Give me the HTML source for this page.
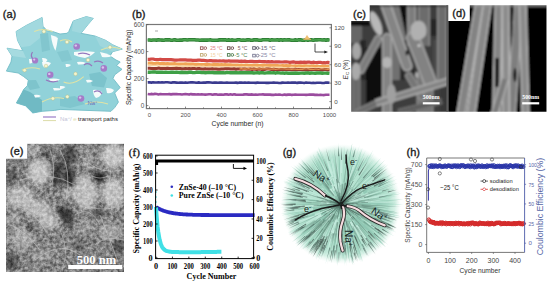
<!DOCTYPE html>
<html><head><meta charset="utf-8"><style>
html,body{margin:0;padding:0;background:#fff;width:550px;height:285px;overflow:hidden}
svg{display:block}
</style></head><body>
<svg width="550" height="285" viewBox="0 0 550 285">
<rect width="550" height="285" fill="#fff"/>
<text x="9.5" y="18.31" font-size="11" text-anchor="middle" font-weight="normal" fill="#1a1a1a" style="font-family:'Liberation Sans',sans-serif" stroke="#1a1a1a" stroke-width="0.35">(a)</text>
<filter id="ab" x="-10%" y="-10%" width="120%" height="120%"><feGaussianBlur stdDeviation="0.5"/></filter>
<g filter="url(#ab)">
<polygon points="16.1,31.5 26.3,25.4 42.1,17.5 43,26.3 47.4,31 52.6,31.5 60,34 67,33.3 68.8,31.5 73.2,21 86.3,16.6 93.3,18.4 88,24.5 81,33.3 95,36 105.6,40.3 112.6,44.7 122.3,49.1 112.6,51.7 110,56 116,60 120.2,62 116.6,65.6 122,69.3 114.7,74.8 113,78.4 120.2,87.5 114.7,93 118.4,102.1 114.7,107.6 111,111.3 90,110.5 60,109.4 54.7,110.4 42,111.3 32.8,113 25.5,105.8 16.4,103 21.9,93 23.7,89.4 27.4,85.7 28.3,80.2 23.7,76.6 18.2,73 6.4,71.1 11,62 12,56 7,48.2 22.8,50.8 21,47.3 17.5,40.3" fill="#91d2d9" stroke="#72bcc6" stroke-width="0.9" stroke-linejoin="round"/>
<polygon points="16.1,31.5 26.3,25.4 42.1,17.5 43,26.3 40,38 30,46 21,47.3 17.5,40.3" fill="#a2d9df" />
<polygon points="73.2,21 86.3,16.6 93.3,18.4 88,24.5 81,33.3 72,31" fill="#a0d8de" />
<polygon points="7,48.2 22.8,50.8 26,58 12,56" fill="#a6dbe0" />
<polygon points="95,36 105.6,40.3 112.6,44.7 122.3,49.1 112.6,51.7 100,46" fill="#9fd7dd" />
<polygon points="21.9,93 23.7,89.4 30,92 42,100 42,111.3 32.8,113 25.5,105.8 16.4,103" fill="#70bac4" />
<polygon points="89,74 100,72 107,78 104,87.5 92,86" fill="#7cc3cc" />
<polygon points="28.3,80.2 36,80 40,88 30,90 27.4,85.7" fill="#7ec4cc" />
<polygon points="60,98 75,96 85,104 70,108 60,106" fill="#80c6ce" />
<polygon points="40,34 48,33 50,50 42,52" fill="#82c6ce" />
<polygon points="57,52 68,50 72,60 62,62" fill="#84c8d0" />
<path d="M50.9,35 Q55,36 57.9,38 Q57,45 55.5,50.8 Q52,45 50.9,35 Z" fill="#f6fbfb"/>
<path d="M74,52 Q85,50.5 95,52 Q92,56 85,57.9 Q78,57 74,55 Z" fill="#f6fbfb"/>
<path d="M42,62 Q47,61 51,63 Q49,67 44,67.5 Q42,65 42,62 Z" fill="#f6fbfb"/>
<path d="M49,79 Q55,78 60,79.5 Q57,82 51,82 Z" fill="#f6fbfb"/>
<path d="M53,88 Q58,87.5 62,89 Q59,91 54,90.5 Z" fill="#f6fbfb"/>
<path d="M65.5,64 Q69,63.5 71,65 Q69,67.5 66,67 Z" fill="#f6fbfb"/>
<path d="M93,90 Q98,89 102,92 Q101,97 96,98 Q93,95 93,90 Z" fill="#f6fbfb"/>
<path d="M106,88 Q111,87.5 114,90 Q112,94 107,93 Z" fill="#f6fbfb"/>
<path d="M60,86 Q63,85.5 65.5,87 Q63,89.5 60,89 Z" fill="#f6fbfb"/>
<path d="M29,59 Q32,58.5 33.5,61 Q32,64 29.5,63.5 Z" fill="#f6fbfb"/>
<path d="M42,58 Q46,57.5 47.5,60 Q46,63 43,62.5 Z" fill="#f6fbfb"/>
<path d="M100,52 Q106,53 112,56 Q108,58 102,57 Z" fill="#f6fbfb"/>
<path d="M77,62 Q82,61 86,63 Q83,65 78,64.5 Z" fill="#f6fbfb"/>
<path d="M34,95 Q38,94 41,96 Q38,98 35,97.5 Z" fill="#f6fbfb"/>
<path d="M86,80 Q90,79 93,81 Q90,83 87,82.5 Z" fill="#f6fbfb"/>
</g>
<path d="M34.2,31.5 Q43,27.5 52.6,31.5" fill="none" stroke="#dfe3a6" stroke-width="1.1"/>
<path d="M63.6,82 Q73,86 83.7,76.6" fill="none" stroke="#dfe3a6" stroke-width="1.1"/>
<path d="M42,102 Q53,96 64,98.5" fill="none" stroke="#dfe3a6" stroke-width="1.1"/>
<path d="M101,50 Q111,45 121,49" fill="none" stroke="#dfe3a6" stroke-width="1.1"/>
<path d="M60,41 Q66,38 72,42" fill="none" stroke="#dfe3a6" stroke-width="1.1"/>
<path d="M22,70 Q30,66 40,69" fill="none" stroke="#dfe3a6" stroke-width="1.1"/>
<path d="M85,104 Q96,100 108,104" fill="none" stroke="#dfe3a6" stroke-width="1.1"/>
<path d="M32.5,52 Q30,56 33,59" fill="none" stroke="#9577bd" stroke-width="1.2"/>
<path d="M94,92 Q99,89 102,94" fill="none" stroke="#9577bd" stroke-width="1.2"/>
<path d="M78,54 Q84,52 90,55" fill="none" stroke="#9577bd" stroke-width="1.2"/>
<path d="M94,62 Q99,60 103,63" fill="none" stroke="#9577bd" stroke-width="1.2"/>
<path d="M46,80 Q52,83 58,81" fill="none" stroke="#9577bd" stroke-width="1.2"/>
<path d="M84,65 Q88,62 92,66" fill="none" stroke="#9577bd" stroke-width="1.2"/>
<circle cx="35.1" cy="60.5" r="3.1" fill="#a47cc8"/>
<circle cx="34.2" cy="59.6" r="1.1" fill="#d8c4ec"/>
<circle cx="76.7" cy="46.5" r="3.3" fill="#a47cc8"/>
<circle cx="75.8" cy="45.6" r="1.2" fill="#d8c4ec"/>
<circle cx="50.2" cy="74.8" r="3.3" fill="#a47cc8"/>
<circle cx="49.300000000000004" cy="73.89999999999999" r="1.2" fill="#d8c4ec"/>
<circle cx="103.8" cy="68.4" r="3.3" fill="#a47cc8"/>
<circle cx="102.89999999999999" cy="67.5" r="1.2" fill="#d8c4ec"/>
<circle cx="81" cy="98.5" r="3.3" fill="#a47cc8"/>
<circle cx="80.1" cy="97.6" r="1.2" fill="#d8c4ec"/>
<circle cx="43.9" cy="31.5" r="1.8" fill="#f3f5cf" stroke="#b9b97a" stroke-width="0.4"/>
<circle cx="67" cy="42" r="1.8" fill="#f3f5cf" stroke="#b9b97a" stroke-width="0.4"/>
<circle cx="110" cy="47.3" r="1.8" fill="#f3f5cf" stroke="#b9b97a" stroke-width="0.4"/>
<circle cx="24.6" cy="70.2" r="1.8" fill="#f3f5cf" stroke="#b9b97a" stroke-width="0.4"/>
<circle cx="52.9" cy="98.5" r="1.8" fill="#f3f5cf" stroke="#b9b97a" stroke-width="0.4"/>
<circle cx="75.5" cy="73.9" r="1.8" fill="#f3f5cf" stroke="#b9b97a" stroke-width="0.4"/>
<circle cx="67.3" cy="96.7" r="1.8" fill="#f3f5cf" stroke="#b9b97a" stroke-width="0.4"/>
<circle cx="46" cy="66" r="1.8" fill="#f3f5cf" stroke="#b9b97a" stroke-width="0.4"/>
<circle cx="88" cy="60" r="1.8" fill="#f3f5cf" stroke="#b9b97a" stroke-width="0.4"/>
<text x="87.4" y="104.5" font-size="6" text-anchor="start" font-weight="normal" fill="#7070b8" style="font-family:'Liberation Sans',sans-serif" >Na<tspan font-size="4" dy="-2">+</tspan></text>
<line x1="43" y1="117" x2="56" y2="117" stroke="#9a7cc8" stroke-width="1.2"/>
<line x1="43" y1="120.6" x2="56" y2="120.6" stroke="#dcdca8" stroke-width="1"/>
<text x="60" y="121.3" font-size="6" text-anchor="start" font-weight="normal" fill="#c4c4d8" style="font-family:'Liberation Sans',sans-serif" >Na<tspan font-size="4" dy="-2">+</tspan><tspan dy="2">/ </tspan><tspan fill="#e0e0b0">e</tspan></text>
<text x="78.1" y="121.4" font-size="6.0" text-anchor="start" font-weight="normal" fill="#222" style="font-family:'Liberation Sans',sans-serif" textLength="39.8" lengthAdjust="spacingAndGlyphs" >transport paths</text>
<text x="138.7" y="17.96" font-size="11" text-anchor="middle" font-weight="normal" fill="#1a1a1a" style="font-family:'Liberation Sans',sans-serif" stroke="#1a1a1a" stroke-width="0.35">(b)</text>
<polyline points="147.7,59.3 149.5,59.3 151.3,59.0 153.1,59.0 154.9,59.5 156.7,59.5 158.5,59.5 160.3,59.4 162.1,59.6 163.9,59.6 165.7,59.7 167.5,59.5 169.3,59.7 171.1,59.7 172.9,59.9 174.7,60.1 176.5,60.1 178.3,60.0 180.1,59.9 181.9,59.9 183.7,59.8 185.5,59.9 187.3,60.1 189.1,60.1 190.9,60.2 192.7,60.4 194.5,60.3 196.3,60.4 198.1,60.2 199.9,60.2 201.7,60.3 203.5,60.3 205.3,60.5 207.1,60.8 208.9,60.7 210.7,60.5 212.5,60.9 214.3,60.8 216.1,60.8 217.9,61.0 219.7,60.9 221.5,61.0 223.3,60.8 225.1,61.1 226.9,61.2 228.7,60.8 230.5,61.1 232.3,61.1 234.1,61.0 235.9,61.1 237.7,61.1 239.5,61.4 241.3,61.2 243.1,61.4 244.9,61.2 246.7,61.5 248.5,61.5 250.3,61.3 252.1,61.4 253.9,61.6 255.7,61.6 257.5,61.5 259.3,61.4 261.1,61.5 262.9,61.7 264.7,61.5 266.5,61.9 268.3,61.6 270.1,61.9 271.9,61.6 273.7,62.0 275.5,61.9 277.3,61.8 279.1,61.9 280.9,62.0 282.7,62.0 284.5,61.9 286.3,61.8 288.1,62.0 289.9,62.3 291.7,62.1 293.5,61.9 295.3,62.3 297.1,62.3 298.9,62.4 300.7,62.1 302.5,62.4 304.3,62.1 306.1,62.4 307.9,62.2 309.7,62.2 311.5,62.6 313.3,62.2 315.1,62.5 316.9,62.7 318.7,62.4 320.5,62.4 322.3,62.8 324.1,62.6 325.9,62.8 327.7,62.4 329.5,62.6" fill="none" stroke="#d24a46" stroke-width="3.2" stroke-linejoin="round" stroke-linecap="butt" />
<polyline points="147.7,63.1 149.5,63.2 151.3,63.2 153.1,63.4 154.9,63.5 156.7,63.2 158.5,63.2 160.3,63.7 162.1,63.5 163.9,63.5 165.7,63.9 167.5,63.7 169.3,63.9 171.1,63.8 172.9,63.9 174.7,63.7 176.5,64.0 178.3,64.1 180.1,64.0 181.9,64.1 183.7,64.1 185.5,63.9 187.3,64.2 189.1,64.2 190.9,64.1 192.7,64.0 194.5,64.4 196.3,64.3 198.1,64.4 199.9,64.5 201.7,64.5 203.5,64.6 205.3,64.4 207.1,64.6 208.9,64.5 210.7,64.8 212.5,64.8 214.3,64.4 216.1,64.5 217.9,64.5 219.7,64.9 221.5,64.7 223.3,64.8 225.1,64.7 226.9,64.8 228.7,64.8 230.5,64.8 232.3,65.0 234.1,65.0 235.9,65.2 237.7,65.1 239.5,65.3 241.3,65.2 243.1,65.3 244.9,65.2 246.7,65.0 248.5,65.4 250.3,65.4 252.1,65.4 253.9,65.3 255.7,65.4 257.5,65.2 259.3,65.5 261.1,65.4 262.9,65.3 264.7,65.2 266.5,65.6 268.3,65.7 270.1,65.3 271.9,65.7 273.7,65.5 275.5,65.4 277.3,65.5 279.1,65.8 280.9,65.9 282.7,65.5 284.5,65.8 286.3,65.5 288.1,65.9 289.9,65.7 291.7,66.0 293.5,66.1 295.3,65.9 297.1,66.2 298.9,65.9 300.7,65.8 302.5,66.1 304.3,65.8 306.1,65.9 307.9,66.0 309.7,66.2 311.5,66.0 313.3,65.9 315.1,66.4 316.9,66.1 318.7,66.5 320.5,66.5 322.3,66.2 324.1,66.3 325.9,66.4 327.7,66.4 329.5,66.4" fill="none" stroke="#f0a556" stroke-width="3.2" stroke-linejoin="round" stroke-linecap="butt" />
<polyline points="147.7,65.5 149.5,65.4 151.3,65.6 153.1,65.5 154.9,65.5 156.7,65.7 158.5,66.0 160.3,66.0 162.1,66.0 163.9,65.8 165.7,66.0 167.5,65.9 169.3,65.8 171.1,65.8 172.9,65.9 174.7,66.3 176.5,66.3 178.3,66.3 180.1,66.3 181.9,66.1 183.7,66.1 185.5,66.3 187.3,66.4 189.1,66.5 190.9,66.5 192.7,66.2 194.5,66.4 196.3,66.5 198.1,66.4 199.9,66.3 201.7,66.5 203.5,66.3 205.3,66.8 207.1,66.7 208.9,66.6 210.7,66.5 212.5,66.8 214.3,66.7 216.1,66.9 217.9,66.9 219.7,66.7 221.5,66.7 223.3,66.8 225.1,66.8 226.9,66.7 228.7,66.7 230.5,67.0 232.3,66.7 234.1,66.7 235.9,67.0 237.7,66.8 239.5,67.0 241.3,67.0 243.1,66.9 244.9,67.3 246.7,66.9 248.5,67.0 250.3,67.0 252.1,67.2 253.9,67.0 255.7,67.1 257.5,67.3 259.3,67.1 261.1,67.3 262.9,67.5 264.7,67.1 266.5,67.1 268.3,67.2 270.1,67.5 271.9,67.4 273.7,67.3 275.5,67.3 277.3,67.3 279.1,67.4 280.9,67.2 282.7,67.6 284.5,67.7 286.3,67.8 288.1,67.7 289.9,67.8 291.7,67.3 293.5,67.5 295.3,67.9 297.1,67.8 298.9,67.6 300.7,67.9 302.5,67.8 304.3,67.9 306.1,67.6 307.9,67.6 309.7,67.8 311.5,67.6 313.3,67.8 315.1,68.1 316.9,67.8 318.7,67.6 320.5,67.7 322.3,67.8 324.1,68.1 325.9,67.9 327.7,67.9 329.5,67.8" fill="none" stroke="#f6d6a6" stroke-width="1.6" stroke-linejoin="round" stroke-linecap="butt" />
<polyline points="147.7,68.3 149.5,68.3 151.3,68.4 153.1,68.5 154.9,68.4 156.7,68.5 158.5,68.1 160.3,68.4 162.1,68.6 163.9,68.5 165.7,68.6 167.5,68.3 169.3,68.5 171.1,68.4 172.9,68.5 174.7,68.6 176.5,68.3 178.3,68.4 180.1,68.5 181.9,68.8 183.7,68.8 185.5,68.5 187.3,68.8 189.1,68.5 190.9,68.8 192.7,68.5 194.5,68.5 196.3,68.9 198.1,68.6 199.9,68.6 201.7,69.0 203.5,69.0 205.3,68.7 207.1,69.1 208.9,68.9 210.7,69.0 212.5,68.7 214.3,69.1 216.1,69.0 217.9,69.2 219.7,69.2 221.5,68.9 223.3,68.9 225.1,68.8 226.9,68.8 228.7,68.8 230.5,68.9 232.3,69.1 234.1,68.8 235.9,69.2 237.7,69.0 239.5,69.0 241.3,69.3 243.1,69.1 244.9,69.1 246.7,69.2 248.5,69.3 250.3,69.0 252.1,69.5 253.9,69.0 255.7,69.4 257.5,69.4 259.3,69.0 261.1,69.4 262.9,69.2 264.7,69.4 266.5,69.1 268.3,69.1 270.1,69.2 271.9,69.6 273.7,69.2 275.5,69.5 277.3,69.6 279.1,69.7 280.9,69.4 282.7,69.4 284.5,69.5 286.3,69.6 288.1,69.3 289.9,69.6 291.7,69.7 293.5,69.7 295.3,69.3 297.1,69.8 298.9,69.4 300.7,69.5 302.5,69.7 304.3,69.8 306.1,69.6 307.9,69.9 309.7,69.7 311.5,69.6 313.3,69.6 315.1,69.5 316.9,69.5 318.7,69.5 320.5,69.8 322.3,70.0 324.1,69.6 325.9,69.5 327.7,70.0 329.5,69.8" fill="none" stroke="#963a30" stroke-width="3.0" stroke-linejoin="round" stroke-linecap="butt" />
<polyline points="239.5,69.2 241.3,68.7 243.1,69.1 244.9,68.8 246.7,69.2 248.5,68.7 250.3,69.2 252.1,69.1 253.9,69.2 255.7,69.2 257.5,68.9 259.3,68.9 261.1,69.1 262.9,68.9 264.7,68.9 266.5,68.9 268.3,69.2 270.1,69.2 271.9,69.2 273.7,68.9 275.5,69.3 277.3,69.1 279.1,68.9 280.9,69.0 282.7,69.0 284.5,68.9 286.3,69.1 288.1,69.0 289.9,69.1 291.7,69.3 293.5,69.2 295.3,69.1 297.1,69.3 298.9,69.4 300.7,69.1 302.5,69.3 304.3,68.9 306.1,69.0 307.9,69.0 309.7,69.4 311.5,69.2 313.3,69.3 315.1,69.1 316.9,69.2 318.7,69.4 320.5,69.0 322.3,69.0 324.1,69.0 325.9,69.2 327.7,69.4 329.5,69.2" fill="none" stroke="#e3904a" stroke-width="1.2" stroke-linejoin="round" stroke-linecap="butt" />
<polyline points="147.7,72.2 149.5,72.3 151.3,72.1 153.1,72.0 154.9,71.9 156.7,72.3 158.5,72.2 160.3,72.3 162.1,72.2 163.9,72.4 165.7,72.1 167.5,72.4 169.3,72.4 171.1,72.3 172.9,72.3 174.7,72.4 176.5,72.2 178.3,72.4 180.1,72.5 181.9,72.3 183.7,72.5 185.5,72.5 187.3,72.6 189.1,72.3 190.9,72.2 192.7,72.6 194.5,72.6 196.3,72.4 198.1,72.3 199.9,72.3 201.7,72.6 203.5,72.4 205.3,72.8 207.1,72.6 208.9,72.4 210.7,72.6 212.5,72.5 214.3,72.8 216.1,72.8 217.9,72.6 219.7,72.7 221.5,72.7 223.3,72.8 225.1,72.9 226.9,72.4 228.7,72.6 230.5,72.7 232.3,72.6 234.1,72.7 235.9,72.5 237.7,72.9 239.5,72.7 241.3,72.6 243.1,72.8 244.9,72.7 246.7,72.6 248.5,72.8 250.3,72.6 252.1,72.7 253.9,73.0 255.7,72.9 257.5,72.6 259.3,73.0 261.1,72.6 262.9,72.8 264.7,73.1 266.5,72.9 268.3,72.8 270.1,72.8 271.9,72.9 273.7,72.7 275.5,73.2 277.3,72.7 279.1,72.9 280.9,73.1 282.7,72.9 284.5,73.2 286.3,72.9 288.1,73.2 289.9,73.2 291.7,73.1 293.5,73.2 295.3,73.0 297.1,73.2 298.9,73.2 300.7,73.1 302.5,73.1 304.3,73.2 306.1,73.0 307.9,72.9 309.7,73.2 311.5,73.0 313.3,73.1 315.1,73.3 316.9,73.0 318.7,72.9 320.5,73.0 322.3,73.2 324.1,73.1 325.9,73.1 327.7,73.2 329.5,73.4" fill="none" stroke="#3ea046" stroke-width="3.4" stroke-linejoin="round" stroke-linecap="butt" />
<polyline points="147.7,82.4 149.5,82.3 151.3,82.6 153.1,82.3 154.9,82.5 156.7,82.5 158.5,82.3 160.3,82.5 162.1,82.3 163.9,82.5 165.7,82.3 167.5,82.3 169.3,82.5 171.1,82.7 172.9,82.4 174.7,82.4 176.5,82.6 178.3,82.8 180.1,82.6 181.9,82.5 183.7,82.8 185.5,82.4 187.3,82.8 189.1,82.5 190.9,82.4 192.7,82.4 194.5,82.5 196.3,82.8 198.1,82.4 199.9,82.6 201.7,82.7 203.5,82.6 205.3,82.6 207.1,82.4 208.9,82.4 210.7,82.5 212.5,82.7 214.3,82.6 216.1,82.5 217.9,82.7 219.7,82.6 221.5,82.5 223.3,82.8 225.1,82.7 226.9,82.5 228.7,82.7 230.5,82.7 232.3,82.8 234.1,82.8 235.9,82.6 237.7,82.9 239.5,82.5 241.3,82.6 243.1,82.8 244.9,82.5 246.7,82.7 248.5,82.5 250.3,82.8 252.1,82.8 253.9,82.7 255.7,82.9 257.5,82.6 259.3,82.8 261.1,82.8 262.9,82.7 264.7,82.7 266.5,82.9 268.3,82.9 270.1,82.7 271.9,82.8 273.7,82.5 275.5,82.8 277.3,82.8 279.1,83.0 280.9,82.9 282.7,82.6 284.5,82.7 286.3,82.8 288.1,82.5 289.9,82.7 291.7,82.6 293.5,82.6 295.3,82.5 297.1,82.9 298.9,82.6 300.7,82.6 302.5,82.7 304.3,83.0 306.1,82.6 307.9,82.7 309.7,82.8 311.5,83.0 313.3,82.9 315.1,83.0 316.9,82.7 318.7,82.7 320.5,82.7 322.3,83.0 324.1,83.0 325.9,82.6 327.7,82.6 329.5,82.7" fill="none" stroke="#3a3a8e" stroke-width="2.6" stroke-linejoin="round" stroke-linecap="butt" />
<polyline points="147.7,94.0 149.5,94.3 151.3,93.9 153.1,94.2 154.9,93.9 156.7,94.0 158.5,94.4 160.3,94.0 162.1,94.3 163.9,94.2 165.7,94.2 167.5,94.2 169.3,94.1 171.1,94.4 172.9,94.1 174.7,94.1 176.5,94.0 178.3,94.2 180.1,94.2 181.9,94.5 183.7,94.3 185.5,94.1 187.3,94.2 189.1,94.6 190.9,94.1 192.7,94.4 194.5,94.3 196.3,94.5 198.1,94.3 199.9,94.5 201.7,94.4 203.5,94.5 205.3,94.6 207.1,94.5 208.9,94.3 210.7,94.2 212.5,94.7 214.3,94.4 216.1,94.3 217.9,94.7 219.7,94.5 221.5,94.6 223.3,94.7 225.1,94.4 226.9,94.4 228.7,94.7 230.5,94.3 232.3,94.7 234.1,94.3 235.9,94.6 237.7,94.7 239.5,94.8 241.3,94.7 243.1,94.6 244.9,94.4 246.7,94.4 248.5,94.6 250.3,94.6 252.1,94.4 253.9,94.8 255.7,94.6 257.5,94.7 259.3,94.5 261.1,94.5 262.9,94.4 264.7,94.6 266.5,94.6 268.3,94.6 270.1,94.6 271.9,94.9 273.7,94.9 275.5,94.5 277.3,94.7 279.1,94.5 280.9,94.8 282.7,95.0 284.5,94.6 286.3,94.9 288.1,94.6 289.9,94.5 291.7,94.9 293.5,94.7 295.3,94.6 297.1,94.8 298.9,94.7 300.7,94.8 302.5,94.8 304.3,94.8 306.1,94.9 307.9,94.7 309.7,94.6 311.5,94.6 313.3,94.6 315.1,94.9 316.9,94.8 318.7,95.0 320.5,94.9 322.3,95.0 324.1,95.1 325.9,94.7 327.7,94.7 329.5,94.7" fill="none" stroke="#9a4c9e" stroke-width="2.6" stroke-linejoin="round" stroke-linecap="butt" />
<polyline points="147.7,40.0 149.5,40.0 151.3,40.3 153.1,40.0 154.9,40.0 156.7,40.1 158.5,39.8 160.3,40.0 162.1,40.1 163.9,40.2 165.7,39.8 167.5,39.9 169.3,39.8 171.1,40.2 172.9,40.1 174.7,39.7 176.5,40.3 178.3,40.3 180.1,40.1 181.9,40.1 183.7,39.8 185.5,39.7 187.3,40.0 189.1,39.7 190.9,39.8 192.7,39.8 194.5,39.7 196.3,40.0 198.1,40.0 199.9,40.2 201.7,40.0 203.5,40.1 205.3,40.0 207.1,40.1 208.9,40.0 210.7,39.9 212.5,40.3 214.3,40.3 216.1,40.2 217.9,40.1 219.7,39.9 221.5,39.8 223.3,39.9 225.1,39.7 226.9,40.2 228.7,39.9 230.5,40.2 232.3,39.9 234.1,40.3 235.9,40.2 237.7,39.7 239.5,39.8 241.3,40.2 243.1,40.0 244.9,40.3 246.7,39.9 248.5,39.7 250.3,40.1 252.1,40.2 253.9,39.9 255.7,39.8 257.5,39.9 259.3,40.3 261.1,40.2 262.9,39.8 264.7,39.8 266.5,39.8 268.3,39.7 270.1,40.2 271.9,39.8 273.7,40.0 275.5,40.0 277.3,39.8 279.1,40.1 280.9,39.8 282.7,40.1 284.5,39.8 286.3,40.0 288.1,39.8 289.9,39.9 291.7,40.3 293.5,40.2 295.3,39.9 297.1,40.2 298.9,39.8 300.7,39.9 302.5,40.2 304.3,40.1 306.1,39.8 307.9,40.3 309.7,39.8 311.5,39.9 313.3,40.2 315.1,39.9 316.9,39.9 318.7,39.7 320.5,39.8 322.3,40.0 324.1,39.8 325.9,40.1 327.7,39.9 329.5,40.0" fill="none" stroke="#2e7f34" stroke-width="3.6" stroke-linejoin="round" stroke-linecap="butt" />
<polyline points="147.7,40.0 149.5,40.0 151.3,40.3 153.1,40.0 154.9,40.0 156.7,40.1 158.5,39.8 160.3,40.0 162.1,40.1 163.9,40.2 165.7,39.8 167.5,39.9 169.3,39.8 171.1,40.2 172.9,40.1 174.7,39.7 176.5,40.3 178.3,40.3 180.1,40.1 181.9,40.1 183.7,39.8 185.5,39.7 187.3,40.0 189.1,39.7 190.9,39.8 192.7,39.8 194.5,39.7 196.3,40.0 198.1,40.0 199.9,40.2 201.7,40.0 203.5,40.1 205.3,40.0 207.1,40.1 208.9,40.0 210.7,39.9 212.5,40.3 214.3,40.3 216.1,40.2 217.9,40.1 219.7,39.9 221.5,39.8 223.3,39.9 225.1,39.7 226.9,40.2 228.7,39.9 230.5,40.2 232.3,39.9 234.1,40.3 235.9,40.2 237.7,39.7 239.5,39.8 241.3,40.2 243.1,40.0 244.9,40.3 246.7,39.9 248.5,39.7 250.3,40.1 252.1,40.2 253.9,39.9 255.7,39.8 257.5,39.9 259.3,40.3 261.1,40.2 262.9,39.8 264.7,39.8 266.5,39.8 268.3,39.7 270.1,40.2 271.9,39.8 273.7,40.0 275.5,40.0 277.3,39.8 279.1,40.1 280.9,39.8 282.7,40.1 284.5,39.8 286.3,40.0 288.1,39.8 289.9,39.9 291.7,40.3 293.5,40.2 295.3,39.9 297.1,40.2 298.9,39.8 300.7,39.9 302.5,40.2 304.3,40.1 306.1,39.8 307.9,40.3 309.7,39.8 311.5,39.9 313.3,40.2 315.1,39.9 316.9,39.9 318.7,39.7 320.5,39.8 322.3,40.0 324.1,39.8 325.9,40.1 327.7,39.9 329.5,40.0" fill="none" stroke="#4aa64e" stroke-width="1.4" stroke-linejoin="round" stroke-linecap="butt" />
<path d="M303.5,39.5 Q306,38 307,35.5 Q308,38 311,39.5 Z" fill="#f0c070" stroke="#eab060" stroke-width="0.6"/>
<rect x="155" y="30.5" width="3" height="1" fill="#aaa"/>
<rect x="146.4" y="24.5" width="184.99999999999997" height="84.1" fill="none" stroke="#777" stroke-width="1.2"/>
<line x1="146.4" y1="105.6" x2="148.4" y2="105.6" stroke="#555" stroke-width="0.7"/>
<text x="144.3" y="107.89999999999999" font-size="6.4" text-anchor="end" font-weight="normal" fill="#505050" style="font-family:'Liberation Sans',sans-serif" >0</text>
<line x1="146.4" y1="78.6" x2="148.4" y2="78.6" stroke="#555" stroke-width="0.7"/>
<text x="144.3" y="80.89999999999999" font-size="6.4" text-anchor="end" font-weight="normal" fill="#505050" style="font-family:'Liberation Sans',sans-serif" >200</text>
<line x1="146.4" y1="51.599999999999994" x2="148.4" y2="51.599999999999994" stroke="#555" stroke-width="0.7"/>
<text x="144.3" y="53.89999999999999" font-size="6.4" text-anchor="end" font-weight="normal" fill="#505050" style="font-family:'Liberation Sans',sans-serif" >400</text>
<line x1="146.4" y1="24.599999999999994" x2="148.4" y2="24.599999999999994" stroke="#555" stroke-width="0.7"/>
<text x="144.3" y="26.899999999999995" font-size="6.4" text-anchor="end" font-weight="normal" fill="#505050" style="font-family:'Liberation Sans',sans-serif" >600</text>
<line x1="329.4" y1="101.6" x2="331.4" y2="101.6" stroke="#555" stroke-width="0.7"/>
<text x="334.2" y="103.8" font-size="6.2" text-anchor="start" font-weight="normal" fill="#505050" style="font-family:'Liberation Sans',sans-serif" >0</text>
<line x1="329.4" y1="83.14999999999999" x2="331.4" y2="83.14999999999999" stroke="#555" stroke-width="0.7"/>
<text x="334.2" y="85.35" font-size="6.2" text-anchor="start" font-weight="normal" fill="#505050" style="font-family:'Liberation Sans',sans-serif" >30</text>
<line x1="329.4" y1="64.69999999999999" x2="331.4" y2="64.69999999999999" stroke="#555" stroke-width="0.7"/>
<text x="334.2" y="66.89999999999999" font-size="6.2" text-anchor="start" font-weight="normal" fill="#505050" style="font-family:'Liberation Sans',sans-serif" >60</text>
<line x1="329.4" y1="46.24999999999999" x2="331.4" y2="46.24999999999999" stroke="#555" stroke-width="0.7"/>
<text x="334.2" y="48.449999999999996" font-size="6.2" text-anchor="start" font-weight="normal" fill="#505050" style="font-family:'Liberation Sans',sans-serif" >90</text>
<line x1="329.4" y1="27.799999999999997" x2="331.4" y2="27.799999999999997" stroke="#555" stroke-width="0.7"/>
<text x="334.2" y="29.999999999999996" font-size="6.2" text-anchor="start" font-weight="normal" fill="#505050" style="font-family:'Liberation Sans',sans-serif" >120</text>
<line x1="149.5" y1="108.6" x2="149.5" y2="106.6" stroke="#555" stroke-width="0.7"/>
<text x="149.5" y="117.0" font-size="6.0" text-anchor="middle" font-weight="normal" fill="#505050" style="font-family:'Liberation Sans',sans-serif" >0</text>
<line x1="167.5" y1="108.6" x2="167.5" y2="107.39999999999999" stroke="#555" stroke-width="0.7"/>
<line x1="185.5" y1="108.6" x2="185.5" y2="106.6" stroke="#555" stroke-width="0.7"/>
<text x="185.5" y="117.0" font-size="6.0" text-anchor="middle" font-weight="normal" fill="#505050" style="font-family:'Liberation Sans',sans-serif" >200</text>
<line x1="203.5" y1="108.6" x2="203.5" y2="107.39999999999999" stroke="#555" stroke-width="0.7"/>
<line x1="221.5" y1="108.6" x2="221.5" y2="106.6" stroke="#555" stroke-width="0.7"/>
<text x="221.5" y="117.0" font-size="6.0" text-anchor="middle" font-weight="normal" fill="#505050" style="font-family:'Liberation Sans',sans-serif" >400</text>
<line x1="239.5" y1="108.6" x2="239.5" y2="107.39999999999999" stroke="#555" stroke-width="0.7"/>
<line x1="257.5" y1="108.6" x2="257.5" y2="106.6" stroke="#555" stroke-width="0.7"/>
<text x="257.5" y="117.0" font-size="6.0" text-anchor="middle" font-weight="normal" fill="#505050" style="font-family:'Liberation Sans',sans-serif" >600</text>
<line x1="275.5" y1="108.6" x2="275.5" y2="107.39999999999999" stroke="#555" stroke-width="0.7"/>
<line x1="293.5" y1="108.6" x2="293.5" y2="106.6" stroke="#555" stroke-width="0.7"/>
<text x="293.5" y="117.0" font-size="6.0" text-anchor="middle" font-weight="normal" fill="#505050" style="font-family:'Liberation Sans',sans-serif" >800</text>
<line x1="311.5" y1="108.6" x2="311.5" y2="107.39999999999999" stroke="#555" stroke-width="0.7"/>
<line x1="329.5" y1="108.6" x2="329.5" y2="106.6" stroke="#555" stroke-width="0.7"/>
<text x="329.5" y="117.0" font-size="6.0" text-anchor="middle" font-weight="normal" fill="#505050" style="font-family:'Liberation Sans',sans-serif" >1000</text>
<text x="237.6" y="125.7" font-size="6.8" text-anchor="middle" font-weight="normal" fill="#2a2a2a" style="font-family:'Liberation Sans',sans-serif" textLength="52" lengthAdjust="spacingAndGlyphs" >Cycle number (n)</text>
<text transform="translate(131.4,67.3) rotate(-90)" x="0" y="0" font-size="6.5" text-anchor="middle" font-weight="normal" fill="#222" style="font-family:'Liberation Sans',sans-serif" textLength="75.5" lengthAdjust="spacingAndGlyphs">Specific Capacity (mAh/g)</text>
<text transform="translate(348,69.6) rotate(-90)" font-size="6.6" text-anchor="middle" fill="#333" style="font-family:'Liberation Sans',sans-serif"><tspan font-style="italic">E</tspan><tspan font-size="4.3" dy="1.2">C</tspan><tspan dy="-1.2"> (%)</tspan></text>
<path d="M315,43.5 L315,52 L325.5,52" fill="none" stroke="#222" stroke-width="0.8"/>
<path d="M328,52 L324.3,50.4 L324.3,53.6 Z" fill="#222"/>
<rect x="200.4" y="46.800000000000004" width="2.6" height="2.6" fill="none" stroke="#9a5a5a" stroke-width="0.9"/>
<circle cx="205.3" cy="48.1" r="1.35" fill="none" stroke="#9a5a5a" stroke-width="0.9"/>
<text x="210.2" y="49.9" font-size="5.0" text-anchor="start" font-weight="normal" fill="#e07a7a" style="font-family:'Liberation Sans',sans-serif" textLength="12.3" lengthAdjust="spacingAndGlyphs" >25 °C</text>
<rect x="227.4" y="46.800000000000004" width="2.6" height="2.6" fill="none" stroke="#6a4a4a" stroke-width="0.9"/>
<circle cx="232.3" cy="48.1" r="1.35" fill="none" stroke="#6a4a4a" stroke-width="0.9"/>
<text x="237.7" y="49.9" font-size="5.0" text-anchor="start" font-weight="normal" fill="#7a5a5a" style="font-family:'Liberation Sans',sans-serif" textLength="9.8" lengthAdjust="spacingAndGlyphs" >5 °C</text>
<rect x="252.7" y="46.7" width="2.6" height="2.6" fill="none" stroke="#5a5a6a" stroke-width="0.9"/>
<circle cx="257.59999999999997" cy="48.0" r="1.35" fill="none" stroke="#5a5a6a" stroke-width="0.9"/>
<text x="258.8" y="49.8" font-size="5.0" text-anchor="start" font-weight="normal" fill="#6a6a7a" style="font-family:'Liberation Sans',sans-serif" textLength="16.8" lengthAdjust="spacingAndGlyphs" >-15 °C</text>
<rect x="200.4" y="53.6" width="2.6" height="2.6" fill="none" stroke="#c0a870" stroke-width="0.9"/>
<circle cx="205.3" cy="54.9" r="1.35" fill="none" stroke="#c0a870" stroke-width="0.9"/>
<text x="210.2" y="56.699999999999996" font-size="5.0" text-anchor="start" font-weight="normal" fill="#f0d09a" style="font-family:'Liberation Sans',sans-serif" textLength="12.3" lengthAdjust="spacingAndGlyphs" >15 °C</text>
<rect x="227.4" y="53.6" width="2.6" height="2.6" fill="none" stroke="#4a7a4a" stroke-width="0.9"/>
<circle cx="232.3" cy="54.9" r="1.35" fill="none" stroke="#4a7a4a" stroke-width="0.9"/>
<text x="234.3" y="56.699999999999996" font-size="5.0" text-anchor="start" font-weight="normal" fill="#5a8a5a" style="font-family:'Liberation Sans',sans-serif" textLength="13.2" lengthAdjust="spacingAndGlyphs" >-5 °C</text>
<rect x="252.7" y="54.300000000000004" width="2.6" height="2.6" fill="none" stroke="#7a7a94" stroke-width="0.9"/>
<circle cx="257.59999999999997" cy="55.6" r="1.35" fill="none" stroke="#7a7a94" stroke-width="0.9"/>
<text x="258.8" y="57.4" font-size="5.0" text-anchor="start" font-weight="normal" fill="#8a8aa8" style="font-family:'Liberation Sans',sans-serif" textLength="16.8" lengthAdjust="spacingAndGlyphs" >-25 °C</text>
<clipPath id="cc"><path d="M369.7,5.2 H447.8 V111.8 H351.2 V20.9 H369.7 Z"/></clipPath>
<filter id="sb" x="-20%" y="-20%" width="140%" height="140%"><feGaussianBlur stdDeviation="0.8"/></filter>
<g clip-path="url(#cc)"><g filter="url(#sb)">
<rect x="349.2" y="3.2" width="100.60000000000002" height="110.6" fill="#3c3c3c"/>
<polygon points="350,26 362,26 362,43 350,43" fill="#666"/>
<polygon points="360,40 366,40 366,80 360,80" fill="#262626"/>
<polygon points="366,48 384,48 384,104 366,104" fill="#0d0d0d"/>
<polygon points="433,40 447.8,40 447.8,80 433,80" fill="#4a4a4a"/>
<polygon points="398,68 415,68 415,80 398,80" fill="#2c2c2c"/>
<polygon points="440,86 448,86 448,112 440,112" fill="#383838"/>
<polygon points="392,40 400,40 400,80 392,80" fill="#707070"/>
<line x1="424" y1="0" x2="424" y2="46" stroke="#8a8a8a" stroke-width="12" stroke-linecap="butt"/>
<line x1="424" y1="0" x2="424" y2="46" stroke="#6c6c6c" stroke-width="9.0" stroke-linecap="butt"/>
<line x1="442" y1="0" x2="442" y2="82" stroke="#8c8c8c" stroke-width="10" stroke-linecap="butt"/>
<line x1="442" y1="0" x2="442" y2="82" stroke="#6c6c6c" stroke-width="7.0" stroke-linecap="butt"/>
<polygon points="430,19 437,19 437,36 430,36" fill="#282828"/>
<line x1="411.5" y1="0" x2="412" y2="46" stroke="#a0a0a0" stroke-width="9" stroke-linecap="butt"/>
<line x1="411.5" y1="0" x2="412" y2="46" stroke="#7c7c7c" stroke-width="6.0" stroke-linecap="butt"/>
<line x1="425" y1="76" x2="425" y2="115" stroke="#8a8a8a" stroke-width="17" stroke-linecap="butt"/>
<line x1="425" y1="76" x2="425" y2="115" stroke="#767676" stroke-width="14.0" stroke-linecap="butt"/>
<line x1="394" y1="0" x2="404" y2="40" stroke="#888" stroke-width="8" stroke-linecap="butt"/>
<line x1="394" y1="0" x2="404" y2="40" stroke="#747474" stroke-width="5.0" stroke-linecap="butt"/>
<polygon points="399,5 406,5 406.8,40.5" fill="#0a0a0a"/>
<polygon points="380.8,5 387.8,5 384,12.4" fill="#0a0a0a"/>
<line x1="384" y1="0" x2="407" y2="66" stroke="#a6a6a6" stroke-width="11" stroke-linecap="round"/>
<line x1="384" y1="0" x2="407" y2="66" stroke="#848484" stroke-width="7.4" stroke-linecap="round"/>
<ellipse cx="407" cy="52.7" rx="1.4" ry="2.8" fill="#111"/>
<line x1="413" y1="38" x2="430" y2="82" stroke="#a0a0a0" stroke-width="14" stroke-linecap="round"/>
<line x1="413" y1="38" x2="430" y2="82" stroke="#828282" stroke-width="10.4" stroke-linecap="round"/>
<line x1="409" y1="76" x2="422" y2="97" stroke="#8e8e8e" stroke-width="8" stroke-linecap="round"/>
<line x1="409" y1="76" x2="422" y2="97" stroke="#767676" stroke-width="5.0" stroke-linecap="round"/>
<line x1="356" y1="76" x2="356" y2="113" stroke="#7a7a7a" stroke-width="9" stroke-linecap="butt"/>
<line x1="356" y1="76" x2="356" y2="113" stroke="#6a6a6a" stroke-width="6.0" stroke-linecap="butt"/>
<line x1="361" y1="70" x2="378" y2="39" stroke="#9a9a9a" stroke-width="8" stroke-linecap="round"/>
<line x1="361" y1="70" x2="378" y2="39" stroke="#7c7c7c" stroke-width="5.0" stroke-linecap="round"/>
<line x1="387" y1="38" x2="387" y2="113" stroke="#a4a4a4" stroke-width="10" stroke-linecap="round"/>
<line x1="387" y1="38" x2="387" y2="113" stroke="#838383" stroke-width="7.0" stroke-linecap="round"/>
<line x1="356" y1="113" x2="383" y2="100" stroke="#808080" stroke-width="7" stroke-linecap="butt"/>
<line x1="356" y1="113" x2="383" y2="100" stroke="#6a6a6a" stroke-width="4.0" stroke-linecap="butt"/>
<line x1="398" y1="112" x2="442" y2="101" stroke="#707070" stroke-width="6" stroke-linecap="butt"/>
<line x1="398" y1="112" x2="442" y2="101" stroke="#5c5c5c" stroke-width="3.0" stroke-linecap="butt"/>
<line x1="376" y1="103" x2="452" y2="80" stroke="#a8a8a8" stroke-width="8" stroke-linecap="butt"/>
<line x1="376" y1="103" x2="452" y2="80" stroke="#848484" stroke-width="4.4" stroke-linecap="butt"/>
<ellipse cx="376" cy="23.3" rx="4.6" ry="12.8" transform="rotate(-22 376 23.3)" fill="#b8b8b8"/>
<path d="M411,26 Q416,18 423,22 Q428,27 426,35 Q421,42 414,40 Q409,34 411,26 Z" fill="#b0b0b0"/>
<ellipse cx="356.6" cy="51.2" rx="4.6" ry="8.5" fill="#a6a6a6"/>
<ellipse cx="356" cy="71.2" rx="4.6" ry="8.8" fill="#aaaaaa"/>
<ellipse cx="387" cy="62.5" rx="4.8" ry="5.5" fill="#b4b4b4"/>
<ellipse cx="391.4" cy="94" rx="4.6" ry="10" fill="#a0a0a0"/>
<ellipse cx="417" cy="75" rx="2" ry="3" fill="#aaa"/>
<ellipse cx="419" cy="45.6" rx="1.5" ry="1.5" fill="#ccc"/>
<rect x="369.7" y="5.2" width="80" height="1.3" fill="#222"/>
<rect x="350" y="21" width="20" height="5" fill="#0e0e0e"/>
</g></g>
<text x="359.4" y="17.86" font-size="11" text-anchor="middle" font-weight="normal" fill="#1a1a1a" style="font-family:'Liberation Sans',sans-serif" stroke="#1a1a1a" stroke-width="0.35">(c)</text>
<rect x="422.8" y="102.2" width="16.80000000000001" height="2.2" fill="#fff"/>
<text x="431.20000000000005" y="99.3" font-size="6.6" text-anchor="middle" fill="#fff" font-weight="bold" style="font-family:'Liberation Serif',serif" textLength="16.80000000000001" lengthAdjust="spacingAndGlyphs">500nm</text>
<clipPath id="cd"><path d="M469.8,5.2 H546.5 V111.8 H448.2 V20.9 H469.8 Z"/></clipPath>
<g clip-path="url(#cd)"><g filter="url(#sb)">
<rect x="446.2" y="3.2" width="102.30000000000001" height="110.6" fill="#060606"/>
<line x1="519" y1="0" x2="511" y2="114" stroke="#a8a8a8" stroke-width="10" stroke-linecap="butt"/>
<line x1="519" y1="0" x2="511" y2="114" stroke="#7e7e7e" stroke-width="6.8" stroke-linecap="butt"/>
<line x1="522.5" y1="0" x2="525.5" y2="114" stroke="#b4b4b4" stroke-width="8.5" stroke-linecap="butt"/>
<line x1="522.5" y1="0" x2="525.5" y2="114" stroke="#8a8a8a" stroke-width="5.3" stroke-linecap="butt"/>
<line x1="499" y1="0" x2="496.5" y2="114" stroke="#b0b0b0" stroke-width="9" stroke-linecap="butt"/>
<line x1="499" y1="0" x2="496.5" y2="114" stroke="#848484" stroke-width="5.8" stroke-linecap="butt"/>
<line x1="505.5" y1="0" x2="506" y2="114" stroke="#b8b8b8" stroke-width="8.5" stroke-linecap="butt"/>
<line x1="505.5" y1="0" x2="506" y2="114" stroke="#8c8c8c" stroke-width="5.3" stroke-linecap="butt"/>
<polygon points="509.8,0 514.2,0 511.6,48" fill="#070707"/>
<line x1="505" y1="79" x2="494" y2="116" stroke="#aaaaaa" stroke-width="8" stroke-linecap="butt"/>
<line x1="505" y1="79" x2="494" y2="116" stroke="#7a7a7a" stroke-width="4.8" stroke-linecap="butt"/>
<line x1="488" y1="0" x2="471" y2="114" stroke="#b4b4b4" stroke-width="9.5" stroke-linecap="butt"/>
<line x1="488" y1="0" x2="471" y2="114" stroke="#888888" stroke-width="6.3" stroke-linecap="butt"/>
<line x1="480" y1="0" x2="461" y2="114" stroke="#b0b0b0" stroke-width="9.5" stroke-linecap="butt"/>
<line x1="480" y1="0" x2="461" y2="114" stroke="#838383" stroke-width="6.3" stroke-linecap="butt"/>
<ellipse cx="515" cy="75" rx="1.6" ry="7" fill="#0a0a0a"/>
<polygon points="495,58 499,58 498.5,87 495,87" fill="#080808"/>
<rect x="469.8" y="5.2" width="77" height="1.4" fill="#9a9a9a"/>
</g></g>
<rect x="446.4" y="5.2" width="1.9" height="106.6" fill="#5a5a5a"/>
<text x="459" y="17.36" font-size="11" text-anchor="middle" font-weight="normal" fill="#1a1a1a" style="font-family:'Liberation Sans',sans-serif" stroke="#1a1a1a" stroke-width="0.35">(d)</text>
<rect x="522.2" y="102.2" width="17.0" height="2.2" fill="#fff"/>
<text x="530.7" y="99.3" font-size="6.6" text-anchor="middle" fill="#fff" font-weight="bold" style="font-family:'Liberation Serif',serif" textLength="17.0" lengthAdjust="spacingAndGlyphs">500nm</text>
<filter id="nf" x="0" y="0" width="1" height="1" color-interpolation-filters="sRGB"><feTurbulence type="fractalNoise" baseFrequency="0.3" numOctaves="3" seed="8"/><feColorMatrix type="matrix" values="1 0 0 0 0  1 0 0 0 0  1 0 0 0 0  0 0 0 0 1"/><feComponentTransfer><feFuncR type="linear" slope="1.8" intercept="-0.4"/><feFuncG type="linear" slope="1.8" intercept="-0.4"/><feFuncB type="linear" slope="1.8" intercept="-0.4"/></feComponentTransfer></filter>
<filter id="bl" x="-50%" y="-50%" width="200%" height="200%"><feGaussianBlur stdDeviation="2.6"/></filter>
<clipPath id="ce"><path d="M27.1,143.7 H124 V272 H6 V158.8 H27.1 Z"/></clipPath>
<g clip-path="url(#ce)">
<rect x="6" y="143.7" width="118" height="128.3" fill="#828282"/>
<g filter="url(#bl)">
<ellipse cx="39" cy="172" rx="11" ry="13" fill="#c4c4c4"/>
<ellipse cx="113" cy="156" rx="12" ry="12" fill="#c6c6c6"/>
<ellipse cx="86" cy="192" rx="12" ry="17" fill="#c0c0c0"/>
<ellipse cx="113" cy="193" rx="11" ry="15" fill="#c2c2c2"/>
<ellipse cx="20" cy="197" rx="14" ry="11" fill="#bcbcbc"/>
<ellipse cx="49" cy="221" rx="10" ry="8" fill="#bebebe"/>
<ellipse cx="22" cy="238" rx="11" ry="12" fill="#aaaaaa"/>
<ellipse cx="88" cy="150" rx="9" ry="5" fill="#8e8e8e"/>
<ellipse cx="88" cy="161" rx="5" ry="6" fill="#a4a4a4"/>
<ellipse cx="32" cy="150" rx="8" ry="6" fill="#a8a8a8"/>
<ellipse cx="86" cy="226" rx="9" ry="7" fill="#9a9a9a"/>
<ellipse cx="110" cy="232" rx="11" ry="9" fill="#a4a4a4"/>
<ellipse cx="42" cy="255" rx="12" ry="7" fill="#989898"/>
<ellipse cx="65" cy="160" rx="6" ry="12" fill="#585858"/>
<ellipse cx="14" cy="218" rx="6" ry="5" fill="#a6a6a6"/>
<ellipse cx="46" cy="155" rx="4" ry="4" fill="#3a3a3a"/>
<ellipse cx="57" cy="174" rx="4.5" ry="13" fill="#333"/>
<ellipse cx="69" cy="178" rx="5" ry="11" fill="#262626"/>
<ellipse cx="99" cy="178" rx="8" ry="6" fill="#1e1e1e"/>
<ellipse cx="38" cy="209" rx="13" ry="9" fill="#bcbcbc"/>
<ellipse cx="68" cy="193" rx="6" ry="5" fill="#b0b0b0"/>
<ellipse cx="62" cy="213" rx="4" ry="7" fill="#222"/>
<ellipse cx="69" cy="218" rx="4.5" ry="10" fill="#3a3a3a"/>
<ellipse cx="71" cy="154" rx="5" ry="10" fill="#454545"/>
<ellipse cx="12" cy="262" rx="6" ry="9" fill="#505050"/>
<ellipse cx="12" cy="176" rx="5" ry="8" fill="#555"/>
<ellipse cx="98" cy="212" rx="6" ry="5" fill="#4a4a4a"/>
<ellipse cx="30" cy="228" rx="5" ry="4" fill="#505050"/>
<ellipse cx="118" cy="246" rx="5" ry="8" fill="#4a4a4a"/>
<ellipse cx="80" cy="246" rx="5" ry="4" fill="#555"/>
</g>
<rect x="6" y="143.7" width="118" height="128.3" filter="url(#nf)" opacity="0.38" style="mix-blend-mode:overlay"/>
<path d="M60,150 Q72,170 66,200" fill="none" stroke="#c4c4c4" stroke-width="0.8" opacity="0.75"/>
<path d="M85,160 Q100,175 122,170" fill="none" stroke="#c4c4c4" stroke-width="0.8" opacity="0.75"/>
<path d="M92,176 Q100,180 108,176" fill="none" stroke="#c4c4c4" stroke-width="0.8" opacity="0.75"/>
<path d="M20,180 Q50,170 75,185" fill="none" stroke="#c4c4c4" stroke-width="0.8" opacity="0.75"/>
<path d="M100,215 Q110,240 118,262" fill="none" stroke="#c4c4c4" stroke-width="0.8" opacity="0.75"/>
<path d="M35,260 Q60,240 80,255" fill="none" stroke="#c4c4c4" stroke-width="0.8" opacity="0.75"/>
<path d="M115,150 Q105,185 112,210" fill="none" stroke="#c4c4c4" stroke-width="0.8" opacity="0.75"/>
<path d="M75,215 Q90,205 100,225" fill="none" stroke="#c4c4c4" stroke-width="0.8" opacity="0.75"/>
<path d="M10,225 Q25,230 40,250" fill="none" stroke="#c4c4c4" stroke-width="0.8" opacity="0.75"/>
<path d="M50,150 Q56,165 52,185" fill="none" stroke="#c4c4c4" stroke-width="0.8" opacity="0.75"/>
<path d="M78,200 Q95,215 124,205" fill="none" stroke="#c4c4c4" stroke-width="0.8" opacity="0.75"/>
<path d="M15,205 Q35,212 45,230" fill="none" stroke="#c4c4c4" stroke-width="0.8" opacity="0.75"/>
<path d="M60,230 Q70,250 62,270" fill="none" stroke="#c4c4c4" stroke-width="0.8" opacity="0.75"/>
<path d="M95,245 Q105,235 124,240" fill="none" stroke="#c4c4c4" stroke-width="0.8" opacity="0.75"/>
</g>
<text x="16.8" y="155.21" font-size="11" text-anchor="middle" font-weight="normal" fill="#1a1a1a" style="font-family:'Liberation Sans',sans-serif" stroke="#1a1a1a" stroke-width="0.35">(e)</text>
<rect x="68.2" y="265.0" width="54" height="4" fill="#fff"/>
<text x="96.5" y="263.8" font-size="11.5" text-anchor="middle" font-weight="bold" fill="#fff" style="font-family:'Liberation Serif',serif" textLength="39.3" lengthAdjust="spacingAndGlyphs">500 nm</text>
<text x="134.35" y="155.61" font-size="11" text-anchor="middle" font-weight="normal" fill="#1a1a1a" style="font-family:'Liberation Serif',serif" stroke="#1a1a1a" stroke-width="0.35">(f)</text>
<path d="M156.6,165 L156.6,161 L253.6,161" fill="none" stroke="#000" stroke-width="3"/>
<polyline points="156.0,207.0 156.8,207.5 157.6,208.0 158.5,208.5 159.3,208.9 160.1,209.3 160.9,209.7 161.8,210.0 162.6,210.4 163.4,210.7 164.2,211.0 165.0,211.2 165.9,211.5 166.7,211.7 167.5,212.0 168.3,212.2 169.1,212.4 170.0,212.5 170.8,212.7 171.6,212.9 172.4,213.0 173.3,213.1 174.1,213.3 174.9,213.4 175.7,213.5 176.5,213.6 177.4,213.7 178.2,213.8 179.0,213.9 179.8,214.0 180.6,214.1 181.5,214.1 182.3,214.2 183.1,214.3 183.9,214.3 184.8,214.4 185.6,214.4 186.4,214.5 187.2,214.5 188.0,214.6 188.9,214.6 189.7,214.6 190.5,214.7 191.3,214.7 192.1,214.7 193.0,214.8 193.8,214.8 194.6,214.8 195.4,214.8 196.3,214.8 197.1,214.9 197.9,214.9 198.7,214.9 199.5,214.9 200.4,214.9 201.2,215.0 202.0,215.0 202.8,215.0 203.6,215.0 204.5,215.0 205.3,215.0 206.1,215.0 206.9,215.0 207.8,215.0 208.6,215.0 209.4,215.1 210.2,215.1 211.0,215.1 211.9,215.1 212.7,215.1 213.5,215.1 214.3,215.1 215.1,215.1 216.0,215.1 216.8,215.1 217.6,215.1 218.4,215.1 219.3,215.1 220.1,215.1 220.9,215.1 221.7,215.1 222.5,215.1 223.4,215.1 224.2,215.1 225.0,215.1 225.8,215.1 226.6,215.1 227.5,215.1 228.3,215.1 229.1,215.1 229.9,215.1 230.8,215.1 231.6,215.1 232.4,215.1 233.2,215.1 234.0,215.1 234.9,215.1 235.7,215.1 236.5,215.1 237.3,215.1 238.2,215.1 239.0,215.2 239.8,215.2 240.6,215.2 241.4,215.2 242.3,215.2 243.1,215.2 243.9,215.2 244.7,215.2 245.5,215.2 246.4,215.2 247.2,215.2 248.0,215.2 248.8,215.2 249.7,215.2 250.5,215.2 251.3,215.2 252.1,215.2 252.9,215.2 253.8,215.2 254.6,215.2" fill="none" stroke="#2a2ac2" stroke-width="3.8" stroke-linejoin="round" stroke-linecap="butt" />
<polyline points="156.0,207.0 156.3,212.0 157.0,220.3 157.6,226.9 158.3,232.1 159.0,236.3 159.6,239.5 160.3,242.1 160.9,244.2 161.6,245.8 162.2,247.1 162.9,248.1 163.6,248.9 164.2,249.5 164.9,250.0 165.5,250.5 166.2,250.8 166.8,251.0 167.5,251.2 168.2,251.4 168.8,251.5 169.5,251.7 170.1,251.7 170.8,251.8 171.4,251.9 172.1,251.9 172.8,252.0 173.4,252.0 174.1,252.0 174.7,252.0 175.4,252.1 176.0,252.1 176.7,252.1 177.4,252.1 178.0,252.1 178.7,252.1 179.3,252.2 180.0,252.2 180.6,252.2 181.3,252.2 182.0,252.2 182.6,252.2 183.3,252.2 183.9,252.2 184.6,252.2 185.2,252.2 185.9,252.2 186.6,252.2 187.2,252.2 187.9,252.2 188.5,252.2 189.2,252.2 189.8,252.2 190.5,252.2 191.2,252.2 191.8,252.2 192.5,252.2 193.1,252.2 193.8,252.2 194.4,252.2 195.1,252.2 195.8,252.2 196.4,252.2 197.1,252.2 197.7,252.2 198.4,252.2 199.0,252.2 199.7,252.2 200.4,252.2 201.0,252.1 201.7,252.1 202.3,252.1 203.0,252.1 203.6,252.1 204.3,252.1 205.0,252.1 205.6,252.1 206.3,252.1 206.9,252.1 207.6,252.0 208.2,252.0 208.9,252.0 209.6,252.0 210.2,252.0 210.9,252.0 211.5,252.0 212.2,252.0 212.8,251.9 213.5,251.9 214.2,251.9 214.8,251.9 215.5,251.9 216.1,251.9 216.8,251.9 217.4,251.8 218.1,251.8 218.8,251.8 219.4,251.8 220.1,251.8 220.7,251.8 221.4,251.8" fill="none" stroke="#40e0e6" stroke-width="4.0" stroke-linejoin="round" stroke-linecap="butt" />
<circle cx="156.0" cy="192" r="0.9" fill="#7fe8ea"/>
<circle cx="156.0" cy="197" r="0.9" fill="#7fe8ea"/>
<circle cx="156.0" cy="202" r="0.9" fill="#7fe8ea"/>
<rect x="155.6" y="155.2" width="98.0" height="103.40000000000003" fill="none" stroke="#000" stroke-width="1"/>
<line x1="155.6" y1="258.0" x2="157.6" y2="258.0" stroke="#000" stroke-width="0.8"/>
<text x="152.6" y="260.8" font-size="8.2" text-anchor="end" font-weight="bold" fill="#000" style="font-family:'Liberation Serif',serif" >0</text>
<line x1="155.6" y1="241.0" x2="157.6" y2="241.0" stroke="#000" stroke-width="0.8"/>
<text x="152.6" y="243.8" font-size="8.2" text-anchor="end" font-weight="bold" fill="#000" style="font-family:'Liberation Serif',serif" textLength="9.6" lengthAdjust="spacingAndGlyphs" >100</text>
<line x1="155.6" y1="224.0" x2="157.6" y2="224.0" stroke="#000" stroke-width="0.8"/>
<text x="152.6" y="226.8" font-size="8.2" text-anchor="end" font-weight="bold" fill="#000" style="font-family:'Liberation Serif',serif" textLength="9.6" lengthAdjust="spacingAndGlyphs" >200</text>
<line x1="155.6" y1="207.0" x2="157.6" y2="207.0" stroke="#000" stroke-width="0.8"/>
<text x="152.6" y="209.8" font-size="8.2" text-anchor="end" font-weight="bold" fill="#000" style="font-family:'Liberation Serif',serif" textLength="9.6" lengthAdjust="spacingAndGlyphs" >300</text>
<line x1="155.6" y1="190.0" x2="157.6" y2="190.0" stroke="#000" stroke-width="0.8"/>
<text x="152.6" y="192.8" font-size="8.2" text-anchor="end" font-weight="bold" fill="#000" style="font-family:'Liberation Serif',serif" textLength="9.6" lengthAdjust="spacingAndGlyphs" >400</text>
<line x1="155.6" y1="173.0" x2="157.6" y2="173.0" stroke="#000" stroke-width="0.8"/>
<text x="152.6" y="175.8" font-size="8.2" text-anchor="end" font-weight="bold" fill="#000" style="font-family:'Liberation Serif',serif" textLength="9.6" lengthAdjust="spacingAndGlyphs" >500</text>
<line x1="155.6" y1="156.0" x2="157.6" y2="156.0" stroke="#000" stroke-width="0.8"/>
<text x="152.6" y="158.8" font-size="8.2" text-anchor="end" font-weight="bold" fill="#000" style="font-family:'Liberation Serif',serif" textLength="9.6" lengthAdjust="spacingAndGlyphs" >600</text>
<line x1="251.6" y1="257.7" x2="253.6" y2="257.7" stroke="#000" stroke-width="0.8"/>
<text x="256.3" y="260.5" font-size="8.2" text-anchor="start" font-weight="bold" fill="#000" style="font-family:'Liberation Serif',serif" >0</text>
<line x1="251.6" y1="238.33999999999997" x2="253.6" y2="238.33999999999997" stroke="#000" stroke-width="0.8"/>
<text x="256.3" y="241.14" font-size="8.2" text-anchor="start" font-weight="bold" fill="#000" style="font-family:'Liberation Serif',serif" textLength="6.4" lengthAdjust="spacingAndGlyphs" >20</text>
<line x1="251.6" y1="218.98" x2="253.6" y2="218.98" stroke="#000" stroke-width="0.8"/>
<text x="256.3" y="221.78" font-size="8.2" text-anchor="start" font-weight="bold" fill="#000" style="font-family:'Liberation Serif',serif" textLength="6.4" lengthAdjust="spacingAndGlyphs" >40</text>
<line x1="251.6" y1="199.62" x2="253.6" y2="199.62" stroke="#000" stroke-width="0.8"/>
<text x="256.3" y="202.42000000000002" font-size="8.2" text-anchor="start" font-weight="bold" fill="#000" style="font-family:'Liberation Serif',serif" textLength="6.4" lengthAdjust="spacingAndGlyphs" >60</text>
<line x1="251.6" y1="180.26" x2="253.6" y2="180.26" stroke="#000" stroke-width="0.8"/>
<text x="256.3" y="183.06" font-size="8.2" text-anchor="start" font-weight="bold" fill="#000" style="font-family:'Liberation Serif',serif" textLength="6.4" lengthAdjust="spacingAndGlyphs" >80</text>
<line x1="251.6" y1="160.89999999999998" x2="253.6" y2="160.89999999999998" stroke="#000" stroke-width="0.8"/>
<text x="256.3" y="163.7" font-size="8.2" text-anchor="start" font-weight="bold" fill="#000" style="font-family:'Liberation Serif',serif" textLength="9.6" lengthAdjust="spacingAndGlyphs" >100</text>
<line x1="156.0" y1="258.6" x2="156.0" y2="256.6" stroke="#000" stroke-width="0.8"/>
<text x="156.0" y="268.8" font-size="8.2" text-anchor="middle" font-weight="bold" fill="#000" style="font-family:'Liberation Serif',serif" >0</text>
<line x1="172.43" y1="258.6" x2="172.43" y2="256.6" stroke="#000" stroke-width="0.8"/>
<text x="172.43" y="268.8" font-size="8.2" text-anchor="middle" font-weight="bold" fill="#000" style="font-family:'Liberation Serif',serif" textLength="10" lengthAdjust="spacingAndGlyphs" >100</text>
<line x1="188.86" y1="258.6" x2="188.86" y2="256.6" stroke="#000" stroke-width="0.8"/>
<text x="188.86" y="268.8" font-size="8.2" text-anchor="middle" font-weight="bold" fill="#000" style="font-family:'Liberation Serif',serif" textLength="10" lengthAdjust="spacingAndGlyphs" >200</text>
<line x1="205.29" y1="258.6" x2="205.29" y2="256.6" stroke="#000" stroke-width="0.8"/>
<text x="205.29" y="268.8" font-size="8.2" text-anchor="middle" font-weight="bold" fill="#000" style="font-family:'Liberation Serif',serif" textLength="10" lengthAdjust="spacingAndGlyphs" >300</text>
<line x1="221.72" y1="258.6" x2="221.72" y2="256.6" stroke="#000" stroke-width="0.8"/>
<text x="221.72" y="268.8" font-size="8.2" text-anchor="middle" font-weight="bold" fill="#000" style="font-family:'Liberation Serif',serif" textLength="10" lengthAdjust="spacingAndGlyphs" >400</text>
<line x1="238.15" y1="258.6" x2="238.15" y2="256.6" stroke="#000" stroke-width="0.8"/>
<text x="238.15" y="268.8" font-size="8.2" text-anchor="middle" font-weight="bold" fill="#000" style="font-family:'Liberation Serif',serif" textLength="10" lengthAdjust="spacingAndGlyphs" >500</text>
<line x1="254.57999999999998" y1="258.6" x2="254.57999999999998" y2="256.6" stroke="#000" stroke-width="0.8"/>
<text x="254.57999999999998" y="268.8" font-size="8.2" text-anchor="middle" font-weight="bold" fill="#000" style="font-family:'Liberation Serif',serif" textLength="10" lengthAdjust="spacingAndGlyphs" >600</text>
<text x="211.5" y="279.2" font-size="8.6" text-anchor="middle" font-weight="bold" fill="#000" style="font-family:'Liberation Serif',serif" textLength="49.8" lengthAdjust="spacingAndGlyphs" >Cycle Number</text>
<text transform="translate(139.3,208.6) rotate(-90)" x="0" y="0" font-size="8.0" text-anchor="middle" font-weight="bold" fill="#000" style="font-family:'Liberation Serif',serif" textLength="90" lengthAdjust="spacingAndGlyphs">Specific Capacity (mAh/g)</text>
<text transform="translate(273.2,206.5) rotate(-90)" x="0" y="0" font-size="8.0" text-anchor="middle" font-weight="bold" fill="#000" style="font-family:'Liberation Serif',serif" textLength="88.4" lengthAdjust="spacingAndGlyphs">Coulombic Efficiency (%)</text>
<path d="M233.4,164 L233.4,168.4 L244.5,168.4" fill="none" stroke="#000" stroke-width="0.9"/>
<path d="M247,168.4 L243.5,166.7 L243.5,170.1 Z" fill="#000"/>
<circle cx="171.8" cy="186.8" r="1.3" fill="#2c2cc0"/>
<circle cx="171.8" cy="195.5" r="1.3" fill="#3fe0e4"/>
<text x="178.8" y="189.6" font-size="9.0" text-anchor="start" font-weight="bold" fill="#000" style="font-family:'Liberation Serif',serif" textLength="57.3" lengthAdjust="spacingAndGlyphs" >ZnSe-40 (–10 °C)</text>
<text x="178.8" y="198.3" font-size="9.0" text-anchor="start" font-weight="bold" fill="#000" style="font-family:'Liberation Serif',serif" textLength="64.7" lengthAdjust="spacingAndGlyphs" >Pure ZnSe (–10 °C)</text>
<text x="289.4" y="155.51" font-size="11" text-anchor="middle" font-weight="normal" fill="#1a1a1a" style="font-family:'Liberation Sans',sans-serif" stroke="#1a1a1a" stroke-width="0.35">(g)</text>
<radialGradient id="gg"><stop offset="0" stop-color="#4a6a60"/><stop offset="0.12" stop-color="#8cbfac"/><stop offset="0.5" stop-color="#aadcc8"/><stop offset="0.78" stop-color="#b3e1cf"/><stop offset="0.9" stop-color="#c6ebdc" stop-opacity="0.7"/><stop offset="1" stop-color="#e0f4ec" stop-opacity="0"/></radialGradient>
<circle cx="341" cy="204" r="60" fill="url(#gg)"/>
<polygon points="322.5,184.2 320.7,186.0 299.0,163.1" fill="#8fc7b2" opacity="0.9"/>
<polygon points="315.1,197.7 314.6,200.3 281.8,192.7" fill="#b6e3d2" opacity="0.9"/>
<polygon points="357.3,193.6 356.0,191.9 379.9,176.1" fill="#b6e3d2" opacity="0.9"/>
<polygon points="360.9,220.1 362.1,218.5 381.3,234.0" fill="#9dd2be" opacity="0.9"/>
<polygon points="351.7,198.8 350.8,197.3 392.1,174.4" fill="#a9dbc8" opacity="0.9"/>
<polygon points="335.7,197.9 334.4,199.3 305.4,171.6" fill="#a9dbc8" opacity="0.9"/>
<polygon points="346.2,232.5 348.2,232.0 354.5,265.2" fill="#c7ecdf" opacity="0.9"/>
<polygon points="346.8,226.3 349.7,225.4 360.2,261.8" fill="#b6e3d2" opacity="0.9"/>
<polygon points="331.0,176.3 329.6,176.9 318.3,145.9" fill="#c7ecdf" opacity="0.9"/>
<polygon points="328.2,210.4 329.2,212.2 287.7,235.5" fill="#c7ecdf" opacity="0.9"/>
<polygon points="322.1,188.7 321.2,190.0 304.3,176.2" fill="#c7ecdf" opacity="0.9"/>
<polygon points="324.9,222.8 326.7,224.2 309.5,244.4" fill="#b6e3d2" opacity="0.9"/>
<polygon points="333.7,173.4 330.7,174.3 327.8,158.9" fill="#a9dbc8" opacity="0.9"/>
<polygon points="326.9,219.9 328.6,221.2 307.9,245.2" fill="#9dd2be" opacity="0.9"/>
<polygon points="333.6,198.6 332.4,200.8 300.3,182.1" fill="#b6e3d2" opacity="0.9"/>
<polygon points="354.6,201.1 354.0,199.1 387.1,190.4" fill="#9dd2be" opacity="0.9"/>
<polygon points="323.7,224.3 325.7,225.8 307.4,247.4" fill="#a9dbc8" opacity="0.9"/>
<polygon points="345.4,189.5 342.4,188.9 351.1,152.7" fill="#9dd2be" opacity="0.9"/>
<polygon points="359.5,217.2 360.6,215.4 384.5,232.1" fill="#b6e3d2" opacity="0.9"/>
<polygon points="355.2,197.8 354.3,196.0 390.1,178.7" fill="#c7ecdf" opacity="0.9"/>
<polygon points="350.2,180.4 347.1,179.4 358.1,150.0" fill="#c7ecdf" opacity="0.9"/>
<polygon points="356.4,231.7 359.0,230.1 365.7,243.8" fill="#bfe8d9" opacity="0.9"/>
<polygon points="356.7,208.3 357.2,206.1 398.4,215.6" fill="#c7ecdf" opacity="0.9"/>
<polygon points="313.9,216.9 315.2,219.4 299.6,226.2" fill="#a9dbc8" opacity="0.9"/>
<polygon points="323.7,230.5 326.4,232.0 316.0,246.8" fill="#bfe8d9" opacity="0.9"/>
<polygon points="334.6,195.6 333.0,197.0 300.4,160.6" fill="#9dd2be" opacity="0.9"/>
<polygon points="351.1,209.5 352.2,206.7 390.6,223.2" fill="#bfe8d9" opacity="0.9"/>
<polygon points="360.6,202.0 360.3,200.0 394.1,195.9" fill="#8fc7b2" opacity="0.9"/>
<polygon points="335.5,233.1 337.6,233.5 332.9,257.4" fill="#a9dbc8" opacity="0.9"/>
<polygon points="364.1,203.8 363.9,200.8 403.2,199.5" fill="#9dd2be" opacity="0.9"/>
<polygon points="348.3,223.1 351.0,221.8 364.1,253.2" fill="#bfe8d9" opacity="0.9"/>
<polygon points="322.9,223.5 324.8,225.2 302.8,249.4" fill="#8fc7b2" opacity="0.9"/>
<polygon points="361.7,209.5 362.1,207.6 391.0,215.0" fill="#8fc7b2" opacity="0.9"/>
<polygon points="316.4,204.7 316.7,207.8 282.2,209.3" fill="#c7ecdf" opacity="0.9"/>
<polygon points="324.7,227.4 326.8,228.7 314.7,245.4" fill="#9dd2be" opacity="0.9"/>
<polygon points="339.6,223.1 342.2,223.1 340.8,261.4" fill="#bfe8d9" opacity="0.9"/>
<polygon points="349.4,182.0 346.4,181.1 356.3,154.4" fill="#8fc7b2" opacity="0.9"/>
<polygon points="330.2,209.7 331.4,211.6 289.2,237.5" fill="#8fc7b2" opacity="0.9"/>
<polygon points="332.8,212.0 334.2,213.2 307.0,242.9" fill="#b6e3d2" opacity="0.9"/>
<polygon points="330.4,214.4 332.5,216.2 301.8,250.1" fill="#a9dbc8" opacity="0.9"/>
<polygon points="338.9,177.3 336.5,177.6 335.0,155.5" fill="#bfe8d9" opacity="0.9"/>
<polygon points="361.0,196.6 360.2,194.8 388.1,184.1" fill="#8fc7b2" opacity="0.9"/>
<polygon points="363.1,204.7 363.0,202.1 390.3,202.8" fill="#bfe8d9" opacity="0.9"/>
<polygon points="343.9,227.0 347.0,226.4 352.1,260.6" fill="#a9dbc8" opacity="0.9"/>
<polygon points="370.3,201.3 370.0,199.3 389.4,197.8" fill="#a9dbc8" opacity="0.9"/>
<polygon points="343.7,212.5 345.6,211.6 361.6,248.8" fill="#9dd2be" opacity="0.9"/>
<polygon points="335.6,192.2 333.0,193.8 316.3,163.7" fill="#8fc7b2" opacity="0.9"/>
<polygon points="355.7,205.5 355.7,202.6 393.9,204.2" fill="#9dd2be" opacity="0.9"/>
<polygon points="330.5,174.6 328.1,175.6 320.3,152.7" fill="#bfe8d9" opacity="0.9"/>
<polygon points="353.8,213.9 354.9,212.2 386.7,235.0" fill="#bfe8d9" opacity="0.9"/>
<polygon points="329.3,217.5 331.4,219.1 312.3,242.7" fill="#bfe8d9" opacity="0.9"/>
<polygon points="324.9,219.5 326.6,221.1 308.0,239.4" fill="#bfe8d9" opacity="0.9"/>
<polygon points="343.5,213.9 344.9,213.4 356.2,249.8" fill="#8fc7b2" opacity="0.9"/>
<polygon points="358.1,219.1 359.4,217.5 384.3,238.9" fill="#b6e3d2" opacity="0.9"/>
<polygon points="354.9,192.0 353.2,190.3 380.7,165.1" fill="#b6e3d2" opacity="0.9"/>
<polygon points="323.8,205.0 324.1,207.4 283.4,211.4" fill="#b6e3d2" opacity="0.9"/>
<polygon points="339.0,223.8 340.5,223.9 337.1,266.6" fill="#9dd2be" opacity="0.9"/>
<polygon points="369.9,194.9 369.1,192.7 389.2,186.7" fill="#b6e3d2" opacity="0.9"/>
<polygon points="353.9,217.5 355.0,216.4 381.8,243.2" fill="#c7ecdf" opacity="0.9"/>
<polygon points="353.0,219.4 354.5,218.1 375.5,243.8" fill="#bfe8d9" opacity="0.9"/>
<polygon points="354.3,199.8 353.2,197.2 395.5,180.5" fill="#c7ecdf" opacity="0.9"/>
<polygon points="338.6,184.3 336.3,184.7 331.9,154.0" fill="#9dd2be" opacity="0.9"/>
<polygon points="361.3,182.6 359.2,180.8 380.9,157.9" fill="#a9dbc8" opacity="0.9"/>
<polygon points="334.7,218.8 337.3,219.7 323.8,256.3" fill="#c7ecdf" opacity="0.9"/>
<polygon points="364.9,208.9 365.2,207.2 392.2,212.6" fill="#bfe8d9" opacity="0.9"/>
<polygon points="365.4,205.9 365.5,202.9 396.4,205.0" fill="#a9dbc8" opacity="0.9"/>
<polygon points="315.8,195.3 315.1,197.7 296.6,190.9" fill="#9dd2be" opacity="0.9"/>
<polygon points="333.3,181.7 331.1,182.6 317.7,146.3" fill="#9dd2be" opacity="0.9"/>
<polygon points="330.1,176.5 327.5,177.7 317.0,151.0" fill="#9dd2be" opacity="0.9"/>
<polygon points="363.1,215.1 364.1,212.8 396.1,228.3" fill="#9dd2be" opacity="0.9"/>
<polygon points="332.7,190.9 330.9,192.3 308.8,160.6" fill="#b6e3d2" opacity="0.9"/>
<polygon points="326.2,198.1 325.5,200.2 289.1,187.5" fill="#b6e3d2" opacity="0.9"/>
<polygon points="316.6,196.0 315.9,198.8 295.8,192.0" fill="#c7ecdf" opacity="0.9"/>
<polygon points="344.3,196.0 342.2,195.4 355.9,148.7" fill="#8fc7b2" opacity="0.9"/>
<polygon points="358.3,213.6 359.5,210.9 389.0,226.1" fill="#a9dbc8" opacity="0.9"/>
<polygon points="345.4,234.6 348.4,234.0 351.9,259.9" fill="#8fc7b2" opacity="0.9"/>
<polygon points="359.5,204.6 359.5,202.0 399.0,201.8" fill="#b6e3d2" opacity="0.9"/>
<polygon points="320.7,214.8 322.0,216.9 299.2,229.1" fill="#a9dbc8" opacity="0.9"/>
<polygon points="334.2,190.9 332.1,192.2 309.6,154.4" fill="#bfe8d9" opacity="0.9"/>
<polygon points="341.3,192.7 339.6,192.8 338.1,143.1" fill="#9dd2be" opacity="0.9"/>
<polygon points="335.5,188.4 333.5,189.3 319.6,154.1" fill="#8fc7b2" opacity="0.9"/>
<polygon points="351.5,209.2 352.4,206.7 395.3,223.9" fill="#8fc7b2" opacity="0.9"/>
<polygon points="334.8,224.3 336.6,224.8 325.5,264.0" fill="#b6e3d2" opacity="0.9"/>
<polygon points="316.8,194.2 315.8,197.2 293.3,187.9" fill="#bfe8d9" opacity="0.9"/>
<polygon points="348.6,186.7 346.9,186.0 362.6,147.3" fill="#9dd2be" opacity="0.9"/>
<polygon points="339.5,194.0 337.9,194.4 327.9,148.4" fill="#8fc7b2" opacity="0.9"/>
<polygon points="354.5,190.7 352.2,188.7 376.7,162.7" fill="#9dd2be" opacity="0.9"/>
<polygon points="313.9,206.1 314.2,208.5 289.9,210.3" fill="#a9dbc8" opacity="0.9"/>
<polygon points="317.2,223.3 318.9,225.3 295.8,244.1" fill="#9dd2be" opacity="0.9"/>
<polygon points="345.1,235.1 347.4,234.7 349.1,251.3" fill="#8fc7b2" opacity="0.9"/>
<polygon points="344.1,220.8 346.0,220.3 354.9,260.2" fill="#b6e3d2" opacity="0.9"/>
<polygon points="365.9,193.3 365.2,191.8 393.6,179.5" fill="#9dd2be" opacity="0.9"/>
<polygon points="355.7,180.9 353.0,179.4 368.8,154.2" fill="#9dd2be" opacity="0.9"/>
<polygon points="319.3,227.3 321.4,229.1 310.8,239.5" fill="#b6e3d2" opacity="0.9"/>
<polygon points="333.5,208.6 334.6,210.1 303.3,233.1" fill="#b6e3d2" opacity="0.9"/>
<polygon points="317.1,204.7 317.2,206.2 279.2,207.9" fill="#c7ecdf" opacity="0.9"/>
<polygon points="318.3,207.3 318.7,209.3 280.9,215.4" fill="#9dd2be" opacity="0.9"/>
<polygon points="317.7,208.6 318.2,210.7 293.1,215.7" fill="#a9dbc8" opacity="0.9"/>
<polygon points="331.7,211.0 332.8,212.3 295.1,244.1" fill="#c7ecdf" opacity="0.9"/>
<polygon points="352.1,182.6 350.0,181.6 365.5,150.6" fill="#a9dbc8" opacity="0.9"/>
<polygon points="357.2,208.7 357.8,206.1 401.5,216.4" fill="#a9dbc8" opacity="0.9"/>
<polygon points="328.1,176.1 325.6,177.4 316.1,156.1" fill="#a9dbc8" opacity="0.9"/>
<polygon points="334.1,215.9 335.5,216.6 316.8,252.0" fill="#b6e3d2" opacity="0.9"/>
<polygon points="336.9,180.6 334.7,181.1 328.8,149.6" fill="#bfe8d9" opacity="0.9"/>
<polygon points="356.4,202.5 356.1,200.4 392.5,195.4" fill="#9dd2be" opacity="0.9"/>
<polygon points="358.2,212.7 358.9,211.0 398.4,229.7" fill="#b6e3d2" opacity="0.9"/>
<polygon points="345.3,226.3 348.3,225.4 353.0,249.2" fill="#8fc7b2" opacity="0.9"/>
<polygon points="367.6,205.9 367.7,204.2 388.0,205.9" fill="#9dd2be" opacity="0.9"/>
<polygon points="368.3,210.9 368.7,208.8 399.9,216.5" fill="#bfe8d9" opacity="0.9"/>
<polygon points="365.1,221.1 366.0,219.8 380.2,230.2" fill="#9dd2be" opacity="0.9"/>
<polygon points="317.7,207.1 318.1,209.3 284.3,214.3" fill="#9dd2be" opacity="0.9"/>
<polygon points="357.0,211.8 358.0,209.4 387.8,222.6" fill="#c7ecdf" opacity="0.9"/>
<polygon points="350.8,195.9 349.1,194.2 385.0,160.1" fill="#8fc7b2" opacity="0.9"/>
<polygon points="332.0,208.6 333.6,210.9 296.0,235.7" fill="#c7ecdf" opacity="0.9"/>
<polygon points="350.4,211.4 351.9,208.9 394.6,236.6" fill="#a9dbc8" opacity="0.9"/>
<polygon points="344.6,224.7 346.7,224.2 351.3,249.1" fill="#9dd2be" opacity="0.9"/>
<polygon points="343.8,193.1 340.8,192.7 347.2,149.5" fill="#a9dbc8" opacity="0.9"/>
<polygon points="330.0,229.6 332.3,230.5 322.0,254.2" fill="#b6e3d2" opacity="0.9"/>
<polygon points="357.1,225.4 359.3,223.5 375.9,245.5" fill="#c7ecdf" opacity="0.9"/>
<polygon points="335.9,212.7 338.4,213.7 322.4,248.5" fill="#b6e3d2" opacity="0.9"/>
<polygon points="349.0,181.4 347.5,180.9 359.9,144.5" fill="#c7ecdf" opacity="0.9"/>
<polygon points="338.5,191.4 335.7,192.3 326.7,159.4" fill="#c7ecdf" opacity="0.9"/>
<polygon points="361.8,187.6 360.0,185.5 376.5,172.9" fill="#9dd2be" opacity="0.9"/>
<polygon points="319.2,194.7 318.3,197.0 283.5,182.9" fill="#b6e3d2" opacity="0.9"/>
<polygon points="318.3,211.2 319.3,213.7 285.0,225.3" fill="#a9dbc8" opacity="0.9"/>
<polygon points="333.9,177.4 331.5,178.2 325.7,155.8" fill="#9dd2be" opacity="0.9"/>
<polygon points="334.9,213.6 337.3,214.8 318.8,250.2" fill="#9dd2be" opacity="0.9"/>
<polygon points="334.4,229.5 335.9,229.8 330.6,249.9" fill="#bfe8d9" opacity="0.9"/>
<polygon points="360.1,224.3 362.1,222.2 386.1,247.2" fill="#9dd2be" opacity="0.9"/>
<polygon points="354.1,200.6 353.6,198.9 394.6,186.3" fill="#9dd2be" opacity="0.9"/>
<polygon points="343.2,215.8 346.0,214.9 356.7,253.7" fill="#bfe8d9" opacity="0.9"/>
<polygon points="339.3,183.3 336.7,183.7 334.1,156.9" fill="#b6e3d2" opacity="0.9"/>
<polygon points="351.7,219.0 353.1,218.0 377.4,250.4" fill="#9dd2be" opacity="0.9"/>
<polygon points="332.4,221.0 334.0,221.8 315.8,260.2" fill="#9dd2be" opacity="0.9"/>
<polygon points="351.8,209.1 352.8,206.0 395.7,221.2" fill="#9dd2be" opacity="0.9"/>
<polygon points="319.1,187.3 317.6,189.5 301.7,176.9" fill="#9dd2be" opacity="0.9"/>
<polygon points="347.7,233.1 350.0,232.5 353.1,248.4" fill="#b6e3d2" opacity="0.9"/>
<polygon points="351.7,196.2 349.7,194.0 379.8,168.4" fill="#c7ecdf" opacity="0.9"/>
<polygon points="331.3,228.5 333.4,229.2 323.0,255.7" fill="#b6e3d2" opacity="0.9"/>
<polygon points="350.8,182.2 348.5,181.2 362.6,148.2" fill="#a9dbc8" opacity="0.9"/>
<polygon points="317.7,219.4 318.9,221.2 301.7,232.3" fill="#9dd2be" opacity="0.9"/>
<polygon points="361.8,219.8 363.5,217.2 384.9,233.3" fill="#c7ecdf" opacity="0.9"/>
<polygon points="344.8,219.3 347.0,218.6 359.6,260.6" fill="#8fc7b2" opacity="0.9"/>
<polygon points="328.7,200.6 328.4,202.1 294.5,194.0" fill="#8fc7b2" opacity="0.9"/>
<polygon points="328.7,202.3 328.5,203.9 285.2,199.9" fill="#9dd2be" opacity="0.9"/>
<polygon points="333.1,185.2 331.1,186.2 316.3,153.3" fill="#bfe8d9" opacity="0.9"/>
<polygon points="333.3,173.3 330.4,174.2 325.7,153.5" fill="#bfe8d9" opacity="0.9"/>
<polygon points="334.6,184.1 332.7,184.8 320.8,150.3" fill="#9dd2be" opacity="0.9"/>
<polygon points="324.5,191.8 323.4,193.4 293.1,172.1" fill="#c7ecdf" opacity="0.9"/>
<polygon points="363.1,209.0 363.5,206.8 399.3,214.1" fill="#8fc7b2" opacity="0.9"/>
<polygon points="370.9,198.9 370.6,197.3 386.4,194.9" fill="#b6e3d2" opacity="0.9"/>
<polygon points="343.0,173.1 340.3,173.0 342.2,146.6" fill="#c7ecdf" opacity="0.9"/>
<polygon points="353.9,185.3 351.9,184.1 371.8,154.2" fill="#b6e3d2" opacity="0.9"/>
<polygon points="354.0,213.8 355.2,211.9 381.3,230.2" fill="#bfe8d9" opacity="0.9"/>
<polygon points="358.0,201.9 357.5,199.5 397.3,192.9" fill="#8fc7b2" opacity="0.9"/>
<polygon points="344.4,219.4 346.0,218.9 356.3,259.4" fill="#c7ecdf" opacity="0.9"/>
<polygon points="332.4,180.3 330.7,181.0 320.2,152.6" fill="#c7ecdf" opacity="0.9"/>
<polygon points="362.5,220.6 363.4,219.3 382.2,234.0" fill="#bfe8d9" opacity="0.9"/>
<polygon points="358.3,199.4 357.8,197.6 386.0,189.5" fill="#b6e3d2" opacity="0.9"/>
<polygon points="366.3,216.0 367.3,213.5 392.4,225.3" fill="#bfe8d9" opacity="0.9"/>
<polygon points="322.6,213.5 323.6,215.2 294.9,230.6" fill="#b6e3d2" opacity="0.9"/>
<polygon points="333.9,234.4 336.1,234.8 330.2,259.2" fill="#b6e3d2" opacity="0.9"/>
<polygon points="352.9,221.7 354.4,220.6 371.2,245.1" fill="#bfe8d9" opacity="0.9"/>
<polygon points="348.7,226.3 350.6,225.5 361.6,256.2" fill="#8fc7b2" opacity="0.9"/>
<polygon points="350.3,210.6 351.8,207.8 396.2,232.7" fill="#bfe8d9" opacity="0.9"/>
<polygon points="329.8,224.7 332.6,226.0 315.8,259.0" fill="#b6e3d2" opacity="0.9"/>
<polygon points="320.5,184.7 319.3,186.0 296.4,164.5" fill="#a9dbc8" opacity="0.9"/>
<polygon points="346.3,214.5 348.6,212.9 367.3,243.6" fill="#bfe8d9" opacity="0.9"/>
<polygon points="327.6,195.6 326.4,198.1 293.3,179.7" fill="#b6e3d2" opacity="0.9"/>
<polygon points="361.9,194.4 360.9,192.5 396.3,175.4" fill="#a9dbc8" opacity="0.9"/>
<polygon points="348.2,189.9 346.1,189.0 360.4,158.6" fill="#b6e3d2" opacity="0.9"/>
<polygon points="338.2,194.3 335.4,195.6 316.2,150.9" fill="#9dd2be" opacity="0.9"/>
<polygon points="310.0,209.8 310.4,211.5 296.0,213.8" fill="#c7ecdf" opacity="0.9"/>
<polygon points="357.2,205.1 357.2,203.5 393.5,205.1" fill="#8fc7b2" opacity="0.9"/>
<polygon points="343.4,189.0 340.5,188.8 344.6,145.8" fill="#a9dbc8" opacity="0.9"/>
<polygon points="353.7,205.0 353.7,202.9 399.8,203.7" fill="#c7ecdf" opacity="0.9"/>
<polygon points="333.6,227.6 336.0,228.2 327.3,256.7" fill="#a9dbc8" opacity="0.9"/>
<polygon points="331.9,230.9 334.0,231.5 326.3,253.6" fill="#bfe8d9" opacity="0.9"/>
<polygon points="342.9,218.4 344.5,218.1 352.6,265.7" fill="#8fc7b2" opacity="0.9"/>
<polygon points="337.2,223.1 339.6,223.5 334.7,251.2" fill="#b6e3d2" opacity="0.9"/>
<polygon points="332.7,210.0 333.9,211.3 294.3,244.5" fill="#c7ecdf" opacity="0.9"/>
<polygon points="350.5,210.4 351.2,209.0 392.8,234.0" fill="#a9dbc8" opacity="0.9"/>
<polygon points="314.7,192.3 314.0,193.7 283.4,180.2" fill="#a9dbc8" opacity="0.9"/>
<polygon points="343.5,222.5 345.8,222.0 353.3,265.3" fill="#9dd2be" opacity="0.9"/>
<polygon points="368.4,197.5 367.8,195.2 395.0,188.7" fill="#9dd2be" opacity="0.9"/>
<polygon points="365.7,214.1 366.7,211.3 390.8,221.2" fill="#9dd2be" opacity="0.9"/>
<polygon points="362.5,196.3 361.9,194.8 394.2,182.9" fill="#bfe8d9" opacity="0.9"/>
<polygon points="358.5,208.2 358.9,205.2 399.4,212.8" fill="#9dd2be" opacity="0.9"/>
<polygon points="321.5,221.4 322.7,222.7 295.5,247.5" fill="#c7ecdf" opacity="0.9"/>
<polygon points="348.0,173.4 346.1,173.1 351.3,151.8" fill="#c7ecdf" opacity="0.9"/>
<polygon points="323.7,212.5 324.4,213.8 296.4,228.0" fill="#c7ecdf" opacity="0.9"/>
<polygon points="324.1,184.0 322.9,185.1 301.5,160.1" fill="#a9dbc8" opacity="0.9"/>
<polygon points="318.6,222.9 320.4,224.8 296.0,245.6" fill="#b6e3d2" opacity="0.9"/>
<polygon points="341.6,188.4 339.9,188.4 340.1,149.6" fill="#9dd2be" opacity="0.9"/>
<polygon points="342.8,234.5 344.3,234.3 346.2,265.4" fill="#a9dbc8" opacity="0.9"/>
<polygon points="346.2,194.1 344.3,193.3 359.1,160.1" fill="#8fc7b2" opacity="0.9"/>
<polygon points="345.4,184.0 343.0,183.6 348.7,156.0" fill="#8fc7b2" opacity="0.9"/>
<polygon points="336.3,221.0 338.3,221.4 331.0,250.7" fill="#c7ecdf" opacity="0.9"/>
<polygon points="309.9,206.8 310.3,209.9 285.7,211.8" fill="#b6e3d2" opacity="0.9"/>
<polygon points="345.6,211.0 346.9,209.9 370.4,239.8" fill="#9dd2be" opacity="0.9"/>
<polygon points="332.7,203.9 333.0,206.1 283.4,210.9" fill="#b6e3d2" opacity="0.9"/>
<polygon points="314.0,201.9 313.9,204.7 284.6,202.5" fill="#a9dbc8" opacity="0.9"/>
<polygon points="341.9,233.2 344.3,233.1 345.2,261.6" fill="#a9dbc8" opacity="0.9"/>
<polygon points="330.4,206.9 331.3,209.2 296.7,221.7" fill="#c7ecdf" opacity="0.9"/>
<polygon points="335.9,225.7 339.0,226.2 332.0,259.2" fill="#9dd2be" opacity="0.9"/>
<polygon points="330.1,232.4 332.5,233.2 325.4,250.3" fill="#a9dbc8" opacity="0.9"/>
<polygon points="362.0,213.2 363.0,210.3 387.7,220.9" fill="#a9dbc8" opacity="0.9"/>
<polygon points="331.4,230.2 333.6,230.9 324.1,256.8" fill="#b6e3d2" opacity="0.9"/>
<polygon points="360.4,213.4 361.3,211.3 383.5,221.8" fill="#bfe8d9" opacity="0.9"/>
<polygon points="355.7,210.9 356.5,209.0 385.2,221.4" fill="#b6e3d2" opacity="0.9"/>
<polygon points="329.2,219.8 331.6,221.3 308.7,254.4" fill="#b6e3d2" opacity="0.9"/>
<polygon points="338.4,226.9 340.1,227.0 336.4,263.9" fill="#9dd2be" opacity="0.9"/>
<polygon points="347.9,182.8 344.9,182.1 355.1,147.8" fill="#9dd2be" opacity="0.9"/>
<polygon points="353.0,186.1 351.2,185.0 370.0,156.0" fill="#8fc7b2" opacity="0.9"/>
<polygon points="357.8,222.1 359.4,220.4 379.4,241.6" fill="#bfe8d9" opacity="0.9"/>
<polygon points="357.1,188.8 355.5,187.2 373.2,170.2" fill="#a9dbc8" opacity="0.9"/>
<polygon points="319.9,198.2 319.3,201.3 288.5,193.6" fill="#bfe8d9" opacity="0.9"/>
<polygon points="359.2,220.3 360.2,219.1 377.1,234.2" fill="#a9dbc8" opacity="0.9"/>
<polygon points="337.9,183.6 335.3,184.2 330.1,154.0" fill="#bfe8d9" opacity="0.9"/>
<polygon points="366.1,216.9 367.1,214.9 392.6,228.0" fill="#a9dbc8" opacity="0.9"/>
<polygon points="334.7,217.9 336.9,218.7 322.7,254.5" fill="#c7ecdf" opacity="0.9"/>
<polygon points="351.5,198.5 349.7,196.0 385.0,172.9" fill="#b6e3d2" opacity="0.9"/>
<polygon points="332.5,221.0 334.5,221.9 318.7,255.8" fill="#b6e3d2" opacity="0.9"/>
<polygon points="360.6,215.9 361.7,214.0 387.8,229.4" fill="#8fc7b2" opacity="0.9"/>
<polygon points="343.9,215.8 346.0,215.0 361.2,262.1" fill="#bfe8d9" opacity="0.9"/>
<polygon points="331.3,197.8 330.2,200.0 285.9,176.7" fill="#c7ecdf" opacity="0.9"/>
<polygon points="327.8,202.5 327.8,205.1 278.8,203.0" fill="#b6e3d2" opacity="0.9"/>
<polygon points="315.8,216.5 317.1,218.7 289.1,232.7" fill="#c7ecdf" opacity="0.9"/>
<polygon points="349.5,231.0 351.3,230.4 358.7,254.2" fill="#bfe8d9" opacity="0.9"/>
<polygon points="320.7,180.6 318.8,182.4 301.9,162.7" fill="#a9dbc8" opacity="0.9"/>
<polygon points="362.3,223.6 364.1,221.4 377.6,234.5" fill="#c7ecdf" opacity="0.9"/>
<polygon points="314.2,187.7 313.3,189.3 300.3,180.8" fill="#9dd2be" opacity="0.9"/>
<polygon points="334.4,212.2 337.0,213.7 311.1,254.9" fill="#c7ecdf" opacity="0.9"/>
<polygon points="334.2,218.6 335.6,219.2 321.7,251.2" fill="#9dd2be" opacity="0.9"/>
<polygon points="329.8,232.6 332.7,233.5 325.4,250.5" fill="#8fc7b2" opacity="0.9"/>
<polygon points="323.1,202.2 323.0,204.4 293.3,202.1" fill="#b6e3d2" opacity="0.9"/>
<polygon points="363.4,196.3 362.5,194.1 392.2,183.4" fill="#8fc7b2" opacity="0.9"/>
<polygon points="358.9,197.0 358.2,195.4 397.7,178.7" fill="#a9dbc8" opacity="0.9"/>
<polygon points="339.7,214.3 342.8,214.2 342.4,260.4" fill="#8fc7b2" opacity="0.9"/>
<polygon points="327.3,199.1 326.7,201.2 289.5,189.8" fill="#bfe8d9" opacity="0.9"/>
<polygon points="354.5,178.1 352.6,177.2 361.1,161.9" fill="#b6e3d2" opacity="0.9"/>
<polygon points="331.3,191.4 329.6,193.0 299.9,158.1" fill="#8fc7b2" opacity="0.9"/>
<polygon points="359.8,228.1 361.3,226.8 371.0,240.0" fill="#9dd2be" opacity="0.9"/>
<polygon points="319.3,195.5 318.7,197.3 284.7,184.6" fill="#c7ecdf" opacity="0.9"/>
<polygon points="341.6,184.7 339.0,184.8 339.2,153.7" fill="#8fc7b2" opacity="0.9"/>
<polygon points="356.4,223.4 358.5,221.5 373.9,240.9" fill="#8fc7b2" opacity="0.9"/>
<polygon points="327.5,207.9 328.1,209.5 294.0,220.9" fill="#8fc7b2" opacity="0.9"/>
<polygon points="313.6,212.1 314.5,214.8 287.6,222.7" fill="#b6e3d2" opacity="0.9"/>
<polygon points="311.8,206.3 312.1,208.4 290.3,209.8" fill="#8fc7b2" opacity="0.9"/>
<polygon points="351.0,208.5 351.7,206.6 396.1,222.9" fill="#a9dbc8" opacity="0.9"/>
<polygon points="325.3,192.0 323.6,194.5 293.3,173.0" fill="#bfe8d9" opacity="0.9"/>
<polygon points="334.0,232.2 336.4,232.7 330.7,254.6" fill="#b6e3d2" opacity="0.9"/>
<polygon points="332.5,229.2 335.0,229.9 326.7,254.3" fill="#c7ecdf" opacity="0.9"/>
<polygon points="342.4,196.0 340.3,195.9 343.6,145.7" fill="#b6e3d2" opacity="0.9"/>
<polygon points="353.0,190.4 350.9,188.8 375.5,158.3" fill="#bfe8d9" opacity="0.9"/>
<polygon points="329.1,220.3 331.4,221.7 309.7,253.4" fill="#8fc7b2" opacity="0.9"/>
<polygon points="347.0,183.0 345.6,182.6 352.2,159.1" fill="#8fc7b2" opacity="0.9"/>
<polygon points="349.0,177.1 347.2,176.6 356.0,146.8" fill="#a9dbc8" opacity="0.9"/>
<polygon points="366.7,205.9 366.7,202.8 403.5,204.8" fill="#b6e3d2" opacity="0.9"/>
<polygon points="358.4,182.2 357.1,181.2 371.1,164.0" fill="#8fc7b2" opacity="0.9"/>
<polygon points="320.1,214.8 321.0,216.4 288.3,234.0" fill="#a9dbc8" opacity="0.9"/>
<polygon points="342.6,234.3 344.8,234.1 345.2,251.0" fill="#c7ecdf" opacity="0.9"/>
<polygon points="334.0,219.5 336.3,220.3 320.7,258.9" fill="#bfe8d9" opacity="0.9"/>
<polygon points="350.7,180.5 348.5,179.7 361.0,148.2" fill="#c7ecdf" opacity="0.9"/>
<polygon points="360.1,205.7 360.1,202.9 394.2,204.9" fill="#b6e3d2" opacity="0.9"/>
<polygon points="354.8,216.4 356.3,214.6 383.2,237.3" fill="#9dd2be" opacity="0.9"/>
<polygon points="314.3,199.0 314.0,201.6 295.0,197.7" fill="#bfe8d9" opacity="0.9"/>
<polygon points="354.6,182.8 353.0,181.8 369.7,155.4" fill="#bfe8d9" opacity="0.9"/>
<polygon points="330.4,186.9 328.3,188.4 309.9,160.4" fill="#a9dbc8" opacity="0.9"/>
<polygon points="349.0,232.2 350.8,231.6 357.7,256.5" fill="#b6e3d2" opacity="0.9"/>
<polygon points="356.2,205.8 356.2,202.8 394.3,205.1" fill="#8fc7b2" opacity="0.9"/>
<polygon points="331.8,209.7 333.5,211.8 295.1,241.3" fill="#9dd2be" opacity="0.9"/>
<polygon points="343.3,222.7 346.4,222.1 351.9,255.7" fill="#9dd2be" opacity="0.9"/>
<polygon points="337.6,216.5 340.5,216.9 332.8,258.3" fill="#8fc7b2" opacity="0.9"/>
<polygon points="330.5,177.0 327.9,178.2 316.9,150.2" fill="#9dd2be" opacity="0.9"/>
<polygon points="319.7,214.8 321.1,217.2 291.6,232.8" fill="#8fc7b2" opacity="0.9"/>
<polygon points="339.9,182.0 337.3,182.3 335.6,154.8" fill="#8fc7b2" opacity="0.9"/>
<polygon points="344.6,183.5 342.5,183.2 347.0,155.1" fill="#b6e3d2" opacity="0.9"/>
<polygon points="354.1,214.4 355.5,212.3 387.6,235.6" fill="#b6e3d2" opacity="0.9"/>
<polygon points="350.1,227.3 352.6,226.1 363.9,254.3" fill="#a9dbc8" opacity="0.9"/>
<polygon points="333.8,177.0 331.2,177.8 324.6,152.6" fill="#c7ecdf" opacity="0.9"/>
<polygon points="354.6,193.9 352.8,191.9 381.8,168.2" fill="#a9dbc8" opacity="0.9"/>
<polygon points="330.4,213.7 332.0,215.3 299.3,248.6" fill="#bfe8d9" opacity="0.9"/>
<polygon points="359.8,194.7 358.7,192.8 390.1,176.5" fill="#b6e3d2" opacity="0.9"/>
<polygon points="333.5,200.0 332.8,201.9 282.6,181.4" fill="#9dd2be" opacity="0.9"/>
<polygon points="350.2,185.2 348.7,184.6 360.2,160.9" fill="#b6e3d2" opacity="0.9"/>
<polygon points="336.3,195.2 334.5,196.4 312.1,161.6" fill="#c7ecdf" opacity="0.9"/>
<polygon points="328.4,227.5 330.7,228.7 315.0,258.7" fill="#c7ecdf" opacity="0.9"/>
<polygon points="347.8,175.4 344.9,174.9 352.3,143.3" fill="#8fc7b2" opacity="0.9"/>
<polygon points="333.6,185.7 331.9,186.5 321.2,160.9" fill="#9dd2be" opacity="0.9"/>
<polygon points="332.7,225.2 334.2,225.8 323.3,254.2" fill="#bfe8d9" opacity="0.9"/>
<polygon points="335.3,190.1 333.0,191.3 318.1,159.4" fill="#a9dbc8" opacity="0.9"/>
<polygon points="356.6,212.9 357.5,211.0 388.0,227.1" fill="#b6e3d2" opacity="0.9"/>
<polygon points="356.6,199.5 355.9,197.5 385.7,187.9" fill="#b6e3d2" opacity="0.9"/>
<polygon points="362.6,221.8 363.8,220.2 381.9,235.3" fill="#9dd2be" opacity="0.9"/>
<polygon points="330.8,176.9 328.5,177.9 320.0,154.6" fill="#a9dbc8" opacity="0.9"/>
<polygon points="356.4,192.7 354.9,190.9 380.4,171.2" fill="#bfe8d9" opacity="0.9"/>
<polygon points="320.9,201.2 320.7,203.4 293.6,200.0" fill="#9dd2be" opacity="0.9"/>
<polygon points="350.3,233.0 351.9,232.4 360.3,259.1" fill="#a9dbc8" opacity="0.9"/>
<polygon points="326.4,208.7 327.2,210.8 284.5,226.8" fill="#c7ecdf" opacity="0.9"/>
<polygon points="349.1,202.2 348.1,199.7 385.4,186.3" fill="#b6e3d2" opacity="0.9"/>
<polygon points="366.0,211.5 366.5,209.9 387.2,216.3" fill="#a9dbc8" opacity="0.9"/>
<polygon points="353.5,212.1 354.4,210.4 390.4,231.7" fill="#8fc7b2" opacity="0.9"/>
<polygon points="317.9,212.8 319.0,215.2 294.3,224.7" fill="#bfe8d9" opacity="0.9"/>
<polygon points="312.9,201.1 312.8,203.4 280.6,200.2" fill="#bfe8d9" opacity="0.9"/>
<polygon points="371.8,212.5 372.2,210.9 391.7,216.6" fill="#bfe8d9" opacity="0.9"/>
<polygon points="312.6,214.0 313.8,216.9 294.2,223.3" fill="#c7ecdf" opacity="0.9"/>
<polygon points="367.9,194.3 367.3,192.7 390.0,184.7" fill="#c7ecdf" opacity="0.9"/>
<polygon points="341.6,185.0 339.8,185.0 340.1,145.6" fill="#c7ecdf" opacity="0.9"/>
<polygon points="365.4,202.5 365.2,200.6 386.9,199.3" fill="#c7ecdf" opacity="0.9"/>
<polygon points="325.0,187.9 323.8,189.1 301.9,167.6" fill="#9dd2be" opacity="0.9"/>
<polygon points="331.2,212.1 332.5,213.5 305.5,238.2" fill="#9dd2be" opacity="0.9"/>
<polygon points="320.9,202.7 320.9,205.5 285.1,204.2" fill="#a9dbc8" opacity="0.9"/>
<polygon points="331.7,224.8 334.5,225.8 323.0,252.5" fill="#b6e3d2" opacity="0.9"/>
<polygon points="349.7,205.9 349.9,203.5 390.2,207.9" fill="#9dd2be" opacity="0.9"/>
<polygon points="371.2,213.9 371.7,212.1 388.8,218.1" fill="#c7ecdf" opacity="0.9"/>
<polygon points="330.3,206.2 330.7,207.8 296.2,216.7" fill="#b6e3d2" opacity="0.9"/>
<polygon points="331.5,176.0 329.9,176.6 324.3,159.0" fill="#8fc7b2" opacity="0.9"/>
<polygon points="371.1,204.5 371.0,201.7 399.6,202.3" fill="#c7ecdf" opacity="0.9"/>
<polygon points="339.5,218.4 341.6,218.5 339.5,252.9" fill="#a9dbc8" opacity="0.9"/>
<polygon points="341.4,232.1 343.7,232.0 344.5,266.3" fill="#c7ecdf" opacity="0.9"/>
<polygon points="343.0,229.9 344.8,229.7 346.2,250.6" fill="#bfe8d9" opacity="0.9"/>
<polygon points="331.9,186.6 330.2,187.6 316.8,163.0" fill="#8fc7b2" opacity="0.9"/>
<polygon points="331.1,205.6 331.7,207.6 294.7,216.6" fill="#b6e3d2" opacity="0.9"/>
<polygon points="340.1,212.2 342.8,212.1 344.1,260.4" fill="#8fc7b2" opacity="0.9"/>
<polygon points="327.0,193.6 325.9,195.3 298.0,175.8" fill="#c7ecdf" opacity="0.9"/>
<polygon points="344.9,225.7 346.6,225.3 353.9,262.9" fill="#9dd2be" opacity="0.9"/>
<polygon points="354.4,206.0 354.5,203.5 396.8,207.1" fill="#a9dbc8" opacity="0.9"/>
<polygon points="354.9,214.2 356.2,212.1 383.4,230.6" fill="#8fc7b2" opacity="0.9"/>
<polygon points="337.6,216.5 339.3,216.9 329.4,261.3" fill="#b6e3d2" opacity="0.9"/>
<polygon points="320.1,189.2 319.1,190.8 292.4,172.3" fill="#9dd2be" opacity="0.9"/>
<polygon points="327.6,208.4 328.3,210.1 293.5,223.1" fill="#bfe8d9" opacity="0.9"/>
<polygon points="330.7,204.9 331.2,207.5 287.0,215.8" fill="#8fc7b2" opacity="0.9"/>
<polygon points="312.4,190.0 311.6,191.8 284.5,178.4" fill="#a9dbc8" opacity="0.9"/>
<polygon points="319.3,194.3 318.5,196.3 288.6,183.4" fill="#c7ecdf" opacity="0.9"/>
<polygon points="353.6,185.3 352.1,184.4 372.8,152.6" fill="#c7ecdf" opacity="0.9"/>
<polygon points="328.6,207.0 329.5,209.4 288.6,222.4" fill="#a9dbc8" opacity="0.9"/>
<polygon points="348.4,194.1 347.1,193.3 374.7,152.5" fill="#bfe8d9" opacity="0.9"/>
<polygon points="338.0,221.4 339.6,221.6 334.9,252.4" fill="#c7ecdf" opacity="0.9"/>
<polygon points="326.3,221.7 328.3,223.2 306.5,250.4" fill="#a9dbc8" opacity="0.9"/>
<polygon points="357.3,198.8 356.7,197.3 397.0,183.2" fill="#c7ecdf" opacity="0.9"/>
<polygon points="326.0,213.6 328.0,216.1 291.5,242.4" fill="#8fc7b2" opacity="0.9"/>
<polygon points="370.9,193.3 369.9,190.9 384.6,186.3" fill="#9dd2be" opacity="0.9"/>
<polygon points="363.6,211.7 364.3,209.4 393.5,219.0" fill="#c7ecdf" opacity="0.9"/>
<polygon points="352.2,229.0 354.6,227.8 365.1,251.6" fill="#8fc7b2" opacity="0.9"/>
<polygon points="364.0,194.1 362.6,191.3 392.8,177.8" fill="#8fc7b2" opacity="0.9"/>
<polygon points="319.7,193.1 318.6,195.7 286.7,180.1" fill="#c7ecdf" opacity="0.9"/>
<polygon points="343.1,224.5 344.9,224.2 348.9,257.8" fill="#8fc7b2" opacity="0.9"/>
<polygon points="349.6,186.1 347.3,185.2 361.4,153.8" fill="#8fc7b2" opacity="0.9"/>
<polygon points="366.1,203.5 366.1,201.8 392.4,201.3" fill="#b6e3d2" opacity="0.9"/>
<polygon points="346.0,183.6 343.1,183.1 350.7,147.7" fill="#a9dbc8" opacity="0.9"/>
<polygon points="354.1,222.7 355.5,221.6 373.8,247.2" fill="#8fc7b2" opacity="0.9"/>
<polygon points="360.3,221.8 361.8,220.1 376.7,234.2" fill="#9dd2be" opacity="0.9"/>
<polygon points="343.3,212.3 345.5,211.3 360.4,247.9" fill="#9dd2be" opacity="0.9"/>
<polygon points="327.6,178.5 325.9,179.5 312.8,154.6" fill="#8fc7b2" opacity="0.9"/>
<polygon points="354.7,228.8 356.5,227.8 369.2,250.9" fill="#bfe8d9" opacity="0.9"/>
<polygon points="342.9,196.0 341.1,195.7 348.0,148.4" fill="#a9dbc8" opacity="0.9"/>
<polygon points="311.5,193.2 310.7,196.0 293.0,188.9" fill="#b6e3d2" opacity="0.9"/>
<polygon points="341.2,225.7 343.1,225.6 344.1,261.3" fill="#9dd2be" opacity="0.9"/>
<polygon points="324.7,212.7 325.6,214.2 298.3,229.5" fill="#c7ecdf" opacity="0.9"/>
<polygon points="355.6,226.1 357.8,224.4 371.5,245.3" fill="#c7ecdf" opacity="0.9"/>
<polygon points="362.4,203.9 362.4,202.2 388.7,201.9" fill="#c7ecdf" opacity="0.9"/>
<polygon points="329.8,201.5 329.5,203.1 291.0,196.5" fill="#a9dbc8" opacity="0.9"/>
<polygon points="330.6,232.5 332.5,233.1 325.8,250.0" fill="#b6e3d2" opacity="0.9"/>
<polygon points="369.2,195.3 368.5,193.2 385.1,188.5" fill="#9dd2be" opacity="0.9"/>
<polygon points="355.6,218.6 357.4,216.5 386.3,243.6" fill="#9dd2be" opacity="0.9"/>
<polygon points="347.6,190.1 345.9,189.4 358.3,161.2" fill="#9dd2be" opacity="0.9"/>
<polygon points="339.3,187.3 336.4,187.9 330.3,148.3" fill="#bfe8d9" opacity="0.9"/>
<polygon points="334.4,234.4 336.7,234.8 331.6,256.6" fill="#a9dbc8" opacity="0.9"/>
<polygon points="332.7,221.6 334.9,222.5 318.0,261.7" fill="#c7ecdf" opacity="0.9"/>
<polygon points="350.1,209.7 350.9,208.0 397.1,232.4" fill="#bfe8d9" opacity="0.9"/>
<polygon points="361.6,204.9 361.5,202.3 397.6,202.9" fill="#8fc7b2" opacity="0.9"/>
<polygon points="328.2,205.3 328.5,206.9 286.9,213.0" fill="#8fc7b2" opacity="0.9"/>
<polygon points="346.2,210.5 347.8,208.8 379.3,240.4" fill="#8fc7b2" opacity="0.9"/>
<polygon points="313.8,192.0 313.1,193.7 284.2,181.1" fill="#c7ecdf" opacity="0.9"/>
<polygon points="347.8,197.0 345.8,195.5 373.5,160.6" fill="#a9dbc8" opacity="0.9"/>
<polygon points="372.2,198.2 371.8,196.6 395.1,192.5" fill="#9dd2be" opacity="0.9"/>
<polygon points="360.0,189.3 358.7,187.9 388.4,164.2" fill="#a9dbc8" opacity="0.9"/>
<polygon points="329.6,201.8 329.4,203.7 280.6,197.3" fill="#c7ecdf" opacity="0.9"/>
<polygon points="351.8,210.2 353.0,207.4 391.5,225.4" fill="#9dd2be" opacity="0.9"/>
<polygon points="362.6,200.8 362.1,198.6 396.9,192.8" fill="#b6e3d2" opacity="0.9"/>
<polygon points="345.7,213.7 347.5,212.7 368.1,248.6" fill="#9dd2be" opacity="0.9"/>
<polygon points="371.1,201.8 370.8,198.8 392.1,197.7" fill="#bfe8d9" opacity="0.9"/>
<polygon points="339.9,189.3 337.8,189.6 334.2,157.2" fill="#8fc7b2" opacity="0.9"/>
<polygon points="331.0,227.9 333.0,228.6 321.9,255.4" fill="#c7ecdf" opacity="0.9"/>
<polygon points="349.6,222.5 351.8,221.3 364.7,247.8" fill="#c7ecdf" opacity="0.9"/>
<polygon points="328.7,209.1 330.0,211.5 288.1,232.7" fill="#b6e3d2" opacity="0.9"/>
<polygon points="368.1,193.3 367.0,190.8 383.4,184.9" fill="#a9dbc8" opacity="0.9"/>
<polygon points="359.1,194.0 357.7,191.8 385.9,175.3" fill="#9dd2be" opacity="0.9"/>
<polygon points="353.2,215.7 354.3,214.4 388.6,245.3" fill="#9dd2be" opacity="0.9"/>
<polygon points="370.8,211.9 371.2,210.2 401.5,218.2" fill="#c7ecdf" opacity="0.9"/>
<polygon points="332.6,217.0 334.1,217.9 311.1,256.3" fill="#c7ecdf" opacity="0.9"/>
<polygon points="348.5,198.7 347.1,197.2 387.1,162.9" fill="#9dd2be" opacity="0.9"/>
<polygon points="367.1,221.1 368.1,219.4 387.5,232.3" fill="#a9dbc8" opacity="0.9"/>
<polygon points="326.2,191.0 325.1,192.4 298.4,169.9" fill="#8fc7b2" opacity="0.9"/>
<polygon points="349.8,234.4 352.7,233.4 358.1,253.9" fill="#c7ecdf" opacity="0.9"/>
<polygon points="322.4,184.4 320.7,186.2 300.6,165.2" fill="#8fc7b2" opacity="0.9"/>
<polygon points="356.2,217.6 357.8,215.5 387.3,240.3" fill="#8fc7b2" opacity="0.9"/>
<polygon points="335.6,210.9 338.2,212.3 317.1,248.3" fill="#a9dbc8" opacity="0.9"/>
<polygon points="318.7,193.8 317.7,196.3 283.3,181.3" fill="#a9dbc8" opacity="0.9"/>
<polygon points="341.8,216.5 344.9,215.9 353.1,265.6" fill="#bfe8d9" opacity="0.9"/>
<polygon points="334.4,215.1 336.8,216.3 316.8,256.6" fill="#9dd2be" opacity="0.9"/>
<polygon points="349.8,216.1 351.4,214.7 379.8,250.0" fill="#bfe8d9" opacity="0.9"/>
<polygon points="325.6,206.9 326.5,209.9 285.2,220.5" fill="#a9dbc8" opacity="0.9"/>
<polygon points="330.0,185.5 328.4,186.6 311.4,158.8" fill="#8fc7b2" opacity="0.9"/>
<polygon points="344.4,194.5 341.9,194.0 353.9,145.9" fill="#a9dbc8" opacity="0.9"/>
<polygon points="369.4,201.2 369.0,198.9 397.0,196.2" fill="#b6e3d2" opacity="0.9"/>
<polygon points="325.5,210.9 326.7,213.1 293.4,229.5" fill="#8fc7b2" opacity="0.9"/>
<polygon points="354.9,219.3 356.7,217.4 385.7,247.3" fill="#8fc7b2" opacity="0.9"/>
<polygon points="348.7,227.9 350.3,227.3 362.0,262.4" fill="#9dd2be" opacity="0.9"/>
<polygon points="341.0,192.8 338.3,193.2 334.8,152.4" fill="#bfe8d9" opacity="0.9"/>
<polygon points="342.9,193.0 341.0,192.8 345.6,151.6" fill="#a9dbc8" opacity="0.9"/>
<polygon points="334.6,190.9 333.1,191.7 312.6,153.6" fill="#a9dbc8" opacity="0.9"/>
<polygon points="318.8,200.3 318.5,202.2 291.8,198.0" fill="#8fc7b2" opacity="0.9"/>
<polygon points="339.2,182.1 337.6,182.3 334.7,151.0" fill="#c7ecdf" opacity="0.9"/>
<polygon points="350.8,217.7 352.7,216.1 375.7,245.7" fill="#8fc7b2" opacity="0.9"/>
<polygon points="317.9,202.8 317.9,205.3 283.9,204.1" fill="#9dd2be" opacity="0.9"/>
<polygon points="357.7,224.0 359.0,222.9 372.0,238.7" fill="#9dd2be" opacity="0.9"/>
<polygon points="325.1,221.7 326.8,223.1 304.5,248.7" fill="#9dd2be" opacity="0.9"/>
<polygon points="342.3,223.4 345.4,223.0 349.7,263.3" fill="#8fc7b2" opacity="0.9"/>
<polygon points="362.3,226.1 364.3,223.9 383.5,243.9" fill="#8fc7b2" opacity="0.9"/>
<polygon points="361.6,186.0 360.1,184.3 376.7,170.1" fill="#bfe8d9" opacity="0.9"/>
<polygon points="358.8,227.6 361.2,225.6 374.2,243.5" fill="#9dd2be" opacity="0.9"/>
<polygon points="334.5,212.9 335.8,213.7 313.0,248.6" fill="#8fc7b2" opacity="0.9"/>
<polygon points="337.4,194.9 335.4,195.9 315.2,155.7" fill="#9dd2be" opacity="0.9"/>
<polygon points="353.9,185.6 351.1,184.0 368.0,159.0" fill="#b6e3d2" opacity="0.9"/>
<polygon points="350.5,231.6 352.4,230.9 362.9,261.3" fill="#8fc7b2" opacity="0.9"/>
<polygon points="367.5,210.9 367.9,209.1 392.7,215.6" fill="#9dd2be" opacity="0.9"/>
<polygon points="324.4,189.3 323.4,190.5 293.0,164.4" fill="#b6e3d2" opacity="0.9"/>
<polygon points="314.3,213.2 315.1,215.2 295.0,221.8" fill="#8fc7b2" opacity="0.9"/>
<polygon points="339.7,213.7 341.4,213.8 338.5,258.3" fill="#bfe8d9" opacity="0.9"/>
<polygon points="360.8,185.1 358.8,183.1 374.6,168.4" fill="#a9dbc8" opacity="0.9"/>
<polygon points="322.6,192.8 321.2,195.4 290.6,177.8" fill="#a9dbc8" opacity="0.9"/>
<polygon points="312.8,207.2 313.3,210.1 280.6,214.1" fill="#bfe8d9" opacity="0.9"/>
<polygon points="322.4,187.5 321.1,189.1 294.1,165.7" fill="#9dd2be" opacity="0.9"/>
<polygon points="353.0,208.1 353.5,206.2 387.4,216.0" fill="#c7ecdf" opacity="0.9"/>
<polygon points="327.7,217.8 329.1,219.0 300.3,250.7" fill="#b6e3d2" opacity="0.9"/>
<polygon points="350.0,231.8 352.5,230.8 362.7,261.9" fill="#a9dbc8" opacity="0.9"/>
<polygon points="321.5,218.8 323.5,221.1 300.0,239.3" fill="#c7ecdf" opacity="0.9"/>
<polygon points="332.5,203.9 332.7,206.2 295.1,209.7" fill="#8fc7b2" opacity="0.9"/>
<polygon points="365.2,186.3 364.1,184.8 379.2,174.2" fill="#c7ecdf" opacity="0.9"/>
<polygon points="327.3,199.7 326.8,201.7 284.8,190.8" fill="#b6e3d2" opacity="0.9"/>
<polygon points="354.9,183.5 352.5,182.1 373.2,150.3" fill="#b6e3d2" opacity="0.9"/>
<polygon points="337.5,176.9 335.8,177.1 332.3,150.4" fill="#a9dbc8" opacity="0.9"/>
<polygon points="335.9,189.8 333.3,191.1 317.6,154.4" fill="#c7ecdf" opacity="0.9"/>
<polygon points="372.0,199.9 371.6,197.5 401.6,193.6" fill="#a9dbc8" opacity="0.9"/>
<polygon points="339.0,218.3 342.1,218.4 339.0,263.1" fill="#9dd2be" opacity="0.9"/>
<polygon points="369.0,192.3 367.8,189.8 386.1,182.7" fill="#9dd2be" opacity="0.9"/>
<polygon points="341.1,215.9 343.3,215.7 346.0,252.7" fill="#8fc7b2" opacity="0.9"/>
<polygon points="355.2,192.4 354.1,191.2 384.2,165.3" fill="#a9dbc8" opacity="0.9"/>
<polygon points="334.1,212.3 336.4,213.7 314.2,246.1" fill="#a9dbc8" opacity="0.9"/>
<polygon points="340.7,188.2 338.1,188.5 335.3,148.5" fill="#bfe8d9" opacity="0.9"/>
<polygon points="320.3,186.7 318.7,188.8 290.7,166.1" fill="#9dd2be" opacity="0.9"/>
<polygon points="332.8,209.6 334.1,211.2 295.9,242.1" fill="#8fc7b2" opacity="0.9"/>
<polygon points="326.6,176.9 323.9,178.5 313.1,157.4" fill="#9dd2be" opacity="0.9"/>
<polygon points="350.6,202.1 349.9,200.0 385.5,189.8" fill="#c7ecdf" opacity="0.9"/>
<polygon points="331.3,212.4 333.4,214.3 298.2,250.2" fill="#c7ecdf" opacity="0.9"/>
<polygon points="339.5,213.8 341.3,213.9 337.4,266.4" fill="#a9dbc8" opacity="0.9"/>
<polygon points="321.4,183.9 319.7,185.8 305.8,171.0" fill="#8fc7b2" opacity="0.9"/>
<polygon points="338.1,231.7 340.3,231.9 337.4,259.7" fill="#8fc7b2" opacity="0.9"/>
<polygon points="318.6,223.8 319.9,225.2 302.6,240.1" fill="#9dd2be" opacity="0.9"/>
<polygon points="352.1,202.8 351.6,200.7 401.3,191.5" fill="#bfe8d9" opacity="0.9"/>
<polygon points="349.3,192.2 347.4,191.0 368.8,157.1" fill="#b6e3d2" opacity="0.9"/>
<polygon points="320.6,213.7 321.8,216.1 286.9,233.7" fill="#c7ecdf" opacity="0.9"/>
<polygon points="361.4,216.7 362.7,214.3 386.3,228.7" fill="#a9dbc8" opacity="0.9"/>
<polygon points="322.4,182.1 320.8,183.6 302.8,162.3" fill="#bfe8d9" opacity="0.9"/>
<polygon points="330.1,198.3 329.1,200.7 289.4,183.6" fill="#bfe8d9" opacity="0.9"/>
<polygon points="321.2,201.4 321.0,204.0 294.8,201.0" fill="#a9dbc8" opacity="0.9"/>
<polygon points="329.3,224.0 330.6,224.7 317.1,248.0" fill="#bfe8d9" opacity="0.9"/>
<polygon points="354.3,227.0 356.8,225.4 367.2,243.9" fill="#c7ecdf" opacity="0.9"/>
<polygon points="325.3,218.7 326.7,220.1 302.6,243.5" fill="#8fc7b2" opacity="0.9"/>
<polygon points="321.4,181.6 319.4,183.4 307.0,168.5" fill="#8fc7b2" opacity="0.9"/>
<polygon points="338.2,222.7 341.4,222.9 337.5,258.2" fill="#b6e3d2" opacity="0.9"/>
<polygon points="315.6,217.7 317.0,220.0 293.9,232.3" fill="#b6e3d2" opacity="0.9"/>
<polygon points="321.6,222.3 323.7,224.3 307.0,239.7" fill="#b6e3d2" opacity="0.9"/>
<polygon points="372.1,198.9 371.5,196.0 396.4,192.2" fill="#bfe8d9" opacity="0.9"/>
<polygon points="332.6,187.3 330.1,188.9 316.0,162.8" fill="#8fc7b2" opacity="0.9"/>
<polygon points="357.1,194.0 355.6,191.9 388.3,170.1" fill="#c7ecdf" opacity="0.9"/>
<polygon points="369.6,217.7 370.8,214.9 394.4,226.5" fill="#8fc7b2" opacity="0.9"/>
<polygon points="346.1,219.8 347.6,219.2 361.4,257.9" fill="#9dd2be" opacity="0.9"/>
<polygon points="359.4,228.4 360.0,227.9 374.7,247.5" fill="#6e9888" opacity="0.5"/>
<polygon points="322.8,228.5 323.6,229.1 315.6,239.2" fill="#4f7467" opacity="0.5"/>
<polygon points="351.7,221.3 352.3,220.9 365.9,242.5" fill="#6e9888" opacity="0.5"/>
<polygon points="324.3,219.7 325.2,220.6 303.7,241.1" fill="#4f7467" opacity="0.5"/>
<polygon points="348.2,226.8 349.1,226.5 359.8,259.5" fill="#4f7467" opacity="0.5"/>
<polygon points="363.3,208.0 363.6,206.6 397.7,212.4" fill="#6e9888" opacity="0.5"/>
<polygon points="349.8,233.5 350.9,233.2 353.1,241.9" fill="#4f7467" opacity="0.5"/>
<polygon points="334.9,228.6 335.9,228.8 327.5,263.7" fill="#7aa593" opacity="0.5"/>
<polygon points="352.1,203.2 351.9,201.9 383.2,198.3" fill="#6e9888" opacity="0.5"/>
<polygon points="330.2,212.6 330.8,213.3 306.6,233.2" fill="#7aa593" opacity="0.5"/>
<polygon points="357.8,225.2 358.9,224.3 370.5,239.4" fill="#7aa593" opacity="0.5"/>
<polygon points="351.9,210.9 352.5,209.8 384.4,228.7" fill="#6e9888" opacity="0.5"/>
<polygon points="332.1,184.8 330.8,185.4 316.1,154.9" fill="#4f7467" opacity="0.5"/>
<polygon points="367.0,198.0 366.8,197.2 384.3,193.3" fill="#7aa593" opacity="0.5"/>
<polygon points="330.2,221.2 331.4,221.9 321.6,237.2" fill="#7aa593" opacity="0.5"/>
<polygon points="322.2,228.4 322.8,228.8 315.8,237.7" fill="#4f7467" opacity="0.5"/>
<polygon points="351.7,206.2 351.9,205.1 380.5,210.1" fill="#4f7467" opacity="0.5"/>
<polygon points="330.0,188.5 328.9,189.4 312.6,167.0" fill="#5d8576" opacity="0.5"/>
<polygon points="337.1,222.0 338.4,222.2 333.7,245.3" fill="#7aa593" opacity="0.5"/>
<polygon points="334.2,215.1 335.4,215.8 320.6,241.7" fill="#7aa593" opacity="0.5"/>
<polygon points="367.8,193.4 367.4,192.7 377.5,188.9" fill="#6e9888" opacity="0.5"/>
<polygon points="355.7,199.2 355.2,198.0 399.0,182.4" fill="#6e9888" opacity="0.5"/>
<polygon points="341.5,226.7 342.6,226.6 343.3,256.3" fill="#4f7467" opacity="0.5"/>
<polygon points="320.4,222.7 321.4,223.8 297.0,246.1" fill="#6e9888" opacity="0.5"/>
<polygon points="344.7,182.6 343.3,182.4 348.7,148.5" fill="#6e9888" opacity="0.5"/>
<polygon points="354.7,206.8 354.9,205.7 399.4,213.4" fill="#7aa593" opacity="0.5"/>
<polygon points="320.9,209.0 321.2,210.3 290.2,218.4" fill="#5d8576" opacity="0.5"/>
<polygon points="338.5,183.3 337.1,183.6 334.4,161.8" fill="#7aa593" opacity="0.5"/>
<polygon points="350.1,218.7 351.0,218.1 364.6,239.6" fill="#6e9888" opacity="0.5"/>
<polygon points="341.2,221.8 342.0,221.8 342.9,259.0" fill="#4f7467" opacity="0.5"/>
<polygon points="329.2,185.0 328.3,185.6 309.9,156.5" fill="#5d8576" opacity="0.5"/>
<polygon points="340.5,217.1 341.7,217.1 341.4,260.3" fill="#6e9888" opacity="0.5"/>
<polygon points="354.0,190.6 353.4,190.0 373.8,168.6" fill="#4f7467" opacity="0.5"/>
<polygon points="352.1,181.3 351.0,180.8 360.3,162.0" fill="#7aa593" opacity="0.5"/>
<polygon points="367.9,201.4 367.8,200.5 391.4,198.3" fill="#7aa593" opacity="0.5"/>
<polygon points="347.2,223.4 348.0,223.1 356.1,247.8" fill="#7aa593" opacity="0.5"/>
<polygon points="352.5,228.1 353.1,227.7 367.3,257.2" fill="#5d8576" opacity="0.5"/>
<polygon points="332.3,213.2 333.2,214.0 309.7,240.5" fill="#4f7467" opacity="0.5"/>
<polygon points="334.6,212.5 335.7,213.2 311.6,248.8" fill="#7aa593" opacity="0.5"/>
<polygon points="352.1,216.8 353.0,216.0 382.4,248.4" fill="#5d8576" opacity="0.5"/>
<polygon points="348.8,186.2 347.6,185.7 356.5,165.2" fill="#6e9888" opacity="0.5"/>
<polygon points="360.4,217.4 361.1,216.3 382.5,231.0" fill="#7aa593" opacity="0.5"/>
<polygon points="326.8,202.5 326.7,204.0 290.9,201.3" fill="#7aa593" opacity="0.5"/>
<polygon points="342.1,233.9 343.1,233.8 343.4,249.2" fill="#4f7467" opacity="0.5"/>
<polygon points="322.6,208.5 322.9,209.6 292.8,217.4" fill="#7aa593" opacity="0.5"/>
<polygon points="311.5,202.0 311.4,203.3 296.0,201.9" fill="#6e9888" opacity="0.5"/>
<polygon points="364.3,198.3 364.0,197.0 384.1,192.2" fill="#4f7467" opacity="0.5"/>
<polygon points="346.1,191.7 345.1,191.3 355.7,163.9" fill="#6e9888" opacity="0.5"/>
<polygon points="336.5,222.3 337.5,222.5 330.6,252.1" fill="#6e9888" opacity="0.5"/>
<polygon points="334.8,195.4 333.7,196.3 308.4,164.5" fill="#4f7467" opacity="0.5"/>
<polygon points="353.4,224.6 354.0,224.2 361.5,236.8" fill="#4f7467" opacity="0.5"/>
<polygon points="323.9,183.8 323.3,184.3 310.2,168.6" fill="#6e9888" opacity="0.5"/>
<polygon points="323.2,220.9 324.1,221.9 305.2,239.9" fill="#5d8576" opacity="0.5"/>
<polygon points="325.9,201.8 325.8,202.5 292.2,198.1" fill="#5d8576" opacity="0.5"/>
<polygon points="358.4,201.8 358.2,200.6 388.9,196.3" fill="#6e9888" opacity="0.5"/>
<polygon points="372.5,209.0 372.7,207.6 384.3,209.9" fill="#4f7467" opacity="0.5"/>
<polygon points="311.0,211.2 311.4,212.5 299.3,215.0" fill="#5d8576" opacity="0.5"/>
<polygon points="317.5,214.9 317.8,215.6 288.7,229.1" fill="#4f7467" opacity="0.5"/>
<polygon points="319.6,203.5 319.6,204.7 292.7,204.3" fill="#7aa593" opacity="0.5"/>
<polygon points="328.8,187.3 328.2,187.8 309.4,162.5" fill="#5d8576" opacity="0.5"/>
<polygon points="330.0,196.4 329.4,197.4 302.0,179.6" fill="#5d8576" opacity="0.5"/>
<polygon points="329.8,233.6 330.6,233.8 320.7,259.8" fill="#7aa593" opacity="0.5"/>
<polygon points="313.1,191.2 312.7,192.0 287.2,180.3" fill="#4f7467" opacity="0.5"/>
<polygon points="327.3,212.7 327.8,213.5 298.5,232.6" fill="#4f7467" opacity="0.5"/>
<polygon points="350.8,197.0 350.3,196.3 381.9,172.4" fill="#7aa593" opacity="0.5"/>
<polygon points="332.6,224.3 333.5,224.6 320.6,256.4" fill="#6e9888" opacity="0.5"/>
<polygon points="337.5,222.1 338.4,222.3 333.0,251.3" fill="#5d8576" opacity="0.5"/>
<polygon points="350.6,209.7 351.1,208.8 390.2,230.1" fill="#7aa593" opacity="0.5"/>
<polygon points="344.8,190.2 343.7,190.0 350.0,165.1" fill="#7aa593" opacity="0.5"/>
<polygon points="357.7,194.9 357.0,193.8 393.7,172.8" fill="#5d8576" opacity="0.5"/>
<polygon points="348.9,211.2 349.5,210.5 372.2,230.1" fill="#7aa593" opacity="0.5"/>
<polygon points="355.1,212.8 355.8,211.6 377.5,224.7" fill="#6e9888" opacity="0.5"/>
<polygon points="368.6,214.1 369.0,213.0 382.7,218.4" fill="#4f7467" opacity="0.5"/>
<polygon points="332.0,197.9 331.6,198.6 289.4,171.8" fill="#6e9888" opacity="0.5"/>
<polygon points="330.1,231.5 331.4,232.0 325.3,246.4" fill="#7aa593" opacity="0.5"/>
<polygon points="348.9,234.1 349.7,233.9 352.3,244.8" fill="#7aa593" opacity="0.5"/>
<polygon points="324.4,198.6 324.1,199.4 288.5,188.3" fill="#6e9888" opacity="0.5"/>
<polygon points="362.3,209.8 362.5,209.1 394.3,217.5" fill="#5d8576" opacity="0.5"/>
<polygon points="348.3,221.1 349.2,220.7 362.5,250.8" fill="#5d8576" opacity="0.5"/>
<polygon points="324.8,229.1 325.8,229.7 311.6,251.6" fill="#7aa593" opacity="0.5"/>
<polygon points="363.2,222.0 364.0,221.0 378.8,233.3" fill="#5d8576" opacity="0.5"/>
<polygon points="332.7,233.5 333.5,233.7 330.2,244.5" fill="#6e9888" opacity="0.5"/>
<polygon points="314.4,220.0 315.2,221.2 299.5,230.2" fill="#7aa593" opacity="0.5"/>
<polygon points="347.1,228.6 348.0,228.4 352.0,245.4" fill="#4f7467" opacity="0.5"/>
<polygon points="329.7,215.1 330.7,216.0 302.0,245.8" fill="#5d8576" opacity="0.5"/>
<polygon points="351.4,190.2 350.7,189.7 374.2,157.4" fill="#7aa593" opacity="0.5"/>
<polygon points="357.3,205.2 357.4,204.2 397.0,206.5" fill="#5d8576" opacity="0.5"/>
<polygon points="321.7,224.0 322.4,224.7 304.0,243.8" fill="#4f7467" opacity="0.5"/>
<polygon points="356.3,205.4 356.3,204.0 401.6,206.8" fill="#6e9888" opacity="0.5"/>
<polygon points="334.1,214.2 335.1,214.8 320.6,237.5" fill="#4f7467" opacity="0.5"/>
<polygon points="357.8,206.2 357.9,205.2 384.3,208.4" fill="#6e9888" opacity="0.5"/>
<polygon points="321.3,220.5 322.0,221.4 307.8,233.0" fill="#6e9888" opacity="0.5"/>
<polygon points="338.9,225.7 339.8,225.8 337.9,246.1" fill="#7aa593" opacity="0.5"/>
<polygon points="354.2,208.8 354.6,207.4 384.6,217.3" fill="#4f7467" opacity="0.5"/>
<polygon points="352.2,226.5 353.1,226.0 360.5,241.3" fill="#6e9888" opacity="0.5"/>
<polygon points="320.2,219.0 320.9,219.8 299.6,235.2" fill="#4f7467" opacity="0.5"/>
<polygon points="332.7,216.6 333.5,217.0 314.2,247.6" fill="#4f7467" opacity="0.5"/>
<polygon points="333.2,233.3 334.4,233.6 331.7,242.0" fill="#4f7467" opacity="0.5"/>
<polygon points="317.2,187.5 316.6,188.4 293.7,172.5" fill="#5d8576" opacity="0.5"/>
<polygon points="333.7,194.7 332.7,195.7 314.5,174.2" fill="#7aa593" opacity="0.5"/>
<polygon points="328.9,219.7 329.6,220.2 306.8,250.5" fill="#6e9888" opacity="0.5"/>
<polygon points="339.1,182.6 337.6,182.8 333.9,147.5" fill="#4f7467" opacity="0.5"/>
<polygon points="365.4,207.7 365.6,206.6 380.8,209.2" fill="#7aa593" opacity="0.5"/>
<polygon points="352.2,217.3 353.3,216.3 368.8,234.4" fill="#7aa593" opacity="0.5"/>
<polygon points="326.1,195.3 325.5,196.3 300.6,182.2" fill="#4f7467" opacity="0.5"/>
<polygon points="348.2,181.5 347.2,181.2 353.9,160.3" fill="#5d8576" opacity="0.5"/>
<polygon points="343.6,213.9 344.4,213.7 358.3,260.1" fill="#5d8576" opacity="0.5"/>
<polygon points="328.2,220.5 329.2,221.3 309.6,247.2" fill="#5d8576" opacity="0.5"/>
<polygon points="352.6,208.4 353.0,207.3 393.0,221.0" fill="#7aa593" opacity="0.5"/>
<polygon points="323.9,218.9 324.6,219.8 301.1,240.5" fill="#5d8576" opacity="0.5"/>
<polygon points="336.4,215.2 337.1,215.4 326.6,241.9" fill="#4f7467" opacity="0.5"/>
<polygon points="351.8,221.6 352.5,221.1 364.9,241.3" fill="#5d8576" opacity="0.5"/>
<polygon points="326.9,199.3 326.6,200.6 301.0,192.7" fill="#6e9888" opacity="0.5"/>
<polygon points="331.1,234.2 331.8,234.4 329.1,241.8" fill="#6e9888" opacity="0.5"/>
<polygon points="320.9,219.2 321.5,219.8 302.8,233.9" fill="#6e9888" opacity="0.5"/>
<polygon points="341.9,214.7 343.4,214.5 349.6,259.1" fill="#4f7467" opacity="0.5"/>
<polygon points="316.5,220.2 317.3,221.3 303.3,230.2" fill="#6e9888" opacity="0.5"/>
<polygon points="355.8,194.4 355.0,193.3 374.3,180.5" fill="#5d8576" opacity="0.5"/>
<polygon points="332.5,233.1 333.3,233.3 330.6,241.5" fill="#7aa593" opacity="0.5"/>
<polygon points="361.5,206.6 361.7,205.1 390.3,208.5" fill="#4f7467" opacity="0.5"/>
<polygon points="350.3,208.3 350.6,207.6 396.6,227.0" fill="#7aa593" opacity="0.5"/>
<polygon points="325.9,194.8 325.2,195.9 304.2,183.4" fill="#7aa593" opacity="0.5"/>
<polygon points="365.8,187.0 365.4,186.4 387.5,171.3" fill="#7aa593" opacity="0.5"/>
<polygon points="339.3,217.9 340.3,217.9 336.1,261.5" fill="#7aa593" opacity="0.5"/>
<polygon points="335.8,233.3 337.2,233.5 335.0,243.2" fill="#6e9888" opacity="0.5"/>
<polygon points="333.9,214.1 334.7,214.6 307.6,255.8" fill="#5d8576" opacity="0.5"/>
<polygon points="346.6,220.9 347.5,220.6 354.4,241.3" fill="#6e9888" opacity="0.5"/>
<polygon points="355.6,213.5 356.2,212.3 390.0,233.3" fill="#6e9888" opacity="0.5"/>
<polygon points="353.8,208.6 354.1,207.6 385.3,218.0" fill="#5d8576" opacity="0.5"/>
<polygon points="356.6,227.6 357.6,226.9 363.7,236.9" fill="#7aa593" opacity="0.5"/>
<line x1="342.9" y1="203.3" x2="365.4" y2="196.0" stroke="#3e5c52" stroke-width="0.7" opacity="0.55"/>
<line x1="339.1" y1="203.4" x2="321.6" y2="200.4" stroke="#3e5c52" stroke-width="0.5" opacity="0.55"/>
<line x1="340.2" y1="202.1" x2="334.0" y2="186.2" stroke="#3e5c52" stroke-width="0.8" opacity="0.55"/>
<line x1="339.5" y1="205.3" x2="323.1" y2="220.3" stroke="#3e5c52" stroke-width="0.8" opacity="0.55"/>
<line x1="341.2" y1="206.0" x2="343.1" y2="223.4" stroke="#3e5c52" stroke-width="0.7" opacity="0.55"/>
<line x1="342.7" y1="205.0" x2="353.9" y2="212.2" stroke="#3e5c52" stroke-width="0.8" opacity="0.55"/>
<line x1="341.4" y1="202.0" x2="344.8" y2="182.8" stroke="#3e5c52" stroke-width="0.6" opacity="0.55"/>
<line x1="339.1" y1="203.5" x2="325.2" y2="199.9" stroke="#3e5c52" stroke-width="0.9" opacity="0.55"/>
<line x1="342.5" y1="202.7" x2="351.4" y2="194.8" stroke="#3e5c52" stroke-width="0.8" opacity="0.55"/>
<line x1="339.1" y1="204.7" x2="320.1" y2="211.5" stroke="#3e5c52" stroke-width="0.7" opacity="0.55"/>
<line x1="342.7" y1="202.9" x2="353.0" y2="189.7" stroke="#3e5c52" stroke-width="0.5" opacity="0.55"/>
<line x1="342.8" y1="204.9" x2="355.9" y2="213.3" stroke="#3e5c52" stroke-width="0.8" opacity="0.55"/>
<line x1="339.2" y1="203.0" x2="316.9" y2="196.7" stroke="#3e5c52" stroke-width="0.6" opacity="0.55"/>
<line x1="339.2" y1="203.1" x2="321.8" y2="193.6" stroke="#3e5c52" stroke-width="0.7" opacity="0.55"/>
<line x1="342.6" y1="205.2" x2="360.8" y2="218.6" stroke="#3e5c52" stroke-width="0.4" opacity="0.55"/>
<line x1="341.8" y1="202.2" x2="345.7" y2="182.8" stroke="#3e5c52" stroke-width="0.7" opacity="0.55"/>
<line x1="340.4" y1="205.9" x2="337.1" y2="219.4" stroke="#3e5c52" stroke-width="0.7" opacity="0.55"/>
<line x1="339.0" y1="203.6" x2="316.5" y2="200.9" stroke="#3e5c52" stroke-width="0.7" opacity="0.55"/>
<line x1="340.3" y1="205.9" x2="336.8" y2="218.2" stroke="#3e5c52" stroke-width="0.5" opacity="0.55"/>
<line x1="342.1" y1="205.7" x2="347.8" y2="227.3" stroke="#3e5c52" stroke-width="0.6" opacity="0.55"/>
<line x1="341.1" y1="202.0" x2="341.9" y2="183.8" stroke="#3e5c52" stroke-width="0.5" opacity="0.55"/>
<line x1="342.9" y1="203.3" x2="355.5" y2="194.7" stroke="#3e5c52" stroke-width="0.8" opacity="0.55"/>
<line x1="342.3" y1="202.5" x2="349.9" y2="183.0" stroke="#3e5c52" stroke-width="0.7" opacity="0.55"/>
<line x1="339.2" y1="203.0" x2="322.5" y2="194.9" stroke="#3e5c52" stroke-width="0.9" opacity="0.55"/>
<line x1="343.0" y1="203.8" x2="368.0" y2="202.3" stroke="#3e5c52" stroke-width="0.7" opacity="0.55"/>
<line x1="340.4" y1="202.1" x2="336.4" y2="179.0" stroke="#3e5c52" stroke-width="0.8" opacity="0.55"/>
<line x1="342.5" y1="205.4" x2="353.2" y2="219.7" stroke="#3e5c52" stroke-width="0.8" opacity="0.55"/>
<line x1="343.0" y1="204.0" x2="357.4" y2="203.7" stroke="#3e5c52" stroke-width="0.7" opacity="0.55"/>
<line x1="339.7" y1="205.5" x2="330.7" y2="214.4" stroke="#3e5c52" stroke-width="0.4" opacity="0.55"/>
<line x1="339.2" y1="204.8" x2="328.4" y2="210.5" stroke="#3e5c52" stroke-width="0.6" opacity="0.55"/>
<line x1="342.3" y1="205.5" x2="351.0" y2="216.1" stroke="#3e5c52" stroke-width="0.9" opacity="0.55"/>
<line x1="339.2" y1="204.9" x2="321.6" y2="213.5" stroke="#3e5c52" stroke-width="0.9" opacity="0.55"/>
<line x1="341.9" y1="202.2" x2="353.3" y2="181.0" stroke="#3e5c52" stroke-width="0.8" opacity="0.55"/>
<line x1="342.4" y1="202.6" x2="353.3" y2="188.7" stroke="#3e5c52" stroke-width="0.6" opacity="0.55"/>
<line x1="342.8" y1="203.1" x2="355.5" y2="191.4" stroke="#3e5c52" stroke-width="0.5" opacity="0.55"/>
<line x1="339.9" y1="205.7" x2="328.2" y2="221.9" stroke="#3e5c52" stroke-width="0.5" opacity="0.55"/>
<line x1="342.4" y1="205.4" x2="359.1" y2="215.0" stroke="#3e5c52" stroke-width="0.7" opacity="0.55"/>
<line x1="342.0" y1="202.3" x2="351.3" y2="187.3" stroke="#3e5c52" stroke-width="0.5" opacity="0.55"/>
<line x1="342.8" y1="203.2" x2="360.9" y2="195.1" stroke="#3e5c52" stroke-width="0.6" opacity="0.55"/>
<line x1="340.5" y1="202.1" x2="336.7" y2="189.6" stroke="#3e5c52" stroke-width="0.6" opacity="0.55"/>
<line x1="341.1" y1="202.0" x2="342.9" y2="183.8" stroke="#3e5c52" stroke-width="0.7" opacity="0.55"/>
<line x1="342.8" y1="203.2" x2="361.5" y2="193.0" stroke="#3e5c52" stroke-width="0.5" opacity="0.55"/>
<line x1="342.4" y1="202.6" x2="357.7" y2="188.8" stroke="#3e5c52" stroke-width="0.7" opacity="0.55"/>
<line x1="342.0" y1="205.7" x2="347.1" y2="214.9" stroke="#3e5c52" stroke-width="0.8" opacity="0.55"/>
<line x1="339.4" y1="205.2" x2="323.7" y2="215.4" stroke="#3e5c52" stroke-width="0.8" opacity="0.55"/>
<line x1="340.8" y1="202.0" x2="339.5" y2="181.9" stroke="#3e5c52" stroke-width="0.5" opacity="0.55"/>
<line x1="342.9" y1="203.3" x2="354.6" y2="194.7" stroke="#3e5c52" stroke-width="0.7" opacity="0.55"/>
<line x1="342.2" y1="205.6" x2="357.7" y2="216.1" stroke="#3e5c52" stroke-width="0.7" opacity="0.55"/>
<line x1="340.9" y1="206.0" x2="340.1" y2="228.6" stroke="#3e5c52" stroke-width="0.8" opacity="0.55"/>
<line x1="342.6" y1="202.7" x2="358.7" y2="190.0" stroke="#3e5c52" stroke-width="0.5" opacity="0.55"/>
<line x1="343.0" y1="204.0" x2="358.2" y2="203.7" stroke="#3e5c52" stroke-width="0.4" opacity="0.55"/>
<line x1="340.2" y1="205.8" x2="332.8" y2="221.9" stroke="#3e5c52" stroke-width="0.6" opacity="0.55"/>
<line x1="339.5" y1="205.3" x2="331.9" y2="219.0" stroke="#3e5c52" stroke-width="0.6" opacity="0.55"/>
<line x1="342.5" y1="205.3" x2="354.6" y2="218.8" stroke="#3e5c52" stroke-width="0.8" opacity="0.55"/>
<line x1="339.3" y1="205.0" x2="329.0" y2="215.1" stroke="#3e5c52" stroke-width="0.7" opacity="0.55"/>
<line x1="339.0" y1="204.2" x2="313.6" y2="205.8" stroke="#3e5c52" stroke-width="0.7" opacity="0.55"/>
<line x1="343.0" y1="204.4" x2="354.9" y2="206.8" stroke="#3e5c52" stroke-width="0.5" opacity="0.55"/>
<line x1="341.9" y1="205.8" x2="347.3" y2="227.8" stroke="#3e5c52" stroke-width="0.7" opacity="0.55"/>
<line x1="339.0" y1="204.1" x2="320.1" y2="205.1" stroke="#3e5c52" stroke-width="0.8" opacity="0.55"/>
<line x1="340.8" y1="202.0" x2="339.3" y2="191.7" stroke="#3e5c52" stroke-width="0.4" opacity="0.55"/>
<polygon points="377.8,212.9 378.0,211.8 390.1,215.1" fill="#4a5f57" opacity="0.7"/>
<polygon points="298.8,216.8 299.2,218.1 289.0,220.6" fill="#3c4e47" opacity="0.7"/>
<polygon points="382.3,191.6 382.1,190.7 391.2,188.4" fill="#3c4e47" opacity="0.7"/>
<polygon points="373.6,177.3 372.8,176.3 383.4,168.2" fill="#3c4e47" opacity="0.7"/>
<polygon points="298.8,215.0 299.1,215.9 283.3,219.7" fill="#4a5f57" opacity="0.7"/>
<polygon points="323.6,239.1 324.5,239.5 318.3,251.4" fill="#4a5f57" opacity="0.7"/>
<polygon points="344.6,247.8 345.7,247.7 345.9,255.8" fill="#4a5f57" opacity="0.7"/>
<polygon points="327.2,240.5 328.1,240.8 322.7,254.4" fill="#3c4e47" opacity="0.7"/>
<polygon points="306.1,177.2 305.3,178.3 295.0,169.8" fill="#56706a" opacity="0.7"/>
<polygon points="373.6,233.6 374.2,232.9 385.2,243.3" fill="#3c4e47" opacity="0.7"/>
<polygon points="367.7,231.8 368.5,230.9 377.8,241.1" fill="#3c4e47" opacity="0.7"/>
<polygon points="370.9,225.3 371.4,224.6 383.6,233.6" fill="#56706a" opacity="0.7"/>
<polygon points="369.5,242.4 370.6,241.6 376.6,250.5" fill="#56706a" opacity="0.7"/>
<polygon points="321.7,240.5 323.0,241.1 317.5,250.5" fill="#4a5f57" opacity="0.7"/>
<polygon points="383.9,214.8 384.0,214.0 400.0,218.3" fill="#56706a" opacity="0.7"/>
<polygon points="349.4,241.8 350.8,241.5 353.6,256.2" fill="#56706a" opacity="0.7"/>
<polygon points="353.8,235.6 354.7,235.2 361.0,251.4" fill="#3c4e47" opacity="0.7"/>
<polygon points="305.6,225.2 306.0,225.9 298.1,230.3" fill="#56706a" opacity="0.7"/>
<polygon points="309.4,172.8 308.6,173.6 298.0,162.6" fill="#56706a" opacity="0.7"/>
<polygon points="309.9,187.9 309.3,189.1 294.5,181.1" fill="#3c4e47" opacity="0.7"/>
<polygon points="370.1,234.6 370.7,233.9 376.8,240.8" fill="#3c4e47" opacity="0.7"/>
<polygon points="294.0,192.1 293.8,193.0 281.9,189.6" fill="#56706a" opacity="0.7"/>
<polygon points="300.4,206.2 300.4,207.4 289.8,207.6" fill="#3c4e47" opacity="0.7"/>
<polygon points="382.8,215.5 383.2,214.1 391.9,217.1" fill="#56706a" opacity="0.7"/>
<polygon points="318.2,241.2 319.0,241.6 310.4,255.1" fill="#3c4e47" opacity="0.7"/>
<polygon points="365.4,238.6 366.5,237.8 373.2,248.0" fill="#56706a" opacity="0.7"/>
<polygon points="302.4,193.8 302.2,194.7 288.3,190.7" fill="#56706a" opacity="0.7"/>
<polygon points="377.3,223.6 377.8,222.5 391.6,230.4" fill="#3c4e47" opacity="0.7"/>
<polygon points="299.8,190.1 299.4,191.1 290.9,187.8" fill="#3c4e47" opacity="0.7"/>
<polygon points="344.8,244.8 345.6,244.7 346.9,261.6" fill="#56706a" opacity="0.7"/>
<polygon points="353.8,157.2 352.6,156.9 355.5,148.3" fill="#56706a" opacity="0.7"/>
<polygon points="323.1,242.7 324.0,243.1 317.6,256.0" fill="#4a5f57" opacity="0.7"/>
<polygon points="302.6,226.2 303.3,227.5 288.8,235.3" fill="#56706a" opacity="0.7"/>
<polygon points="306.0,200.7 305.9,202.0 290.8,200.2" fill="#4a5f57" opacity="0.7"/>
<polygon points="301.3,196.0 301.0,197.3 285.5,193.8" fill="#4a5f57" opacity="0.7"/>
<polygon points="325.3,238.8 326.5,239.2 319.9,252.8" fill="#4a5f57" opacity="0.7"/>
<polygon points="307.4,191.0 307.0,192.0 293.8,186.6" fill="#3c4e47" opacity="0.7"/>
<polygon points="353.5,252.7 354.7,252.4 356.3,260.9" fill="#3c4e47" opacity="0.7"/>
<polygon points="310.0,241.3 311.1,242.1 305.3,248.2" fill="#56706a" opacity="0.7"/>
<polygon points="307.4,196.7 307.1,197.8 289.6,193.7" fill="#56706a" opacity="0.7"/>
<polygon points="295.1,190.0 294.8,191.0 283.1,187.0" fill="#4a5f57" opacity="0.7"/>
<polygon points="292.7,204.6 292.8,205.5 282.6,205.3" fill="#3c4e47" opacity="0.7"/>
<polygon points="353.7,244.9 354.5,244.7 358.4,258.4" fill="#4a5f57" opacity="0.7"/>
<polygon points="304.8,205.6 304.9,207.1 289.6,207.4" fill="#4a5f57" opacity="0.7"/>
<polygon points="313.8,223.4 314.6,224.5 300.7,233.9" fill="#56706a" opacity="0.7"/>
<polygon points="387.7,218.4 388.1,217.2 396.9,220.4" fill="#4a5f57" opacity="0.7"/>
<polygon points="297.1,219.7 297.4,220.5 286.4,224.1" fill="#4a5f57" opacity="0.7"/>
<polygon points="372.9,185.2 372.2,184.1 386.0,176.4" fill="#3c4e47" opacity="0.7"/>
<polygon points="315.3,242.2 316.0,242.7 308.4,253.4" fill="#4a5f57" opacity="0.7"/>
<polygon points="381.2,224.5 381.6,223.7 394.1,230.4" fill="#3c4e47" opacity="0.7"/>
<polygon points="387.7,225.1 388.2,223.8 396.4,228.1" fill="#3c4e47" opacity="0.7"/>
<polygon points="311.9,231.2 312.7,232.1 300.3,243.2" fill="#56706a" opacity="0.7"/>
<polygon points="298.4,221.3 298.9,222.5 287.8,226.5" fill="#56706a" opacity="0.7"/>
<polygon points="314.3,175.3 313.3,176.3 305.1,166.8" fill="#3c4e47" opacity="0.7"/>
<polygon points="307.1,235.3 308.0,236.3 296.8,246.0" fill="#56706a" opacity="0.7"/>
<polygon points="317.3,174.7 316.5,175.4 305.8,161.7" fill="#56706a" opacity="0.7"/>
<polygon points="308.1,215.4 308.4,216.1 291.6,221.7" fill="#56706a" opacity="0.7"/>
<polygon points="371.9,176.7 371.2,175.9 382.1,166.7" fill="#3c4e47" opacity="0.7"/>
<polygon points="313.4,238.8 314.2,239.4 306.6,248.5" fill="#3c4e47" opacity="0.7"/>
<polygon points="304.3,216.4 304.6,217.2 292.4,221.0" fill="#3c4e47" opacity="0.7"/>
<polygon points="300.6,188.5 300.2,189.5 291.6,185.8" fill="#3c4e47" opacity="0.7"/>
<polygon points="378.6,186.9 378.2,186.1 390.3,180.9" fill="#56706a" opacity="0.7"/>
<polygon points="367.9,235.6 368.7,234.8 379.3,247.8" fill="#4a5f57" opacity="0.7"/>
<polygon points="309.1,191.1 308.8,192.1 292.9,185.4" fill="#56706a" opacity="0.7"/>
<polygon points="338.5,252.2 339.5,252.2 338.5,263.3" fill="#56706a" opacity="0.7"/>
<polygon points="342.1,159.9 341.0,159.8 341.7,147.1" fill="#4a5f57" opacity="0.7"/>
<polygon points="313.9,243.9 314.7,244.5 309.0,252.3" fill="#56706a" opacity="0.7"/>
<polygon points="326.8,236.2 327.8,236.6 320.8,251.7" fill="#4a5f57" opacity="0.7"/>
<polygon points="386.0,226.4 386.6,225.2 393.9,229.5" fill="#3c4e47" opacity="0.7"/>
<polygon points="333.5,245.5 334.9,245.7 331.4,262.9" fill="#56706a" opacity="0.7"/>
<polygon points="298.4,207.3 298.5,208.6 283.2,209.4" fill="#3c4e47" opacity="0.7"/>
<polygon points="305.1,186.7 304.7,187.7 292.3,181.3" fill="#56706a" opacity="0.7"/>
<polygon points="329.3,247.4 330.4,247.7 327.1,258.4" fill="#56706a" opacity="0.7"/>
<polygon points="298.3,217.6 298.7,218.9 285.3,222.7" fill="#56706a" opacity="0.7"/>
<polygon points="334.6,250.2 335.8,250.4 334.1,259.4" fill="#3c4e47" opacity="0.7"/>
<polygon points="322.5,246.4 323.6,246.9 318.1,258.3" fill="#4a5f57" opacity="0.7"/>
<polygon points="349.1,246.5 350.3,246.2 352.6,260.3" fill="#4a5f57" opacity="0.7"/>
<polygon points="320.3,238.6 321.3,239.2 312.5,253.3" fill="#4a5f57" opacity="0.7"/>
<polygon points="329.7,160.9 328.9,161.1 325.9,148.3" fill="#4a5f57" opacity="0.7"/>
<polygon points="304.8,212.7 305.1,213.8 288.6,217.5" fill="#4a5f57" opacity="0.7"/>
<polygon points="302.2,193.8 301.9,195.0 284.8,190.1" fill="#4a5f57" opacity="0.7"/>
<polygon points="361.3,239.5 362.6,238.8 367.0,247.7" fill="#3c4e47" opacity="0.7"/>
<polygon points="296.3,199.6 296.2,200.7 282.3,199.0" fill="#56706a" opacity="0.7"/>
<polygon points="303.2,193.7 303.0,194.5 288.1,190.2" fill="#56706a" opacity="0.7"/>
<polygon points="322.3,235.3 323.2,235.8 314.2,250.3" fill="#56706a" opacity="0.7"/>
<polygon points="336.3,244.6 337.5,244.7 335.8,256.2" fill="#56706a" opacity="0.7"/>
<polygon points="382.0,229.7 382.6,228.7 389.2,233.5" fill="#3c4e47" opacity="0.7"/>
<polygon points="348.7,241.9 349.6,241.7 351.9,254.4" fill="#4a5f57" opacity="0.7"/>
<polygon points="317.9,239.6 319.0,240.3 310.7,252.2" fill="#3c4e47" opacity="0.7"/>
<polygon points="305.5,199.8 305.4,201.3 288.1,198.9" fill="#3c4e47" opacity="0.7"/>
<polygon points="388.0,192.6 387.7,191.4 396.7,189.7" fill="#3c4e47" opacity="0.7"/>
<polygon points="374.0,218.7 374.4,217.8 388.6,224.4" fill="#4a5f57" opacity="0.7"/>
<polygon points="296.6,206.4 296.7,207.7 284.6,207.8" fill="#56706a" opacity="0.7"/>
<polygon points="304.7,235.9 305.3,236.6 296.4,244.0" fill="#4a5f57" opacity="0.7"/>
<polygon points="296.4,219.3 296.8,220.5 287.8,223.0" fill="#56706a" opacity="0.7"/>
<polygon points="378.3,212.6 378.6,211.1 395.0,215.3" fill="#56706a" opacity="0.7"/>
<polygon points="379.6,184.9 379.1,184.0 387.5,180.3" fill="#56706a" opacity="0.7"/>
<polygon points="343.3,241.2 344.6,241.1 345.1,255.7" fill="#56706a" opacity="0.7"/>
<polygon points="379.1,197.8 378.9,196.8 394.3,194.6" fill="#56706a" opacity="0.7"/>
<polygon points="352.4,240.9 353.4,240.5 357.5,254.8" fill="#3c4e47" opacity="0.7"/>
<polygon points="320.7,241.1 321.8,241.7 313.1,256.8" fill="#4a5f57" opacity="0.7"/>
<polygon points="380.8,224.0 381.1,223.2 391.8,228.9" fill="#4a5f57" opacity="0.7"/>
<polygon points="340.0,246.4 341.3,246.4 340.6,255.8" fill="#4a5f57" opacity="0.7"/>
<polygon points="293.5,222.1 293.8,223.0 286.1,225.5" fill="#4a5f57" opacity="0.7"/>
<polygon points="362.9,248.2 363.9,247.7 367.3,255.8" fill="#56706a" opacity="0.7"/>
<polygon points="361.7,244.4 362.6,243.9 368.7,256.6" fill="#56706a" opacity="0.7"/>
<polygon points="302.8,196.8 302.6,197.8 288.8,194.9" fill="#3c4e47" opacity="0.7"/>
<polygon points="374.6,179.1 373.8,178.0 387.6,168.3" fill="#3c4e47" opacity="0.7"/>
<polygon points="314.1,173.6 313.4,174.3 302.0,161.0" fill="#3c4e47" opacity="0.7"/>
<polygon points="381.5,216.1 381.8,215.1 396.7,219.9" fill="#4a5f57" opacity="0.7"/>
<polygon points="297.1,207.2 297.2,208.3 289.1,208.4" fill="#56706a" opacity="0.7"/>
<polygon points="381.1,218.8 381.5,217.6 393.0,222.3" fill="#4a5f57" opacity="0.7"/>
<polygon points="323.9,236.0 325.1,236.6 316.8,251.5" fill="#3c4e47" opacity="0.7"/>
<polygon points="314.8,230.0 315.6,230.8 303.1,242.8" fill="#3c4e47" opacity="0.7"/>
<polygon points="321.4,238.7 322.4,239.2 315.2,251.2" fill="#3c4e47" opacity="0.7"/>
<polygon points="386.3,224.0 386.7,223.1 396.9,228.0" fill="#3c4e47" opacity="0.7"/>
<polygon points="374.3,228.4 375.2,227.2 386.7,236.2" fill="#4a5f57" opacity="0.7"/>
<polygon points="304.0,226.4 304.6,227.3 290.8,235.2" fill="#3c4e47" opacity="0.7"/>
<polygon points="351.3,255.4 352.1,255.2 353.4,263.5" fill="#56706a" opacity="0.7"/>
<polygon points="295.6,203.5 295.6,204.9 280.7,204.3" fill="#3c4e47" opacity="0.7"/>
<polygon points="380.7,221.1 381.1,220.2 391.7,225.2" fill="#56706a" opacity="0.7"/>
<polygon points="354.6,236.8 355.6,236.4 361.6,251.7" fill="#3c4e47" opacity="0.7"/>
<polygon points="303.1,184.1 302.6,185.2 287.7,177.0" fill="#56706a" opacity="0.7"/>
<polygon points="359.6,175.6 358.4,174.9 368.2,160.6" fill="#3c4e47" opacity="0.7"/>
<polygon points="324.7,246.5 325.6,246.8 321.3,257.1" fill="#56706a" opacity="0.7"/>
<polygon points="331.5,250.4 332.5,250.6 329.8,261.6" fill="#3c4e47" opacity="0.7"/>
<polygon points="313.0,179.0 312.5,179.6 302.7,170.5" fill="#3c4e47" opacity="0.7"/>
<polygon points="317.1,248.0 317.8,248.4 312.5,257.6" fill="#3c4e47" opacity="0.7"/>
<polygon points="314.5,181.7 313.8,182.6 301.5,171.9" fill="#3c4e47" opacity="0.7"/>
<polygon points="309.5,235.0 310.2,235.7 303.1,242.1" fill="#3c4e47" opacity="0.7"/>
<polygon points="372.8,181.4 372.2,180.7 384.2,172.6" fill="#3c4e47" opacity="0.7"/>
<polygon points="377.1,229.4 377.6,228.6 388.1,236.4" fill="#3c4e47" opacity="0.7"/>
<polygon points="377.6,232.1 378.1,231.4 384.4,236.7" fill="#3c4e47" opacity="0.7"/>
<polygon points="299.1,223.1 299.4,223.8 288.6,228.4" fill="#3c4e47" opacity="0.7"/>
<polygon points="358.5,170.9 357.3,170.3 364.7,157.2" fill="#56706a" opacity="0.7"/>
<polygon points="363.7,178.5 362.8,177.8 374.5,165.1" fill="#56706a" opacity="0.7"/>
<polygon points="317.1,245.2 318.3,245.8 313.3,253.4" fill="#4a5f57" opacity="0.7"/>
<polygon points="374.3,186.7 373.6,185.5 388.0,178.4" fill="#4a5f57" opacity="0.7"/>
<polygon points="360.3,235.4 361.3,234.8 368.7,247.5" fill="#4a5f57" opacity="0.7"/>
<polygon points="305.9,223.5 306.4,224.5 293.9,231.0" fill="#3c4e47" opacity="0.7"/>
<polygon points="303.1,192.9 302.8,194.0 291.0,190.2" fill="#56706a" opacity="0.7"/>
<polygon points="294.2,209.3 294.3,210.4 283.5,211.2" fill="#4a5f57" opacity="0.7"/>
<polygon points="346.3,163.7 344.9,163.5 347.3,148.5" fill="#3c4e47" opacity="0.7"/>
<polygon points="352.9,246.6 353.7,246.4 357.9,262.4" fill="#3c4e47" opacity="0.7"/>
<polygon points="324.2,244.7 325.4,245.2 321.6,253.2" fill="#3c4e47" opacity="0.7"/>
<polygon points="310.3,233.8 311.0,234.5 299.8,244.9" fill="#4a5f57" opacity="0.7"/>
<polygon points="339.4,156.2 338.0,156.3 338.2,145.9" fill="#56706a" opacity="0.7"/>
<polygon points="367.5,244.1 368.7,243.2 375.4,254.3" fill="#4a5f57" opacity="0.7"/>
<polygon points="322.8,238.2 323.8,238.7 318.1,248.6" fill="#4a5f57" opacity="0.7"/>
<polygon points="328.3,170.8 327.4,171.1 321.7,155.4" fill="#4a5f57" opacity="0.7"/>
<circle cx="341" cy="204" r="2.2" fill="#1d2a26"/>
<path d="M341,201 Q350,185 348,171 Q346,162 346,155" fill="none" stroke="#1a1a1a" stroke-width="1.4" stroke-linecap="round"/>
<path d="M342,203 Q352,192 360,188.6 Q372,184 384.7,179.8" fill="none" stroke="#1a1a1a" stroke-width="1.4" stroke-linecap="round"/>
<path d="M339,205 Q330,207 321.6,208.5 Q306,213 295.3,220" fill="none" stroke="#1a1a1a" stroke-width="1.4" stroke-linecap="round"/>
<path d="M295.3,178.8 Q312,183 325,195.6" fill="none" stroke="#2a2a2a" stroke-width="3.8" stroke-linecap="round"/>
<path d="M295.3,178.8 Q312,183 325,195.6" fill="none" stroke="#f6dcdf" stroke-width="2.2" stroke-linecap="round"/>
<path d="M347,206 Q355,207.5 358.4,210 Q370,220 384.7,225.4" fill="none" stroke="#2a2a2a" stroke-width="3.8" stroke-linecap="round"/>
<path d="M347,206 Q355,207.5 358.4,210 Q370,220 384.7,225.4" fill="none" stroke="#f6dcdf" stroke-width="2.2" stroke-linecap="round"/>
<path d="M342.7,206 Q345.5,213 342.7,221 Q339,231 340.5,242 Q341.5,247 342.7,250.6" fill="none" stroke="#2a2a2a" stroke-width="3.8" stroke-linecap="round"/>
<path d="M342.7,206 Q345.5,213 342.7,221 Q339,231 340.5,242 Q341.5,247 342.7,250.6" fill="none" stroke="#f6dcdf" stroke-width="2.2" stroke-linecap="round"/>
<path d="M325,195.6 Q334,199 340,204" fill="none" stroke="#1a1a1a" stroke-width="1.6"/>
<path d="M341,205 Q344,206 347,206" fill="none" stroke="#1a1a1a" stroke-width="1.6"/>
<path d="M341,205 L341.6,209" fill="none" stroke="#1a1a1a" stroke-width="1.6"/>
<text x="312.5" y="175.5" font-size="10" text-anchor="start" font-weight="normal" fill="#15241f" style="font-family:'Liberation Sans',sans-serif" transform="rotate(32 312.5 175.5)">Na<tspan font-size="7" dy="-3">+</tspan></text>
<text x="370.5" y="212.5" font-size="10" text-anchor="start" font-weight="normal" fill="#15241f" style="font-family:'Liberation Sans',sans-serif" transform="rotate(35 370.5 212.5)">Na<tspan font-size="7" dy="-3">+</tspan></text>
<text x="345" y="230" font-size="10" text-anchor="start" font-weight="normal" fill="#15241f" style="font-family:'Liberation Sans',sans-serif" transform="rotate(90 345 230)">Na<tspan font-size="7" dy="-3">+</tspan></text>
<text x="350" y="165" font-size="9" text-anchor="start" font-weight="normal" fill="#1a1a1a" style="font-family:'Liberation Sans',sans-serif" >e<tspan font-size="6.5" dy="-3">-</tspan></text>
<text x="362" y="189" font-size="9" text-anchor="start" font-weight="normal" fill="#1a1a1a" style="font-family:'Liberation Sans',sans-serif" >e<tspan font-size="6.5" dy="-3">-</tspan></text>
<text x="304" y="211.5" font-size="9" text-anchor="start" font-weight="normal" fill="#1a1a1a" style="font-family:'Liberation Sans',sans-serif" >e<tspan font-size="6.5" dy="-3">-</tspan></text>
<text x="413.3" y="155.61" font-size="11" text-anchor="middle" font-weight="normal" fill="#1a1a1a" style="font-family:'Liberation Sans',sans-serif" stroke="#1a1a1a" stroke-width="0.35">(h)</text>
<path d="M428.4,200.611 L428.4,170.98 Q429.04949999999997,166.26999999999998 430.998,166.26999999999998 L523.66,166.26999999999998" fill="none" stroke="#3a3aa8" stroke-width="1"/>
<circle cx="429.3" cy="166.2" r="1.6" fill="none" stroke="#2a35a8" stroke-width="0.9"/>
<circle cx="429.9" cy="166.0" r="1.6" fill="none" stroke="#2a35a8" stroke-width="0.9"/>
<circle cx="430.6" cy="165.5" r="1.6" fill="none" stroke="#2a35a8" stroke-width="0.9"/>
<circle cx="431.2" cy="167.0" r="1.6" fill="none" stroke="#2a35a8" stroke-width="0.9"/>
<circle cx="431.9" cy="165.3" r="1.6" fill="none" stroke="#2a35a8" stroke-width="0.9"/>
<circle cx="432.5" cy="166.3" r="1.6" fill="none" stroke="#2a35a8" stroke-width="0.9"/>
<circle cx="433.2" cy="167.1" r="1.6" fill="none" stroke="#2a35a8" stroke-width="0.9"/>
<circle cx="433.8" cy="165.4" r="1.6" fill="none" stroke="#2a35a8" stroke-width="0.9"/>
<circle cx="434.5" cy="166.4" r="1.6" fill="none" stroke="#2a35a8" stroke-width="0.9"/>
<circle cx="435.1" cy="166.5" r="1.6" fill="none" stroke="#2a35a8" stroke-width="0.9"/>
<circle cx="435.8" cy="165.4" r="1.6" fill="none" stroke="#2a35a8" stroke-width="0.9"/>
<circle cx="436.4" cy="166.0" r="1.6" fill="none" stroke="#2a35a8" stroke-width="0.9"/>
<circle cx="437.1" cy="166.7" r="1.6" fill="none" stroke="#2a35a8" stroke-width="0.9"/>
<circle cx="437.7" cy="166.2" r="1.6" fill="none" stroke="#2a35a8" stroke-width="0.9"/>
<circle cx="438.4" cy="166.7" r="1.6" fill="none" stroke="#2a35a8" stroke-width="0.9"/>
<circle cx="439.0" cy="165.6" r="1.6" fill="none" stroke="#2a35a8" stroke-width="0.9"/>
<circle cx="439.7" cy="165.7" r="1.6" fill="none" stroke="#2a35a8" stroke-width="0.9"/>
<circle cx="440.3" cy="165.5" r="1.6" fill="none" stroke="#2a35a8" stroke-width="0.9"/>
<circle cx="441.0" cy="166.3" r="1.6" fill="none" stroke="#2a35a8" stroke-width="0.9"/>
<circle cx="441.6" cy="167.1" r="1.6" fill="none" stroke="#2a35a8" stroke-width="0.9"/>
<circle cx="442.3" cy="166.5" r="1.6" fill="none" stroke="#2a35a8" stroke-width="0.9"/>
<circle cx="442.9" cy="166.8" r="1.6" fill="none" stroke="#2a35a8" stroke-width="0.9"/>
<circle cx="443.6" cy="166.0" r="1.6" fill="none" stroke="#2a35a8" stroke-width="0.9"/>
<circle cx="444.2" cy="166.8" r="1.6" fill="none" stroke="#2a35a8" stroke-width="0.9"/>
<circle cx="444.9" cy="165.5" r="1.6" fill="none" stroke="#2a35a8" stroke-width="0.9"/>
<circle cx="445.5" cy="165.9" r="1.6" fill="none" stroke="#2a35a8" stroke-width="0.9"/>
<circle cx="446.2" cy="166.6" r="1.6" fill="none" stroke="#2a35a8" stroke-width="0.9"/>
<circle cx="446.8" cy="166.7" r="1.6" fill="none" stroke="#2a35a8" stroke-width="0.9"/>
<circle cx="447.5" cy="166.1" r="1.6" fill="none" stroke="#2a35a8" stroke-width="0.9"/>
<circle cx="448.1" cy="165.4" r="1.6" fill="none" stroke="#2a35a8" stroke-width="0.9"/>
<circle cx="448.8" cy="165.8" r="1.6" fill="none" stroke="#2a35a8" stroke-width="0.9"/>
<circle cx="449.4" cy="165.7" r="1.6" fill="none" stroke="#2a35a8" stroke-width="0.9"/>
<circle cx="450.0" cy="165.8" r="1.6" fill="none" stroke="#2a35a8" stroke-width="0.9"/>
<circle cx="450.7" cy="166.9" r="1.6" fill="none" stroke="#2a35a8" stroke-width="0.9"/>
<circle cx="451.3" cy="165.7" r="1.6" fill="none" stroke="#2a35a8" stroke-width="0.9"/>
<circle cx="452.0" cy="167.0" r="1.6" fill="none" stroke="#2a35a8" stroke-width="0.9"/>
<circle cx="452.6" cy="167.0" r="1.6" fill="none" stroke="#2a35a8" stroke-width="0.9"/>
<circle cx="453.3" cy="165.4" r="1.6" fill="none" stroke="#2a35a8" stroke-width="0.9"/>
<circle cx="453.9" cy="166.0" r="1.6" fill="none" stroke="#2a35a8" stroke-width="0.9"/>
<circle cx="454.6" cy="166.3" r="1.6" fill="none" stroke="#2a35a8" stroke-width="0.9"/>
<circle cx="455.2" cy="165.3" r="1.6" fill="none" stroke="#2a35a8" stroke-width="0.9"/>
<circle cx="455.9" cy="166.1" r="1.6" fill="none" stroke="#2a35a8" stroke-width="0.9"/>
<circle cx="456.5" cy="167.1" r="1.6" fill="none" stroke="#2a35a8" stroke-width="0.9"/>
<circle cx="457.2" cy="165.5" r="1.6" fill="none" stroke="#2a35a8" stroke-width="0.9"/>
<circle cx="457.8" cy="166.5" r="1.6" fill="none" stroke="#2a35a8" stroke-width="0.9"/>
<circle cx="458.5" cy="165.5" r="1.6" fill="none" stroke="#2a35a8" stroke-width="0.9"/>
<circle cx="459.1" cy="166.4" r="1.6" fill="none" stroke="#2a35a8" stroke-width="0.9"/>
<circle cx="459.8" cy="167.1" r="1.6" fill="none" stroke="#2a35a8" stroke-width="0.9"/>
<circle cx="460.4" cy="165.7" r="1.6" fill="none" stroke="#2a35a8" stroke-width="0.9"/>
<circle cx="461.1" cy="165.3" r="1.6" fill="none" stroke="#2a35a8" stroke-width="0.9"/>
<circle cx="461.7" cy="165.4" r="1.6" fill="none" stroke="#2a35a8" stroke-width="0.9"/>
<circle cx="462.4" cy="166.3" r="1.6" fill="none" stroke="#2a35a8" stroke-width="0.9"/>
<circle cx="463.0" cy="165.3" r="1.6" fill="none" stroke="#2a35a8" stroke-width="0.9"/>
<circle cx="463.7" cy="165.4" r="1.6" fill="none" stroke="#2a35a8" stroke-width="0.9"/>
<circle cx="464.3" cy="166.3" r="1.6" fill="none" stroke="#2a35a8" stroke-width="0.9"/>
<circle cx="465.0" cy="167.1" r="1.6" fill="none" stroke="#2a35a8" stroke-width="0.9"/>
<circle cx="465.6" cy="166.1" r="1.6" fill="none" stroke="#2a35a8" stroke-width="0.9"/>
<circle cx="466.3" cy="166.1" r="1.6" fill="none" stroke="#2a35a8" stroke-width="0.9"/>
<circle cx="466.9" cy="166.5" r="1.6" fill="none" stroke="#2a35a8" stroke-width="0.9"/>
<circle cx="467.6" cy="165.5" r="1.6" fill="none" stroke="#2a35a8" stroke-width="0.9"/>
<circle cx="468.2" cy="166.4" r="1.6" fill="none" stroke="#2a35a8" stroke-width="0.9"/>
<circle cx="468.9" cy="165.6" r="1.6" fill="none" stroke="#2a35a8" stroke-width="0.9"/>
<circle cx="469.5" cy="166.5" r="1.6" fill="none" stroke="#2a35a8" stroke-width="0.9"/>
<circle cx="470.2" cy="167.2" r="1.6" fill="none" stroke="#2a35a8" stroke-width="0.9"/>
<circle cx="470.8" cy="165.4" r="1.6" fill="none" stroke="#2a35a8" stroke-width="0.9"/>
<circle cx="471.5" cy="166.4" r="1.6" fill="none" stroke="#2a35a8" stroke-width="0.9"/>
<circle cx="472.1" cy="166.5" r="1.6" fill="none" stroke="#2a35a8" stroke-width="0.9"/>
<circle cx="472.8" cy="165.6" r="1.6" fill="none" stroke="#2a35a8" stroke-width="0.9"/>
<circle cx="473.4" cy="165.8" r="1.6" fill="none" stroke="#2a35a8" stroke-width="0.9"/>
<circle cx="474.1" cy="167.3" r="1.6" fill="none" stroke="#2a35a8" stroke-width="0.9"/>
<circle cx="474.7" cy="167.3" r="1.6" fill="none" stroke="#2a35a8" stroke-width="0.9"/>
<circle cx="475.4" cy="165.5" r="1.6" fill="none" stroke="#2a35a8" stroke-width="0.9"/>
<circle cx="476.0" cy="166.7" r="1.6" fill="none" stroke="#2a35a8" stroke-width="0.9"/>
<circle cx="476.7" cy="167.2" r="1.6" fill="none" stroke="#2a35a8" stroke-width="0.9"/>
<circle cx="477.3" cy="165.7" r="1.6" fill="none" stroke="#2a35a8" stroke-width="0.9"/>
<circle cx="478.0" cy="166.5" r="1.6" fill="none" stroke="#2a35a8" stroke-width="0.9"/>
<circle cx="478.6" cy="165.4" r="1.6" fill="none" stroke="#2a35a8" stroke-width="0.9"/>
<circle cx="479.3" cy="166.0" r="1.6" fill="none" stroke="#2a35a8" stroke-width="0.9"/>
<circle cx="479.9" cy="166.6" r="1.6" fill="none" stroke="#2a35a8" stroke-width="0.9"/>
<circle cx="480.6" cy="166.5" r="1.6" fill="none" stroke="#2a35a8" stroke-width="0.9"/>
<circle cx="481.2" cy="166.8" r="1.6" fill="none" stroke="#2a35a8" stroke-width="0.9"/>
<circle cx="481.9" cy="165.4" r="1.6" fill="none" stroke="#2a35a8" stroke-width="0.9"/>
<circle cx="482.5" cy="166.0" r="1.6" fill="none" stroke="#2a35a8" stroke-width="0.9"/>
<circle cx="483.2" cy="167.0" r="1.6" fill="none" stroke="#2a35a8" stroke-width="0.9"/>
<circle cx="483.8" cy="166.4" r="1.6" fill="none" stroke="#2a35a8" stroke-width="0.9"/>
<circle cx="484.5" cy="166.2" r="1.6" fill="none" stroke="#2a35a8" stroke-width="0.9"/>
<circle cx="485.1" cy="166.1" r="1.6" fill="none" stroke="#2a35a8" stroke-width="0.9"/>
<circle cx="485.8" cy="167.2" r="1.6" fill="none" stroke="#2a35a8" stroke-width="0.9"/>
<circle cx="486.4" cy="166.4" r="1.6" fill="none" stroke="#2a35a8" stroke-width="0.9"/>
<circle cx="487.1" cy="165.3" r="1.6" fill="none" stroke="#2a35a8" stroke-width="0.9"/>
<circle cx="487.7" cy="166.9" r="1.6" fill="none" stroke="#2a35a8" stroke-width="0.9"/>
<circle cx="488.4" cy="165.9" r="1.6" fill="none" stroke="#2a35a8" stroke-width="0.9"/>
<circle cx="489.0" cy="166.1" r="1.6" fill="none" stroke="#2a35a8" stroke-width="0.9"/>
<circle cx="489.7" cy="165.7" r="1.6" fill="none" stroke="#2a35a8" stroke-width="0.9"/>
<circle cx="490.3" cy="166.2" r="1.6" fill="none" stroke="#2a35a8" stroke-width="0.9"/>
<circle cx="491.0" cy="165.9" r="1.6" fill="none" stroke="#2a35a8" stroke-width="0.9"/>
<circle cx="491.6" cy="165.4" r="1.6" fill="none" stroke="#2a35a8" stroke-width="0.9"/>
<circle cx="492.3" cy="166.5" r="1.6" fill="none" stroke="#2a35a8" stroke-width="0.9"/>
<circle cx="492.9" cy="165.5" r="1.6" fill="none" stroke="#2a35a8" stroke-width="0.9"/>
<circle cx="493.6" cy="166.8" r="1.6" fill="none" stroke="#2a35a8" stroke-width="0.9"/>
<circle cx="494.2" cy="165.3" r="1.6" fill="none" stroke="#2a35a8" stroke-width="0.9"/>
<circle cx="494.9" cy="166.8" r="1.6" fill="none" stroke="#2a35a8" stroke-width="0.9"/>
<circle cx="495.5" cy="166.9" r="1.6" fill="none" stroke="#2a35a8" stroke-width="0.9"/>
<circle cx="496.2" cy="166.3" r="1.6" fill="none" stroke="#2a35a8" stroke-width="0.9"/>
<circle cx="496.8" cy="166.7" r="1.6" fill="none" stroke="#2a35a8" stroke-width="0.9"/>
<circle cx="497.5" cy="165.8" r="1.6" fill="none" stroke="#2a35a8" stroke-width="0.9"/>
<circle cx="498.1" cy="166.7" r="1.6" fill="none" stroke="#2a35a8" stroke-width="0.9"/>
<circle cx="498.8" cy="166.1" r="1.6" fill="none" stroke="#2a35a8" stroke-width="0.9"/>
<circle cx="499.4" cy="165.7" r="1.6" fill="none" stroke="#2a35a8" stroke-width="0.9"/>
<circle cx="500.1" cy="167.2" r="1.6" fill="none" stroke="#2a35a8" stroke-width="0.9"/>
<circle cx="500.7" cy="166.1" r="1.6" fill="none" stroke="#2a35a8" stroke-width="0.9"/>
<circle cx="501.4" cy="166.0" r="1.6" fill="none" stroke="#2a35a8" stroke-width="0.9"/>
<circle cx="502.0" cy="167.0" r="1.6" fill="none" stroke="#2a35a8" stroke-width="0.9"/>
<circle cx="502.7" cy="166.0" r="1.6" fill="none" stroke="#2a35a8" stroke-width="0.9"/>
<circle cx="503.3" cy="166.6" r="1.6" fill="none" stroke="#2a35a8" stroke-width="0.9"/>
<circle cx="504.0" cy="165.6" r="1.6" fill="none" stroke="#2a35a8" stroke-width="0.9"/>
<circle cx="504.6" cy="167.0" r="1.6" fill="none" stroke="#2a35a8" stroke-width="0.9"/>
<circle cx="505.3" cy="165.8" r="1.6" fill="none" stroke="#2a35a8" stroke-width="0.9"/>
<circle cx="505.9" cy="165.4" r="1.6" fill="none" stroke="#2a35a8" stroke-width="0.9"/>
<circle cx="506.6" cy="167.2" r="1.6" fill="none" stroke="#2a35a8" stroke-width="0.9"/>
<circle cx="507.2" cy="165.6" r="1.6" fill="none" stroke="#2a35a8" stroke-width="0.9"/>
<circle cx="507.9" cy="167.2" r="1.6" fill="none" stroke="#2a35a8" stroke-width="0.9"/>
<circle cx="508.5" cy="167.2" r="1.6" fill="none" stroke="#2a35a8" stroke-width="0.9"/>
<circle cx="509.2" cy="166.5" r="1.6" fill="none" stroke="#2a35a8" stroke-width="0.9"/>
<circle cx="509.8" cy="165.3" r="1.6" fill="none" stroke="#2a35a8" stroke-width="0.9"/>
<circle cx="510.5" cy="165.4" r="1.6" fill="none" stroke="#2a35a8" stroke-width="0.9"/>
<circle cx="511.1" cy="165.7" r="1.6" fill="none" stroke="#2a35a8" stroke-width="0.9"/>
<circle cx="511.8" cy="166.0" r="1.6" fill="none" stroke="#2a35a8" stroke-width="0.9"/>
<circle cx="512.4" cy="166.5" r="1.6" fill="none" stroke="#2a35a8" stroke-width="0.9"/>
<circle cx="513.1" cy="167.2" r="1.6" fill="none" stroke="#2a35a8" stroke-width="0.9"/>
<circle cx="513.7" cy="166.0" r="1.6" fill="none" stroke="#2a35a8" stroke-width="0.9"/>
<circle cx="514.4" cy="165.6" r="1.6" fill="none" stroke="#2a35a8" stroke-width="0.9"/>
<circle cx="515.0" cy="166.4" r="1.6" fill="none" stroke="#2a35a8" stroke-width="0.9"/>
<circle cx="515.6" cy="165.5" r="1.6" fill="none" stroke="#2a35a8" stroke-width="0.9"/>
<circle cx="516.3" cy="165.4" r="1.6" fill="none" stroke="#2a35a8" stroke-width="0.9"/>
<circle cx="516.9" cy="166.4" r="1.6" fill="none" stroke="#2a35a8" stroke-width="0.9"/>
<circle cx="517.6" cy="166.7" r="1.6" fill="none" stroke="#2a35a8" stroke-width="0.9"/>
<circle cx="518.2" cy="165.4" r="1.6" fill="none" stroke="#2a35a8" stroke-width="0.9"/>
<circle cx="518.9" cy="166.2" r="1.6" fill="none" stroke="#2a35a8" stroke-width="0.9"/>
<circle cx="519.5" cy="166.7" r="1.6" fill="none" stroke="#2a35a8" stroke-width="0.9"/>
<circle cx="520.2" cy="166.8" r="1.6" fill="none" stroke="#2a35a8" stroke-width="0.9"/>
<circle cx="520.8" cy="166.0" r="1.6" fill="none" stroke="#2a35a8" stroke-width="0.9"/>
<circle cx="521.5" cy="167.0" r="1.6" fill="none" stroke="#2a35a8" stroke-width="0.9"/>
<circle cx="522.1" cy="165.6" r="1.6" fill="none" stroke="#2a35a8" stroke-width="0.9"/>
<circle cx="522.8" cy="166.7" r="1.6" fill="none" stroke="#2a35a8" stroke-width="0.9"/>
<circle cx="523.4" cy="166.8" r="1.6" fill="none" stroke="#2a35a8" stroke-width="0.9"/>
<circle cx="439.8" cy="159" r="1.6" fill="none" stroke="#333" stroke-width="0.6"/>
<circle cx="439.8" cy="173.4" r="1.6" fill="none" stroke="#333" stroke-width="0.6"/>
<circle cx="428" cy="189.2" r="1.6" fill="none" stroke="#333" stroke-width="0.6"/>
<circle cx="428" cy="207.6" r="1.6" fill="none" stroke="#333" stroke-width="0.6"/>
<circle cx="471" cy="159.5" r="1.6" fill="none" stroke="#333" stroke-width="0.6"/>
<circle cx="475" cy="161" r="1.6" fill="none" stroke="#333" stroke-width="0.6"/>
<circle cx="492" cy="159.5" r="1.6" fill="none" stroke="#333" stroke-width="0.6"/>
<circle cx="521" cy="167" r="1.6" fill="none" stroke="#333" stroke-width="0.6"/>
<circle cx="428.8" cy="219.6" r="1.7" fill="none" stroke="#d42a2a" stroke-width="1.0"/>
<circle cx="429.5" cy="220.6" r="1.7" fill="none" stroke="#d42a2a" stroke-width="1.0"/>
<circle cx="430.1" cy="221.7" r="1.7" fill="none" stroke="#d42a2a" stroke-width="1.0"/>
<circle cx="430.8" cy="222.1" r="1.7" fill="none" stroke="#d42a2a" stroke-width="1.0"/>
<circle cx="431.4" cy="221.6" r="1.7" fill="none" stroke="#d42a2a" stroke-width="1.0"/>
<circle cx="432.1" cy="222.5" r="1.7" fill="none" stroke="#d42a2a" stroke-width="1.0"/>
<circle cx="432.7" cy="222.0" r="1.7" fill="none" stroke="#d42a2a" stroke-width="1.0"/>
<circle cx="433.4" cy="223.0" r="1.7" fill="none" stroke="#d42a2a" stroke-width="1.0"/>
<circle cx="434.0" cy="222.1" r="1.7" fill="none" stroke="#d42a2a" stroke-width="1.0"/>
<circle cx="434.7" cy="223.1" r="1.7" fill="none" stroke="#d42a2a" stroke-width="1.0"/>
<circle cx="435.3" cy="223.6" r="1.7" fill="none" stroke="#d42a2a" stroke-width="1.0"/>
<circle cx="436.0" cy="223.4" r="1.7" fill="none" stroke="#d42a2a" stroke-width="1.0"/>
<circle cx="436.6" cy="223.0" r="1.7" fill="none" stroke="#d42a2a" stroke-width="1.0"/>
<circle cx="437.3" cy="223.0" r="1.7" fill="none" stroke="#d42a2a" stroke-width="1.0"/>
<circle cx="437.9" cy="223.3" r="1.7" fill="none" stroke="#d42a2a" stroke-width="1.0"/>
<circle cx="438.6" cy="223.7" r="1.7" fill="none" stroke="#d42a2a" stroke-width="1.0"/>
<circle cx="439.2" cy="223.3" r="1.7" fill="none" stroke="#d42a2a" stroke-width="1.0"/>
<circle cx="439.9" cy="222.6" r="1.7" fill="none" stroke="#d42a2a" stroke-width="1.0"/>
<circle cx="440.5" cy="223.3" r="1.7" fill="none" stroke="#d42a2a" stroke-width="1.0"/>
<circle cx="441.2" cy="222.6" r="1.7" fill="none" stroke="#d42a2a" stroke-width="1.0"/>
<circle cx="441.8" cy="224.1" r="1.7" fill="none" stroke="#d42a2a" stroke-width="1.0"/>
<circle cx="442.5" cy="222.6" r="1.7" fill="none" stroke="#d42a2a" stroke-width="1.0"/>
<circle cx="443.1" cy="222.8" r="1.7" fill="none" stroke="#d42a2a" stroke-width="1.0"/>
<circle cx="443.8" cy="223.4" r="1.7" fill="none" stroke="#d42a2a" stroke-width="1.0"/>
<circle cx="444.4" cy="223.4" r="1.7" fill="none" stroke="#d42a2a" stroke-width="1.0"/>
<circle cx="445.1" cy="223.4" r="1.7" fill="none" stroke="#d42a2a" stroke-width="1.0"/>
<circle cx="445.7" cy="222.8" r="1.7" fill="none" stroke="#d42a2a" stroke-width="1.0"/>
<circle cx="446.4" cy="224.2" r="1.7" fill="none" stroke="#d42a2a" stroke-width="1.0"/>
<circle cx="447.0" cy="223.3" r="1.7" fill="none" stroke="#d42a2a" stroke-width="1.0"/>
<circle cx="447.7" cy="223.4" r="1.7" fill="none" stroke="#d42a2a" stroke-width="1.0"/>
<circle cx="448.3" cy="223.8" r="1.7" fill="none" stroke="#d42a2a" stroke-width="1.0"/>
<circle cx="449.0" cy="223.1" r="1.7" fill="none" stroke="#d42a2a" stroke-width="1.0"/>
<circle cx="449.6" cy="223.2" r="1.7" fill="none" stroke="#d42a2a" stroke-width="1.0"/>
<circle cx="450.3" cy="224.1" r="1.7" fill="none" stroke="#d42a2a" stroke-width="1.0"/>
<circle cx="450.9" cy="223.2" r="1.7" fill="none" stroke="#d42a2a" stroke-width="1.0"/>
<circle cx="451.6" cy="223.6" r="1.7" fill="none" stroke="#d42a2a" stroke-width="1.0"/>
<circle cx="452.2" cy="223.5" r="1.7" fill="none" stroke="#d42a2a" stroke-width="1.0"/>
<circle cx="452.9" cy="223.3" r="1.7" fill="none" stroke="#d42a2a" stroke-width="1.0"/>
<circle cx="453.5" cy="224.2" r="1.7" fill="none" stroke="#d42a2a" stroke-width="1.0"/>
<circle cx="454.2" cy="223.4" r="1.7" fill="none" stroke="#d42a2a" stroke-width="1.0"/>
<circle cx="454.8" cy="223.7" r="1.7" fill="none" stroke="#d42a2a" stroke-width="1.0"/>
<circle cx="455.5" cy="222.9" r="1.7" fill="none" stroke="#d42a2a" stroke-width="1.0"/>
<circle cx="456.1" cy="224.0" r="1.7" fill="none" stroke="#d42a2a" stroke-width="1.0"/>
<circle cx="456.8" cy="223.0" r="1.7" fill="none" stroke="#d42a2a" stroke-width="1.0"/>
<circle cx="457.4" cy="223.2" r="1.7" fill="none" stroke="#d42a2a" stroke-width="1.0"/>
<circle cx="458.1" cy="223.3" r="1.7" fill="none" stroke="#d42a2a" stroke-width="1.0"/>
<circle cx="458.7" cy="222.9" r="1.7" fill="none" stroke="#d42a2a" stroke-width="1.0"/>
<circle cx="459.4" cy="224.3" r="1.7" fill="none" stroke="#d42a2a" stroke-width="1.0"/>
<circle cx="460.0" cy="223.4" r="1.7" fill="none" stroke="#d42a2a" stroke-width="1.0"/>
<circle cx="460.7" cy="223.4" r="1.7" fill="none" stroke="#d42a2a" stroke-width="1.0"/>
<circle cx="461.3" cy="223.3" r="1.7" fill="none" stroke="#d42a2a" stroke-width="1.0"/>
<circle cx="462.0" cy="223.7" r="1.7" fill="none" stroke="#d42a2a" stroke-width="1.0"/>
<circle cx="462.6" cy="224.2" r="1.7" fill="none" stroke="#d42a2a" stroke-width="1.0"/>
<circle cx="463.3" cy="224.0" r="1.7" fill="none" stroke="#d42a2a" stroke-width="1.0"/>
<circle cx="463.9" cy="223.4" r="1.7" fill="none" stroke="#d42a2a" stroke-width="1.0"/>
<circle cx="464.6" cy="224.0" r="1.7" fill="none" stroke="#d42a2a" stroke-width="1.0"/>
<circle cx="465.2" cy="224.2" r="1.7" fill="none" stroke="#d42a2a" stroke-width="1.0"/>
<circle cx="465.9" cy="223.8" r="1.7" fill="none" stroke="#d42a2a" stroke-width="1.0"/>
<circle cx="466.5" cy="223.6" r="1.7" fill="none" stroke="#d42a2a" stroke-width="1.0"/>
<circle cx="467.2" cy="223.5" r="1.7" fill="none" stroke="#d42a2a" stroke-width="1.0"/>
<circle cx="467.8" cy="224.3" r="1.7" fill="none" stroke="#d42a2a" stroke-width="1.0"/>
<circle cx="468.5" cy="223.1" r="1.7" fill="none" stroke="#d42a2a" stroke-width="1.0"/>
<circle cx="469.1" cy="223.8" r="1.7" fill="none" stroke="#d42a2a" stroke-width="1.0"/>
<circle cx="469.8" cy="223.1" r="1.7" fill="none" stroke="#d42a2a" stroke-width="1.0"/>
<circle cx="470.4" cy="224.3" r="1.7" fill="none" stroke="#d42a2a" stroke-width="1.0"/>
<circle cx="471.1" cy="222.8" r="1.7" fill="none" stroke="#d42a2a" stroke-width="1.0"/>
<circle cx="471.7" cy="223.4" r="1.7" fill="none" stroke="#d42a2a" stroke-width="1.0"/>
<circle cx="472.3" cy="222.8" r="1.7" fill="none" stroke="#d42a2a" stroke-width="1.0"/>
<circle cx="473.0" cy="222.8" r="1.7" fill="none" stroke="#d42a2a" stroke-width="1.0"/>
<circle cx="473.6" cy="223.0" r="1.7" fill="none" stroke="#d42a2a" stroke-width="1.0"/>
<circle cx="474.3" cy="224.2" r="1.7" fill="none" stroke="#d42a2a" stroke-width="1.0"/>
<circle cx="474.9" cy="223.8" r="1.7" fill="none" stroke="#d42a2a" stroke-width="1.0"/>
<circle cx="475.6" cy="224.0" r="1.7" fill="none" stroke="#d42a2a" stroke-width="1.0"/>
<circle cx="476.2" cy="223.1" r="1.7" fill="none" stroke="#d42a2a" stroke-width="1.0"/>
<circle cx="476.9" cy="224.0" r="1.7" fill="none" stroke="#d42a2a" stroke-width="1.0"/>
<circle cx="477.5" cy="224.0" r="1.7" fill="none" stroke="#d42a2a" stroke-width="1.0"/>
<circle cx="478.2" cy="224.2" r="1.7" fill="none" stroke="#d42a2a" stroke-width="1.0"/>
<circle cx="478.8" cy="224.1" r="1.7" fill="none" stroke="#d42a2a" stroke-width="1.0"/>
<circle cx="479.5" cy="222.8" r="1.7" fill="none" stroke="#d42a2a" stroke-width="1.0"/>
<circle cx="480.1" cy="222.8" r="1.7" fill="none" stroke="#d42a2a" stroke-width="1.0"/>
<circle cx="480.8" cy="223.7" r="1.7" fill="none" stroke="#d42a2a" stroke-width="1.0"/>
<circle cx="481.4" cy="223.2" r="1.7" fill="none" stroke="#d42a2a" stroke-width="1.0"/>
<circle cx="482.1" cy="223.6" r="1.7" fill="none" stroke="#d42a2a" stroke-width="1.0"/>
<circle cx="482.7" cy="223.5" r="1.7" fill="none" stroke="#d42a2a" stroke-width="1.0"/>
<circle cx="483.4" cy="223.7" r="1.7" fill="none" stroke="#d42a2a" stroke-width="1.0"/>
<circle cx="484.0" cy="223.3" r="1.7" fill="none" stroke="#d42a2a" stroke-width="1.0"/>
<circle cx="484.7" cy="224.0" r="1.7" fill="none" stroke="#d42a2a" stroke-width="1.0"/>
<circle cx="485.3" cy="223.9" r="1.7" fill="none" stroke="#d42a2a" stroke-width="1.0"/>
<circle cx="486.0" cy="223.5" r="1.7" fill="none" stroke="#d42a2a" stroke-width="1.0"/>
<circle cx="486.6" cy="224.0" r="1.7" fill="none" stroke="#d42a2a" stroke-width="1.0"/>
<circle cx="487.3" cy="223.6" r="1.7" fill="none" stroke="#d42a2a" stroke-width="1.0"/>
<circle cx="487.9" cy="222.8" r="1.7" fill="none" stroke="#d42a2a" stroke-width="1.0"/>
<circle cx="488.6" cy="224.3" r="1.7" fill="none" stroke="#d42a2a" stroke-width="1.0"/>
<circle cx="489.2" cy="224.2" r="1.7" fill="none" stroke="#d42a2a" stroke-width="1.0"/>
<circle cx="489.9" cy="223.1" r="1.7" fill="none" stroke="#d42a2a" stroke-width="1.0"/>
<circle cx="490.5" cy="224.2" r="1.7" fill="none" stroke="#d42a2a" stroke-width="1.0"/>
<circle cx="491.2" cy="223.9" r="1.7" fill="none" stroke="#d42a2a" stroke-width="1.0"/>
<circle cx="491.8" cy="223.0" r="1.7" fill="none" stroke="#d42a2a" stroke-width="1.0"/>
<circle cx="492.5" cy="223.4" r="1.7" fill="none" stroke="#d42a2a" stroke-width="1.0"/>
<circle cx="493.1" cy="224.0" r="1.7" fill="none" stroke="#d42a2a" stroke-width="1.0"/>
<circle cx="493.8" cy="224.2" r="1.7" fill="none" stroke="#d42a2a" stroke-width="1.0"/>
<circle cx="494.4" cy="223.9" r="1.7" fill="none" stroke="#d42a2a" stroke-width="1.0"/>
<circle cx="495.1" cy="223.9" r="1.7" fill="none" stroke="#d42a2a" stroke-width="1.0"/>
<circle cx="495.7" cy="223.1" r="1.7" fill="none" stroke="#d42a2a" stroke-width="1.0"/>
<circle cx="496.4" cy="222.8" r="1.7" fill="none" stroke="#d42a2a" stroke-width="1.0"/>
<circle cx="497.0" cy="223.1" r="1.7" fill="none" stroke="#d42a2a" stroke-width="1.0"/>
<circle cx="497.7" cy="222.9" r="1.7" fill="none" stroke="#d42a2a" stroke-width="1.0"/>
<circle cx="498.3" cy="222.8" r="1.7" fill="none" stroke="#d42a2a" stroke-width="1.0"/>
<circle cx="499.0" cy="222.9" r="1.7" fill="none" stroke="#d42a2a" stroke-width="1.0"/>
<circle cx="499.6" cy="222.9" r="1.7" fill="none" stroke="#d42a2a" stroke-width="1.0"/>
<circle cx="500.3" cy="222.8" r="1.7" fill="none" stroke="#d42a2a" stroke-width="1.0"/>
<circle cx="500.9" cy="224.2" r="1.7" fill="none" stroke="#d42a2a" stroke-width="1.0"/>
<circle cx="501.6" cy="223.8" r="1.7" fill="none" stroke="#d42a2a" stroke-width="1.0"/>
<circle cx="502.2" cy="223.9" r="1.7" fill="none" stroke="#d42a2a" stroke-width="1.0"/>
<circle cx="502.9" cy="223.4" r="1.7" fill="none" stroke="#d42a2a" stroke-width="1.0"/>
<circle cx="503.5" cy="223.6" r="1.7" fill="none" stroke="#d42a2a" stroke-width="1.0"/>
<circle cx="504.2" cy="223.8" r="1.7" fill="none" stroke="#d42a2a" stroke-width="1.0"/>
<circle cx="504.8" cy="223.0" r="1.7" fill="none" stroke="#d42a2a" stroke-width="1.0"/>
<circle cx="505.5" cy="223.7" r="1.7" fill="none" stroke="#d42a2a" stroke-width="1.0"/>
<circle cx="506.1" cy="224.0" r="1.7" fill="none" stroke="#d42a2a" stroke-width="1.0"/>
<circle cx="506.8" cy="223.9" r="1.7" fill="none" stroke="#d42a2a" stroke-width="1.0"/>
<circle cx="507.4" cy="223.6" r="1.7" fill="none" stroke="#d42a2a" stroke-width="1.0"/>
<circle cx="508.1" cy="223.4" r="1.7" fill="none" stroke="#d42a2a" stroke-width="1.0"/>
<circle cx="508.7" cy="223.4" r="1.7" fill="none" stroke="#d42a2a" stroke-width="1.0"/>
<circle cx="509.4" cy="223.6" r="1.7" fill="none" stroke="#d42a2a" stroke-width="1.0"/>
<circle cx="510.0" cy="224.0" r="1.7" fill="none" stroke="#d42a2a" stroke-width="1.0"/>
<circle cx="510.7" cy="223.7" r="1.7" fill="none" stroke="#d42a2a" stroke-width="1.0"/>
<circle cx="511.3" cy="223.8" r="1.7" fill="none" stroke="#d42a2a" stroke-width="1.0"/>
<circle cx="512.0" cy="224.1" r="1.7" fill="none" stroke="#d42a2a" stroke-width="1.0"/>
<circle cx="512.6" cy="223.5" r="1.7" fill="none" stroke="#d42a2a" stroke-width="1.0"/>
<circle cx="513.3" cy="224.0" r="1.7" fill="none" stroke="#d42a2a" stroke-width="1.0"/>
<circle cx="513.9" cy="223.2" r="1.7" fill="none" stroke="#d42a2a" stroke-width="1.0"/>
<circle cx="514.6" cy="223.3" r="1.7" fill="none" stroke="#d42a2a" stroke-width="1.0"/>
<circle cx="515.2" cy="224.1" r="1.7" fill="none" stroke="#d42a2a" stroke-width="1.0"/>
<circle cx="515.9" cy="223.3" r="1.7" fill="none" stroke="#d42a2a" stroke-width="1.0"/>
<circle cx="516.5" cy="223.8" r="1.7" fill="none" stroke="#d42a2a" stroke-width="1.0"/>
<circle cx="517.2" cy="223.6" r="1.7" fill="none" stroke="#d42a2a" stroke-width="1.0"/>
<circle cx="517.8" cy="223.4" r="1.7" fill="none" stroke="#d42a2a" stroke-width="1.0"/>
<circle cx="518.5" cy="223.1" r="1.7" fill="none" stroke="#d42a2a" stroke-width="1.0"/>
<circle cx="519.1" cy="222.9" r="1.7" fill="none" stroke="#d42a2a" stroke-width="1.0"/>
<circle cx="519.8" cy="223.2" r="1.7" fill="none" stroke="#d42a2a" stroke-width="1.0"/>
<circle cx="520.4" cy="224.0" r="1.7" fill="none" stroke="#d42a2a" stroke-width="1.0"/>
<circle cx="521.1" cy="223.5" r="1.7" fill="none" stroke="#d42a2a" stroke-width="1.0"/>
<circle cx="521.7" cy="223.8" r="1.7" fill="none" stroke="#d42a2a" stroke-width="1.0"/>
<circle cx="522.4" cy="224.3" r="1.7" fill="none" stroke="#d42a2a" stroke-width="1.0"/>
<circle cx="523.0" cy="223.5" r="1.7" fill="none" stroke="#d42a2a" stroke-width="1.0"/>
<circle cx="523.7" cy="223.6" r="1.7" fill="none" stroke="#d42a2a" stroke-width="1.0"/>
<line x1="426.7" y1="158.0" x2="524.6" y2="158.0" stroke="#555" stroke-width="0.8"/>
<line x1="426.7" y1="158.0" x2="426.7" y2="252.4" stroke="#555" stroke-width="0.8"/>
<line x1="426.7" y1="252.4" x2="524.6" y2="252.4" stroke="#555" stroke-width="0.8"/>
<line x1="524.6" y1="158.0" x2="524.6" y2="252.4" stroke="#4c5aa8" stroke-width="0.9"/>
<line x1="425.2" y1="244.6" x2="426.7" y2="244.6" stroke="#555" stroke-width="0.7"/>
<text x="422.3" y="247.1" font-size="6.9" text-anchor="end" font-weight="normal" fill="#505050" style="font-family:'Liberation Sans',sans-serif" >0</text>
<line x1="425.2" y1="224.605" x2="426.7" y2="224.605" stroke="#555" stroke-width="0.7"/>
<text x="422.3" y="227.105" font-size="6.9" text-anchor="end" font-weight="normal" fill="#505050" style="font-family:'Liberation Sans',sans-serif" >150</text>
<line x1="425.2" y1="204.60999999999999" x2="426.7" y2="204.60999999999999" stroke="#555" stroke-width="0.7"/>
<text x="422.3" y="207.10999999999999" font-size="6.9" text-anchor="end" font-weight="normal" fill="#505050" style="font-family:'Liberation Sans',sans-serif" >300</text>
<line x1="425.2" y1="184.615" x2="426.7" y2="184.615" stroke="#555" stroke-width="0.7"/>
<text x="422.3" y="187.115" font-size="6.9" text-anchor="end" font-weight="normal" fill="#505050" style="font-family:'Liberation Sans',sans-serif" >450</text>
<line x1="425.2" y1="164.62" x2="426.7" y2="164.62" stroke="#555" stroke-width="0.7"/>
<text x="422.3" y="167.12" font-size="6.9" text-anchor="end" font-weight="normal" fill="#505050" style="font-family:'Liberation Sans',sans-serif" >700</text>
<line x1="524.6" y1="243.2" x2="526.1" y2="243.2" stroke="#4c5aa8" stroke-width="0.7"/>
<text x="528.4" y="245.39999999999998" font-size="6.2" text-anchor="start" font-weight="normal" fill="#5a68a8" style="font-family:'Liberation Sans',sans-serif" >0</text>
<line x1="524.6" y1="223.575" x2="526.1" y2="223.575" stroke="#4c5aa8" stroke-width="0.7"/>
<text x="528.4" y="225.77499999999998" font-size="6.2" text-anchor="start" font-weight="normal" fill="#5a68a8" style="font-family:'Liberation Sans',sans-serif" textLength="5.6" lengthAdjust="spacingAndGlyphs" >25</text>
<line x1="524.6" y1="203.95" x2="526.1" y2="203.95" stroke="#4c5aa8" stroke-width="0.7"/>
<text x="528.4" y="206.14999999999998" font-size="6.2" text-anchor="start" font-weight="normal" fill="#5a68a8" style="font-family:'Liberation Sans',sans-serif" textLength="5.6" lengthAdjust="spacingAndGlyphs" >50</text>
<line x1="524.6" y1="184.325" x2="526.1" y2="184.325" stroke="#4c5aa8" stroke-width="0.7"/>
<text x="528.4" y="186.52499999999998" font-size="6.2" text-anchor="start" font-weight="normal" fill="#5a68a8" style="font-family:'Liberation Sans',sans-serif" textLength="5.6" lengthAdjust="spacingAndGlyphs" >75</text>
<line x1="524.6" y1="164.7" x2="526.1" y2="164.7" stroke="#4c5aa8" stroke-width="0.7"/>
<text x="528.4" y="166.89999999999998" font-size="6.2" text-anchor="start" font-weight="normal" fill="#5a68a8" style="font-family:'Liberation Sans',sans-serif" textLength="8.4" lengthAdjust="spacingAndGlyphs" >100</text>
<line x1="428.4" y1="252.4" x2="428.4" y2="253.9" stroke="#555" stroke-width="0.7"/>
<text x="428.4" y="262.5" font-size="7.0" text-anchor="middle" font-weight="normal" fill="#444" style="font-family:'Liberation Sans',sans-serif" >0</text>
<line x1="450.04999999999995" y1="252.4" x2="450.04999999999995" y2="253.9" stroke="#555" stroke-width="0.7"/>
<text x="450.04999999999995" y="262.5" font-size="7.0" text-anchor="middle" font-weight="normal" fill="#444" style="font-family:'Liberation Sans',sans-serif" >100</text>
<line x1="471.7" y1="252.4" x2="471.7" y2="253.9" stroke="#555" stroke-width="0.7"/>
<text x="471.7" y="262.5" font-size="7.0" text-anchor="middle" font-weight="normal" fill="#444" style="font-family:'Liberation Sans',sans-serif" >200</text>
<line x1="493.34999999999997" y1="252.4" x2="493.34999999999997" y2="253.9" stroke="#555" stroke-width="0.7"/>
<text x="493.34999999999997" y="262.5" font-size="7.0" text-anchor="middle" font-weight="normal" fill="#444" style="font-family:'Liberation Sans',sans-serif" >300</text>
<line x1="515.0" y1="252.4" x2="515.0" y2="253.9" stroke="#555" stroke-width="0.7"/>
<text x="515.0" y="262.5" font-size="7.0" text-anchor="middle" font-weight="normal" fill="#444" style="font-family:'Liberation Sans',sans-serif" >400</text>
<text x="480" y="272.7" font-size="6.6" text-anchor="middle" font-weight="normal" fill="#333" style="font-family:'Liberation Sans',sans-serif" textLength="40.8" lengthAdjust="spacingAndGlyphs" >Cycle number</text>
<text transform="translate(410,205) rotate(-90)" x="0" y="0" font-size="6.5" text-anchor="middle" font-weight="normal" fill="#444" style="font-family:'Liberation Sans',sans-serif" textLength="75.4" lengthAdjust="spacingAndGlyphs">Specific Capacity (mAh/g)</text>
<text transform="translate(543.3,206.6) rotate(-90)" x="0" y="0" font-size="8.6" text-anchor="middle" font-weight="normal" fill="#5666a6" style="font-family:'Liberation Sans',sans-serif" textLength="97.5" lengthAdjust="spacingAndGlyphs">Coulombic Efficiency (%)</text>
<text x="440.3" y="190.3" font-size="6.8" text-anchor="start" font-weight="normal" fill="#222" style="font-family:'Liberation Sans',sans-serif" textLength="18.4" lengthAdjust="spacingAndGlyphs" >−25 °C</text>
<line x1="480.5" y1="181.1" x2="488" y2="181.1" stroke="#222" stroke-width="0.7"/><circle cx="484.2" cy="181.1" r="1.5" fill="#fff" stroke="#222" stroke-width="0.7"/>
<text x="489.8" y="183.1" font-size="5.8" text-anchor="start" font-weight="normal" fill="#222" style="font-family:'Liberation Sans',sans-serif" textLength="22.8" lengthAdjust="spacingAndGlyphs" >sodiation</text>
<line x1="480.5" y1="189.3" x2="488" y2="189.3" stroke="#d42a2a" stroke-width="0.7"/><path d="M484.2,187.6 L485.9,189.3 L484.2,191 L482.5,189.3 Z" fill="#fff" stroke="#d42a2a" stroke-width="0.7"/>
<text x="489.8" y="191.3" font-size="5.8" text-anchor="start" font-weight="normal" fill="#222" style="font-family:'Liberation Sans',sans-serif" textLength="29" lengthAdjust="spacingAndGlyphs" >desodiation</text>
</svg>
</body></html>
